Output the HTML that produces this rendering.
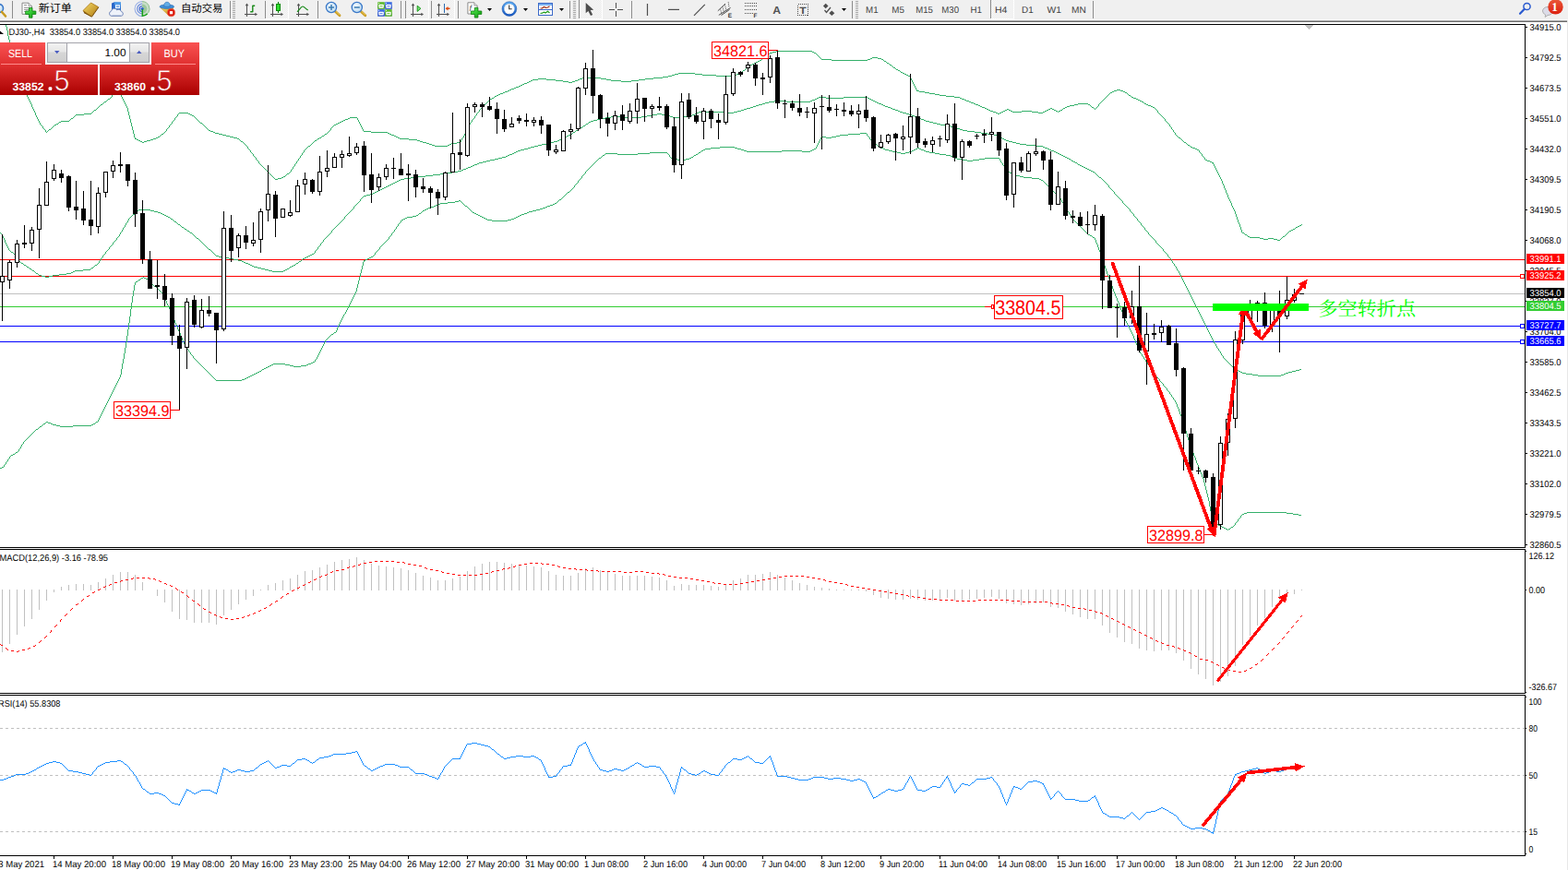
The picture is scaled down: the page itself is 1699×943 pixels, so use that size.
<!DOCTYPE html>
<html lang="zh"><head><meta charset="utf-8"><title>DJ30-,H4</title>
<style>
html,body{margin:0;padding:0;background:#fff;overflow:hidden}
svg{display:block}
text{font-family:"Liberation Sans",sans-serif;white-space:pre;text-rendering:geometricPrecision}
</style></head><body>
<svg width="1699" height="943" viewBox="0 0 1699 943">
<rect x="0" y="0" width="1699" height="943" fill="#fff"/>
<g shape-rendering="crispEdges">
<rect x="0" y="281" width="1652" height="1" fill="#ff0000"/>
<rect x="0" y="299" width="1652" height="1" fill="#ff0000"/>
<rect x="0" y="318" width="1652" height="1" fill="#c0c0c0"/>
<rect x="0" y="332" width="1652" height="1" fill="#32cd32"/>
<rect x="0" y="353" width="1652" height="1" fill="#0000ff"/>
<rect x="0" y="370" width="1652" height="1" fill="#0000ff"/>
</g>
<g shape-rendering="crispEdges">
<path d="M6 27h1v1h-1zM6 28h1v1h-1zM7 29h1v1h-1zM7 30h1v1h-1zM7 31h1v1h-1zM7 32h1v1h-1zM8 33h1v1h-1zM8 34h1v1h-1zM8 35h1v1h-1zM8 36h1v1h-1zM8 37h1v1h-1zM8 38h1v1h-1zM9 39h1v1h-1zM9 40h1v1h-1zM9 41h1v1h-1zM9 42h1v1h-1zM10 43h1v1h-1zM10 44h1v1h-1zM10 45h1v1h-1zM10 46h1v1h-1zM11 47h1v1h-1zM11 48h1v1h-1zM11 49h1v1h-1zM11 50h1v1h-1zM12 51h1v1h-1zM12 52h1v1h-1zM12 53h1v1h-1zM12 54h1v1h-1zM13 55h1v1h-1zM841 55h39v1h-39zM13 56h1v1h-1zM837 56h4v1h-4zM880 56h2v1h-2zM13 57h1v1h-1zM834 57h3v1h-3zM882 57h2v1h-2zM13 58h1v1h-1zM833 58h1v1h-1zM884 58h1v1h-1zM14 59h1v1h-1zM831 59h2v1h-2zM885 59h1v1h-1zM14 60h1v1h-1zM830 60h1v1h-1zM886 60h1v1h-1zM14 61h1v1h-1zM829 61h1v1h-1zM887 61h1v1h-1zM15 62h1v1h-1zM827 62h2v1h-2zM888 62h1v1h-1zM945 62h6v1h-6zM15 63h1v1h-1zM826 63h1v1h-1zM889 63h1v1h-1zM943 63h2v1h-2zM951 63h4v1h-4zM15 64h1v1h-1zM825 64h1v1h-1zM890 64h11v1h-11zM940 64h3v1h-3zM955 64h2v1h-2zM15 65h1v1h-1zM823 65h2v1h-2zM901 65h39v1h-39zM957 65h1v1h-1zM16 66h1v1h-1zM821 66h2v1h-2zM958 66h2v1h-2zM16 67h1v1h-1zM819 67h2v1h-2zM960 67h1v1h-1zM16 68h1v1h-1zM817 68h2v1h-2zM961 68h2v1h-2zM16 69h1v1h-1zM815 69h2v1h-2zM963 69h1v1h-1zM17 70h1v1h-1zM813 70h2v1h-2zM964 70h2v1h-2zM17 71h1v1h-1zM811 71h2v1h-2zM966 71h1v1h-1zM17 72h1v1h-1zM810 72h1v1h-1zM967 72h1v1h-1zM18 73h1v1h-1zM809 73h1v1h-1zM968 73h2v1h-2zM18 74h1v1h-1zM808 74h1v1h-1zM970 74h1v1h-1zM18 75h1v1h-1zM807 75h1v1h-1zM971 75h2v1h-2zM18 76h1v1h-1zM805 76h2v1h-2zM973 76h2v1h-2zM19 77h1v1h-1zM804 77h1v1h-1zM975 77h1v1h-1zM19 78h1v1h-1zM803 78h1v1h-1zM976 78h2v1h-2zM19 79h1v1h-1zM735 79h18v1h-18zM801 79h2v1h-2zM978 79h2v1h-2zM19 80h1v1h-1zM731 80h4v1h-4zM753 80h8v1h-8zM798 80h3v1h-3zM980 80h2v1h-2zM20 81h1v1h-1zM728 81h3v1h-3zM761 81h15v1h-15zM794 81h4v1h-4zM982 81h2v1h-2zM20 82h1v1h-1zM724 82h4v1h-4zM776 82h18v1h-18zM984 82h2v1h-2zM20 83h1v1h-1zM718 83h6v1h-6zM986 83h1v1h-1zM21 84h1v1h-1zM631 84h20v1h-20zM708 84h10v1h-10zM986 84h1v1h-1zM21 85h1v1h-1zM583 85h9v1h-9zM628 85h3v1h-3zM651 85h6v1h-6zM699 85h9v1h-9zM987 85h1v1h-1zM22 86h1v1h-1zM577 86h6v1h-6zM592 86h10v1h-10zM626 86h2v1h-2zM657 86h5v1h-5zM692 86h7v1h-7zM987 86h1v1h-1zM22 87h1v1h-1zM575 87h2v1h-2zM602 87h8v1h-8zM623 87h3v1h-3zM662 87h11v1h-11zM684 87h8v1h-8zM988 87h1v1h-1zM22 88h1v1h-1zM573 88h2v1h-2zM610 88h6v1h-6zM620 88h3v1h-3zM673 88h11v1h-11zM988 88h1v1h-1zM23 89h1v1h-1zM571 89h2v1h-2zM616 89h4v1h-4zM989 89h1v1h-1zM23 90h1v1h-1zM568 90h3v1h-3zM989 90h1v1h-1zM24 91h1v1h-1zM566 91h2v1h-2zM990 91h1v1h-1zM24 92h1v1h-1zM564 92h2v1h-2zM990 92h1v1h-1zM24 93h1v1h-1zM562 93h2v1h-2zM991 93h1v1h-1zM25 94h1v1h-1zM559 94h3v1h-3zM991 94h1v1h-1zM25 95h1v1h-1zM557 95h2v1h-2zM992 95h1v1h-1zM26 96h1v1h-1zM554 96h3v1h-3zM992 96h1v1h-1zM26 97h1v1h-1zM552 97h2v1h-2zM993 97h1v1h-1zM1210 97h4v1h-4zM26 98h1v1h-1zM126 98h1v1h-1zM550 98h2v1h-2zM993 98h3v1h-3zM1207 98h3v1h-3zM1214 98h3v1h-3zM27 99h1v1h-1zM124 99h2v1h-2zM127 99h2v1h-2zM547 99h3v1h-3zM996 99h6v1h-6zM1205 99h2v1h-2zM1217 99h2v1h-2zM27 100h1v1h-1zM123 100h1v1h-1zM129 100h1v1h-1zM545 100h2v1h-2zM1002 100h5v1h-5zM1203 100h2v1h-2zM1219 100h2v1h-2zM28 101h1v1h-1zM122 101h1v1h-1zM130 101h1v1h-1zM542 101h3v1h-3zM1007 101h6v1h-6zM1202 101h1v1h-1zM1221 101h1v1h-1zM28 102h1v1h-1zM122 102h1v1h-1zM130 102h1v1h-1zM540 102h2v1h-2zM1013 102h5v1h-5zM1201 102h1v1h-1zM1222 102h1v1h-1zM29 103h1v1h-1zM121 103h1v1h-1zM131 103h1v1h-1zM538 103h2v1h-2zM1018 103h7v1h-7zM1200 103h1v1h-1zM1223 103h2v1h-2zM29 104h1v1h-1zM121 104h1v1h-1zM131 104h1v1h-1zM536 104h2v1h-2zM1025 104h9v1h-9zM1199 104h1v1h-1zM1225 104h1v1h-1zM30 105h1v1h-1zM120 105h1v1h-1zM132 105h1v1h-1zM535 105h1v1h-1zM1034 105h6v1h-6zM1198 105h1v1h-1zM1226 105h2v1h-2zM30 106h1v1h-1zM119 106h1v1h-1zM132 106h1v1h-1zM533 106h2v1h-2zM1040 106h2v1h-2zM1197 106h1v1h-1zM1228 106h3v1h-3zM31 107h1v1h-1zM117 107h2v1h-2zM133 107h1v1h-1zM531 107h2v1h-2zM1042 107h3v1h-3zM1196 107h1v1h-1zM1231 107h2v1h-2zM31 108h1v1h-1zM116 108h1v1h-1zM133 108h1v1h-1zM530 108h1v1h-1zM1045 108h2v1h-2zM1195 108h1v1h-1zM1233 108h2v1h-2zM32 109h1v1h-1zM115 109h1v1h-1zM134 109h1v1h-1zM529 109h1v1h-1zM1047 109h3v1h-3zM1194 109h1v1h-1zM1235 109h2v1h-2zM32 110h1v1h-1zM113 110h2v1h-2zM134 110h1v1h-1zM528 110h1v1h-1zM1050 110h2v1h-2zM1193 110h1v1h-1zM1237 110h2v1h-2zM33 111h1v1h-1zM112 111h1v1h-1zM135 111h1v1h-1zM527 111h1v1h-1zM1052 111h3v1h-3zM1192 111h1v1h-1zM1239 111h1v1h-1zM33 112h1v1h-1zM111 112h1v1h-1zM135 112h1v1h-1zM526 112h1v1h-1zM1055 112h2v1h-2zM1168 112h11v1h-11zM1191 112h1v1h-1zM1240 112h2v1h-2zM34 113h1v1h-1zM109 113h2v1h-2zM136 113h1v1h-1zM525 113h1v1h-1zM1057 113h3v1h-3zM1164 113h4v1h-4zM1179 113h2v1h-2zM1190 113h1v1h-1zM1242 113h2v1h-2zM34 114h1v1h-1zM108 114h1v1h-1zM136 114h1v1h-1zM524 114h1v1h-1zM1060 114h2v1h-2zM1159 114h5v1h-5zM1181 114h1v1h-1zM1190 114h1v1h-1zM1244 114h3v1h-3zM34 115h1v1h-1zM107 115h1v1h-1zM137 115h1v1h-1zM523 115h1v1h-1zM1062 115h2v1h-2zM1156 115h3v1h-3zM1182 115h1v1h-1zM1189 115h1v1h-1zM1247 115h2v1h-2zM35 116h1v1h-1zM106 116h1v1h-1zM137 116h1v1h-1zM522 116h1v1h-1zM1064 116h3v1h-3zM1154 116h2v1h-2zM1183 116h2v1h-2zM1188 116h1v1h-1zM1249 116h2v1h-2zM35 117h1v1h-1zM105 117h1v1h-1zM138 117h1v1h-1zM521 117h1v1h-1zM1067 117h2v1h-2zM1138 117h2v1h-2zM1152 117h2v1h-2zM1185 117h1v1h-1zM1187 117h1v1h-1zM1251 117h1v1h-1zM36 118h1v1h-1zM104 118h1v1h-1zM138 118h1v1h-1zM520 118h1v1h-1zM1069 118h2v1h-2zM1091 118h2v1h-2zM1136 118h2v1h-2zM1140 118h2v1h-2zM1151 118h1v1h-1zM1186 118h1v1h-1zM1252 118h1v1h-1zM36 119h1v1h-1zM102 119h2v1h-2zM138 119h1v1h-1zM519 119h1v1h-1zM1071 119h2v1h-2zM1089 119h2v1h-2zM1093 119h2v1h-2zM1134 119h2v1h-2zM1142 119h2v1h-2zM1149 119h2v1h-2zM1253 119h1v1h-1zM37 120h1v1h-1zM101 120h1v1h-1zM138 120h1v1h-1zM519 120h1v1h-1zM1073 120h3v1h-3zM1087 120h2v1h-2zM1095 120h2v1h-2zM1107 120h11v1h-11zM1132 120h2v1h-2zM1144 120h2v1h-2zM1147 120h2v1h-2zM1254 120h1v1h-1zM37 121h1v1h-1zM100 121h1v1h-1zM139 121h1v1h-1zM518 121h1v1h-1zM1076 121h3v1h-3zM1085 121h2v1h-2zM1097 121h10v1h-10zM1118 121h7v1h-7zM1130 121h2v1h-2zM1146 121h1v1h-1zM1254 121h1v1h-1zM38 122h1v1h-1zM99 122h1v1h-1zM139 122h1v1h-1zM194 122h10v1h-10zM517 122h1v1h-1zM1079 122h2v1h-2zM1083 122h2v1h-2zM1125 122h5v1h-5zM1255 122h1v1h-1zM38 123h1v1h-1zM91 123h8v1h-8zM139 123h1v1h-1zM193 123h1v1h-1zM204 123h2v1h-2zM516 123h1v1h-1zM1081 123h2v1h-2zM1256 123h1v1h-1zM38 124h1v1h-1zM82 124h9v1h-9zM139 124h1v1h-1zM192 124h1v1h-1zM206 124h2v1h-2zM516 124h1v1h-1zM1257 124h1v1h-1zM39 125h1v1h-1zM81 125h1v1h-1zM140 125h1v1h-1zM192 125h1v1h-1zM208 125h2v1h-2zM515 125h1v1h-1zM1258 125h1v1h-1zM39 126h1v1h-1zM80 126h1v1h-1zM140 126h1v1h-1zM191 126h1v1h-1zM210 126h1v1h-1zM514 126h1v1h-1zM1259 126h1v1h-1zM40 127h1v1h-1zM79 127h1v1h-1zM140 127h1v1h-1zM190 127h1v1h-1zM211 127h1v1h-1zM379 127h8v1h-8zM514 127h1v1h-1zM1260 127h1v1h-1zM40 128h1v1h-1zM77 128h2v1h-2zM140 128h1v1h-1zM189 128h1v1h-1zM212 128h1v1h-1zM377 128h2v1h-2zM387 128h1v1h-1zM513 128h1v1h-1zM1261 128h1v1h-1zM41 129h1v1h-1zM76 129h1v1h-1zM141 129h1v1h-1zM189 129h1v1h-1zM213 129h1v1h-1zM374 129h3v1h-3zM387 129h1v1h-1zM512 129h1v1h-1zM1262 129h1v1h-1zM41 130h1v1h-1zM75 130h1v1h-1zM141 130h1v1h-1zM188 130h1v1h-1zM214 130h1v1h-1zM372 130h2v1h-2zM388 130h1v1h-1zM511 130h1v1h-1zM1262 130h1v1h-1zM42 131h1v1h-1zM66 131h9v1h-9zM141 131h1v1h-1zM187 131h1v1h-1zM215 131h1v1h-1zM370 131h2v1h-2zM388 131h1v1h-1zM511 131h1v1h-1zM1263 131h1v1h-1zM42 132h1v1h-1zM64 132h2v1h-2zM141 132h1v1h-1zM186 132h1v1h-1zM216 132h1v1h-1zM368 132h2v1h-2zM389 132h1v1h-1zM510 132h1v1h-1zM1264 132h1v1h-1zM43 133h1v1h-1zM63 133h1v1h-1zM142 133h1v1h-1zM186 133h1v1h-1zM217 133h2v1h-2zM366 133h2v1h-2zM389 133h1v1h-1zM509 133h1v1h-1zM1265 133h1v1h-1zM43 134h1v1h-1zM61 134h2v1h-2zM142 134h1v1h-1zM185 134h1v1h-1zM219 134h1v1h-1zM364 134h2v1h-2zM390 134h1v1h-1zM509 134h1v1h-1zM1266 134h1v1h-1zM44 135h1v1h-1zM59 135h2v1h-2zM142 135h1v1h-1zM184 135h1v1h-1zM220 135h1v1h-1zM362 135h2v1h-2zM390 135h1v1h-1zM508 135h1v1h-1zM1267 135h1v1h-1zM45 136h1v1h-1zM58 136h1v1h-1zM142 136h1v1h-1zM183 136h1v1h-1zM221 136h1v1h-1zM361 136h1v1h-1zM391 136h1v1h-1zM508 136h1v1h-1zM1267 136h1v1h-1zM46 137h1v1h-1zM57 137h1v1h-1zM143 137h1v1h-1zM183 137h1v1h-1zM222 137h1v1h-1zM360 137h1v1h-1zM391 137h1v1h-1zM507 137h1v1h-1zM1268 137h1v1h-1zM46 138h1v1h-1zM56 138h1v1h-1zM143 138h1v1h-1zM182 138h1v1h-1zM223 138h1v1h-1zM359 138h1v1h-1zM392 138h1v1h-1zM507 138h1v1h-1zM1269 138h1v1h-1zM47 139h1v1h-1zM55 139h1v1h-1zM143 139h1v1h-1zM181 139h1v1h-1zM224 139h1v1h-1zM358 139h1v1h-1zM392 139h1v1h-1zM506 139h1v1h-1zM1269 139h1v1h-1zM48 140h1v1h-1zM53 140h2v1h-2zM143 140h1v1h-1zM180 140h1v1h-1zM225 140h1v1h-1zM358 140h1v1h-1zM393 140h1v1h-1zM506 140h1v1h-1zM1270 140h1v1h-1zM49 141h1v1h-1zM52 141h1v1h-1zM144 141h1v1h-1zM180 141h1v1h-1zM226 141h2v1h-2zM357 141h1v1h-1zM393 141h1v1h-1zM505 141h1v1h-1zM1271 141h1v1h-1zM49 142h1v1h-1zM51 142h1v1h-1zM144 142h1v1h-1zM179 142h1v1h-1zM228 142h3v1h-3zM356 142h1v1h-1zM394 142h8v1h-8zM505 142h1v1h-1zM1271 142h1v1h-1zM50 143h1v1h-1zM144 143h1v1h-1zM178 143h1v1h-1zM231 143h2v1h-2zM355 143h1v1h-1zM402 143h18v1h-18zM504 143h1v1h-1zM1272 143h1v1h-1zM144 144h1v1h-1zM177 144h1v1h-1zM233 144h4v1h-4zM354 144h1v1h-1zM420 144h2v1h-2zM504 144h1v1h-1zM1273 144h1v1h-1zM145 145h1v1h-1zM175 145h2v1h-2zM237 145h4v1h-4zM352 145h2v1h-2zM422 145h2v1h-2zM503 145h1v1h-1zM1273 145h1v1h-1zM145 146h1v1h-1zM174 146h1v1h-1zM241 146h4v1h-4zM351 146h1v1h-1zM424 146h3v1h-3zM503 146h1v1h-1zM1274 146h1v1h-1zM145 147h1v1h-1zM173 147h1v1h-1zM245 147h4v1h-4zM349 147h2v1h-2zM427 147h2v1h-2zM502 147h1v1h-1zM1275 147h1v1h-1zM145 148h1v1h-1zM171 148h2v1h-2zM249 148h4v1h-4zM348 148h1v1h-1zM429 148h2v1h-2zM502 148h1v1h-1zM1276 148h1v1h-1zM146 149h1v1h-1zM169 149h2v1h-2zM253 149h4v1h-4zM346 149h2v1h-2zM431 149h2v1h-2zM501 149h1v1h-1zM1277 149h2v1h-2zM146 150h2v1h-2zM166 150h3v1h-3zM257 150h2v1h-2zM344 150h2v1h-2zM433 150h10v1h-10zM500 150h1v1h-1zM1279 150h1v1h-1zM148 151h2v1h-2zM163 151h3v1h-3zM259 151h1v1h-1zM343 151h1v1h-1zM443 151h9v1h-9zM500 151h1v1h-1zM1280 151h1v1h-1zM150 152h2v1h-2zM159 152h4v1h-4zM260 152h1v1h-1zM341 152h2v1h-2zM452 152h3v1h-3zM499 152h1v1h-1zM1281 152h1v1h-1zM152 153h2v1h-2zM156 153h3v1h-3zM261 153h2v1h-2zM340 153h1v1h-1zM455 153h3v1h-3zM499 153h1v1h-1zM1282 153h1v1h-1zM154 154h2v1h-2zM263 154h1v1h-1zM339 154h1v1h-1zM458 154h4v1h-4zM495 154h4v1h-4zM1283 154h2v1h-2zM264 155h1v1h-1zM338 155h1v1h-1zM462 155h3v1h-3zM489 155h6v1h-6zM1285 155h1v1h-1zM265 156h1v1h-1zM337 156h1v1h-1zM465 156h3v1h-3zM487 156h2v1h-2zM1286 156h1v1h-1zM266 157h1v1h-1zM336 157h1v1h-1zM468 157h3v1h-3zM485 157h2v1h-2zM1287 157h2v1h-2zM267 158h1v1h-1zM334 158h2v1h-2zM471 158h14v1h-14zM1289 158h1v1h-1zM268 159h1v1h-1zM333 159h1v1h-1zM1290 159h2v1h-2zM268 160h1v1h-1zM332 160h1v1h-1zM1292 160h3v1h-3zM269 161h1v1h-1zM331 161h1v1h-1zM1295 161h2v1h-2zM270 162h1v1h-1zM330 162h1v1h-1zM1297 162h2v1h-2zM271 163h1v1h-1zM329 163h1v1h-1zM1299 163h1v1h-1zM271 164h1v1h-1zM329 164h1v1h-1zM1299 164h1v1h-1zM272 165h1v1h-1zM328 165h1v1h-1zM1300 165h1v1h-1zM273 166h1v1h-1zM327 166h1v1h-1zM1301 166h1v1h-1zM274 167h1v1h-1zM327 167h1v1h-1zM1302 167h1v1h-1zM274 168h1v1h-1zM326 168h1v1h-1zM1302 168h1v1h-1zM275 169h1v1h-1zM325 169h1v1h-1zM1303 169h1v1h-1zM276 170h1v1h-1zM325 170h1v1h-1zM1304 170h1v1h-1zM277 171h1v1h-1zM324 171h1v1h-1zM1305 171h1v1h-1zM277 172h1v1h-1zM323 172h1v1h-1zM1305 172h1v1h-1zM278 173h1v1h-1zM323 173h1v1h-1zM1306 173h2v1h-2zM279 174h1v1h-1zM322 174h1v1h-1zM1308 174h3v1h-3zM280 175h1v1h-1zM321 175h1v1h-1zM1311 175h2v1h-2zM280 176h1v1h-1zM321 176h1v1h-1zM1313 176h2v1h-2zM281 177h1v1h-1zM320 177h1v1h-1zM1314 177h1v1h-1zM282 178h1v1h-1zM319 178h1v1h-1zM1315 178h1v1h-1zM283 179h1v1h-1zM319 179h1v1h-1zM1315 179h1v1h-1zM284 180h1v1h-1zM318 180h1v1h-1zM1316 180h1v1h-1zM285 181h1v1h-1zM317 181h1v1h-1zM1316 181h1v1h-1zM286 182h1v1h-1zM317 182h1v1h-1zM1317 182h1v1h-1zM287 183h1v1h-1zM316 183h1v1h-1zM1317 183h1v1h-1zM288 184h1v1h-1zM315 184h1v1h-1zM1318 184h1v1h-1zM289 185h1v1h-1zM315 185h1v1h-1zM1318 185h1v1h-1zM290 186h1v1h-1zM314 186h1v1h-1zM1319 186h1v1h-1zM291 187h1v1h-1zM313 187h1v1h-1zM1319 187h1v1h-1zM292 188h1v1h-1zM311 188h2v1h-2zM1320 188h1v1h-1zM293 189h1v1h-1zM310 189h1v1h-1zM1320 189h1v1h-1zM294 190h1v1h-1zM309 190h1v1h-1zM1321 190h1v1h-1zM295 191h1v1h-1zM307 191h2v1h-2zM1321 191h1v1h-1zM296 192h1v1h-1zM305 192h2v1h-2zM1322 192h1v1h-1zM297 193h1v1h-1zM301 193h4v1h-4zM1322 193h1v1h-1zM298 194h3v1h-3zM1323 194h1v1h-1zM1323 195h1v1h-1zM1324 196h1v1h-1zM1324 197h1v1h-1zM1324 198h1v1h-1zM1325 199h1v1h-1zM1325 200h1v1h-1zM1326 201h1v1h-1zM1326 202h1v1h-1zM1326 203h1v1h-1zM1327 204h1v1h-1zM1327 205h1v1h-1zM1328 206h1v1h-1zM1328 207h1v1h-1zM1328 208h1v1h-1zM1329 209h1v1h-1zM1329 210h1v1h-1zM1330 211h1v1h-1zM1330 212h1v1h-1zM1330 213h1v1h-1zM1331 214h1v1h-1zM1331 215h1v1h-1zM1332 216h1v1h-1zM1332 217h1v1h-1zM1333 218h1v1h-1zM1333 219h1v1h-1zM1334 220h1v1h-1zM1334 221h1v1h-1zM1334 222h1v1h-1zM1335 223h1v1h-1zM1335 224h1v1h-1zM1336 225h1v1h-1zM1336 226h1v1h-1zM1337 227h1v1h-1zM1337 228h1v1h-1zM1338 229h1v1h-1zM1338 230h1v1h-1zM1338 231h1v1h-1zM1339 232h1v1h-1zM1339 233h1v1h-1zM1339 234h1v1h-1zM1340 235h1v1h-1zM1340 236h1v1h-1zM1340 237h1v1h-1zM1341 238h1v1h-1zM1341 239h1v1h-1zM1341 240h1v1h-1zM1342 241h1v1h-1zM1342 242h1v1h-1zM1343 243h1v1h-1zM1410 243h1v1h-1zM1343 244h1v1h-1zM1408 244h2v1h-2zM1343 245h1v1h-1zM1406 245h2v1h-2zM1344 246h1v1h-1zM1404 246h2v1h-2zM1344 247h1v1h-1zM1403 247h1v1h-1zM1344 248h1v1h-1zM1401 248h2v1h-2zM1345 249h1v1h-1zM1399 249h2v1h-2zM1345 250h1v1h-1zM1397 250h2v1h-2zM1345 251h1v1h-1zM1396 251h1v1h-1zM1346 252h2v1h-2zM1395 252h1v1h-1zM1348 253h1v1h-1zM1394 253h1v1h-1zM1349 254h2v1h-2zM1393 254h1v1h-1zM1351 255h1v1h-1zM1392 255h1v1h-1zM1352 256h2v1h-2zM1390 256h2v1h-2zM1354 257h11v1h-11zM1389 257h1v1h-1zM1365 258h4v1h-4zM1374 258h6v1h-6zM1388 258h1v1h-1zM1369 259h5v1h-5zM1380 259h4v1h-4zM1387 259h1v1h-1zM1384 260h3v1h-3z" fill="#34b06a" shape-rendering="crispEdges"/>
<path d="M887 105h8v1h-8zM914 105h26v1h-26zM885 106h2v1h-2zM895 106h19v1h-19zM940 106h2v1h-2zM883 107h2v1h-2zM942 107h2v1h-2zM880 108h3v1h-3zM944 108h2v1h-2zM839 109h13v1h-13zM878 109h2v1h-2zM946 109h2v1h-2zM833 110h6v1h-6zM852 110h26v1h-26zM948 110h2v1h-2zM829 111h4v1h-4zM950 111h2v1h-2zM826 112h3v1h-3zM952 112h3v1h-3zM822 113h4v1h-4zM955 113h2v1h-2zM819 114h3v1h-3zM957 114h2v1h-2zM816 115h3v1h-3zM959 115h3v1h-3zM813 116h3v1h-3zM962 116h3v1h-3zM809 117h4v1h-4zM965 117h2v1h-2zM806 118h3v1h-3zM967 118h3v1h-3zM803 119h3v1h-3zM970 119h3v1h-3zM799 120h4v1h-4zM973 120h2v1h-2zM757 121h32v1h-32zM795 121h4v1h-4zM975 121h3v1h-3zM755 122h2v1h-2zM789 122h6v1h-6zM978 122h4v1h-4zM712 123h5v1h-5zM753 123h2v1h-2zM982 123h3v1h-3zM706 124h6v1h-6zM717 124h5v1h-5zM750 124h3v1h-3zM985 124h3v1h-3zM701 125h5v1h-5zM722 125h4v1h-4zM748 125h2v1h-2zM988 125h3v1h-3zM662 126h11v1h-11zM695 126h6v1h-6zM726 126h3v1h-3zM739 126h9v1h-9zM991 126h2v1h-2zM656 127h6v1h-6zM673 127h22v1h-22zM729 127h10v1h-10zM993 127h3v1h-3zM651 128h5v1h-5zM996 128h2v1h-2zM647 129h4v1h-4zM998 129h3v1h-3zM643 130h4v1h-4zM1001 130h2v1h-2zM640 131h3v1h-3zM1003 131h4v1h-4zM638 132h2v1h-2zM1007 132h4v1h-4zM637 133h1v1h-1zM1011 133h4v1h-4zM635 134h2v1h-2zM1015 134h4v1h-4zM634 135h1v1h-1zM1019 135h5v1h-5zM632 136h2v1h-2zM1024 136h6v1h-6zM631 137h1v1h-1zM1030 137h4v1h-4zM629 138h2v1h-2zM1034 138h3v1h-3zM627 139h2v1h-2zM1037 139h3v1h-3zM626 140h1v1h-1zM1040 140h3v1h-3zM624 141h2v1h-2zM1043 141h5v1h-5zM623 142h1v1h-1zM1048 142h8v1h-8zM621 143h2v1h-2zM1056 143h7v1h-7zM620 144h1v1h-1zM1063 144h7v1h-7zM618 145h2v1h-2zM1070 145h7v1h-7zM616 146h2v1h-2zM1077 146h4v1h-4zM614 147h2v1h-2zM1081 147h2v1h-2zM612 148h2v1h-2zM1083 148h2v1h-2zM610 149h2v1h-2zM1085 149h1v1h-1zM608 150h2v1h-2zM1086 150h2v1h-2zM606 151h2v1h-2zM1088 151h2v1h-2zM604 152h2v1h-2zM1090 152h3v1h-3zM600 153h4v1h-4zM1093 153h4v1h-4zM596 154h4v1h-4zM1097 154h4v1h-4zM592 155h4v1h-4zM1101 155h4v1h-4zM587 156h5v1h-5zM1105 156h7v1h-7zM583 157h4v1h-4zM1112 157h11v1h-11zM579 158h4v1h-4zM1123 158h7v1h-7zM575 159h4v1h-4zM1130 159h2v1h-2zM572 160h3v1h-3zM1132 160h3v1h-3zM568 161h4v1h-4zM1135 161h2v1h-2zM564 162h4v1h-4zM1137 162h2v1h-2zM561 163h3v1h-3zM1139 163h3v1h-3zM559 164h2v1h-2zM1142 164h2v1h-2zM557 165h2v1h-2zM1144 165h2v1h-2zM555 166h2v1h-2zM1146 166h2v1h-2zM552 167h3v1h-3zM1148 167h2v1h-2zM550 168h2v1h-2zM1150 168h2v1h-2zM548 169h2v1h-2zM1152 169h2v1h-2zM544 170h4v1h-4zM1154 170h2v1h-2zM540 171h4v1h-4zM1156 171h2v1h-2zM536 172h4v1h-4zM1158 172h2v1h-2zM531 173h5v1h-5zM1160 173h1v1h-1zM527 174h4v1h-4zM1161 174h2v1h-2zM523 175h4v1h-4zM1163 175h2v1h-2zM519 176h4v1h-4zM1165 176h2v1h-2zM517 177h2v1h-2zM1167 177h1v1h-1zM514 178h3v1h-3zM1168 178h2v1h-2zM512 179h2v1h-2zM1170 179h2v1h-2zM510 180h2v1h-2zM1172 180h2v1h-2zM507 181h3v1h-3zM1174 181h2v1h-2zM505 182h2v1h-2zM1176 182h2v1h-2zM502 183h3v1h-3zM1178 183h2v1h-2zM500 184h2v1h-2zM1180 184h2v1h-2zM496 185h4v1h-4zM1182 185h2v1h-2zM490 186h6v1h-6zM1184 186h2v1h-2zM484 187h6v1h-6zM1186 187h1v1h-1zM477 188h7v1h-7zM1187 188h1v1h-1zM469 189h8v1h-8zM1188 189h1v1h-1zM461 190h8v1h-8zM1189 190h1v1h-1zM453 191h8v1h-8zM1190 191h1v1h-1zM445 192h8v1h-8zM1191 192h2v1h-2zM438 193h7v1h-7zM1193 193h1v1h-1zM434 194h4v1h-4zM1194 194h1v1h-1zM432 195h2v1h-2zM1195 195h1v1h-1zM430 196h2v1h-2zM1196 196h1v1h-1zM428 197h2v1h-2zM1197 197h1v1h-1zM426 198h2v1h-2zM1198 198h1v1h-1zM424 199h2v1h-2zM1199 199h1v1h-1zM422 200h2v1h-2zM1200 200h1v1h-1zM420 201h2v1h-2zM1201 201h1v1h-1zM418 202h2v1h-2zM1201 202h1v1h-1zM416 203h2v1h-2zM1202 203h1v1h-1zM414 204h2v1h-2zM1203 204h1v1h-1zM412 205h2v1h-2zM1204 205h1v1h-1zM410 206h2v1h-2zM1205 206h1v1h-1zM408 207h2v1h-2zM1206 207h1v1h-1zM406 208h2v1h-2zM1207 208h1v1h-1zM404 209h2v1h-2zM1207 209h1v1h-1zM401 210h3v1h-3zM1208 210h1v1h-1zM397 211h4v1h-4zM1209 211h1v1h-1zM394 212h3v1h-3zM1210 212h1v1h-1zM393 213h1v1h-1zM1211 213h1v1h-1zM392 214h1v1h-1zM1212 214h1v1h-1zM391 215h1v1h-1zM1213 215h1v1h-1zM390 216h1v1h-1zM1214 216h1v1h-1zM390 217h1v1h-1zM1215 217h1v1h-1zM389 218h1v1h-1zM1216 218h1v1h-1zM388 219h1v1h-1zM1216 219h1v1h-1zM387 220h1v1h-1zM1217 220h1v1h-1zM386 221h1v1h-1zM1218 221h1v1h-1zM385 222h1v1h-1zM1219 222h1v1h-1zM384 223h1v1h-1zM1220 223h1v1h-1zM383 224h1v1h-1zM1221 224h1v1h-1zM383 225h1v1h-1zM1222 225h1v1h-1zM382 226h1v1h-1zM1223 226h1v1h-1zM150 227h13v1h-13zM381 227h1v1h-1zM1224 227h1v1h-1zM149 228h1v1h-1zM163 228h4v1h-4zM380 228h1v1h-1zM1224 228h1v1h-1zM148 229h1v1h-1zM167 229h4v1h-4zM379 229h1v1h-1zM1225 229h1v1h-1zM147 230h1v1h-1zM171 230h3v1h-3zM378 230h1v1h-1zM1226 230h1v1h-1zM146 231h1v1h-1zM174 231h2v1h-2zM377 231h1v1h-1zM1227 231h1v1h-1zM144 232h2v1h-2zM176 232h2v1h-2zM376 232h1v1h-1zM1228 232h1v1h-1zM143 233h1v1h-1zM178 233h2v1h-2zM375 233h1v1h-1zM1228 233h1v1h-1zM142 234h1v1h-1zM180 234h2v1h-2zM374 234h1v1h-1zM1229 234h1v1h-1zM141 235h1v1h-1zM182 235h2v1h-2zM373 235h1v1h-1zM1230 235h1v1h-1zM140 236h1v1h-1zM184 236h1v1h-1zM373 236h1v1h-1zM1231 236h1v1h-1zM139 237h1v1h-1zM185 237h2v1h-2zM372 237h1v1h-1zM1232 237h1v1h-1zM139 238h1v1h-1zM187 238h1v1h-1zM371 238h1v1h-1zM1232 238h1v1h-1zM138 239h1v1h-1zM188 239h1v1h-1zM370 239h1v1h-1zM1233 239h1v1h-1zM138 240h1v1h-1zM189 240h2v1h-2zM369 240h1v1h-1zM1234 240h1v1h-1zM137 241h1v1h-1zM191 241h1v1h-1zM368 241h1v1h-1zM1235 241h1v1h-1zM136 242h1v1h-1zM192 242h1v1h-1zM367 242h1v1h-1zM1236 242h1v1h-1zM136 243h1v1h-1zM193 243h2v1h-2zM366 243h1v1h-1zM1236 243h1v1h-1zM135 244h1v1h-1zM195 244h1v1h-1zM365 244h1v1h-1zM1237 244h1v1h-1zM135 245h1v1h-1zM196 245h1v1h-1zM364 245h1v1h-1zM1238 245h1v1h-1zM134 246h1v1h-1zM197 246h2v1h-2zM363 246h1v1h-1zM1239 246h1v1h-1zM133 247h1v1h-1zM199 247h1v1h-1zM362 247h1v1h-1zM1240 247h1v1h-1zM133 248h1v1h-1zM200 248h2v1h-2zM361 248h1v1h-1zM1240 248h1v1h-1zM132 249h1v1h-1zM202 249h1v1h-1zM360 249h1v1h-1zM1241 249h1v1h-1zM132 250h1v1h-1zM203 250h2v1h-2zM359 250h1v1h-1zM1242 250h1v1h-1zM131 251h1v1h-1zM205 251h1v1h-1zM359 251h1v1h-1zM1243 251h1v1h-1zM0 252h1v1h-1zM130 252h1v1h-1zM206 252h2v1h-2zM358 252h1v1h-1zM1244 252h1v1h-1zM1 253h1v1h-1zM130 253h1v1h-1zM208 253h1v1h-1zM357 253h1v1h-1zM1244 253h1v1h-1zM2 254h1v1h-1zM129 254h1v1h-1zM209 254h1v1h-1zM356 254h1v1h-1zM1245 254h1v1h-1zM2 255h1v1h-1zM129 255h1v1h-1zM210 255h1v1h-1zM355 255h1v1h-1zM1246 255h1v1h-1zM3 256h1v1h-1zM128 256h1v1h-1zM211 256h1v1h-1zM354 256h1v1h-1zM1247 256h1v1h-1zM3 257h1v1h-1zM127 257h1v1h-1zM212 257h1v1h-1zM353 257h1v1h-1zM1248 257h1v1h-1zM4 258h1v1h-1zM126 258h1v1h-1zM213 258h2v1h-2zM352 258h1v1h-1zM1249 258h1v1h-1zM4 259h1v1h-1zM126 259h1v1h-1zM215 259h1v1h-1zM351 259h1v1h-1zM1250 259h1v1h-1zM5 260h1v1h-1zM125 260h1v1h-1zM216 260h1v1h-1zM350 260h1v1h-1zM1251 260h1v1h-1zM5 261h1v1h-1zM124 261h1v1h-1zM217 261h1v1h-1zM350 261h1v1h-1zM1252 261h1v1h-1zM5 262h1v1h-1zM123 262h1v1h-1zM218 262h1v1h-1zM349 262h1v1h-1zM1252 262h1v1h-1zM6 263h1v1h-1zM122 263h1v1h-1zM219 263h1v1h-1zM348 263h1v1h-1zM1253 263h1v1h-1zM6 264h1v1h-1zM122 264h1v1h-1zM220 264h1v1h-1zM347 264h1v1h-1zM1254 264h1v1h-1zM7 265h1v1h-1zM121 265h1v1h-1zM221 265h1v1h-1zM347 265h1v1h-1zM1255 265h1v1h-1zM7 266h1v1h-1zM120 266h1v1h-1zM222 266h1v1h-1zM346 266h1v1h-1zM1256 266h1v1h-1zM8 267h1v1h-1zM119 267h1v1h-1zM223 267h1v1h-1zM345 267h1v1h-1zM1257 267h1v1h-1zM8 268h1v1h-1zM118 268h1v1h-1zM224 268h1v1h-1zM344 268h1v1h-1zM1258 268h1v1h-1zM9 269h1v1h-1zM118 269h1v1h-1zM225 269h1v1h-1zM344 269h1v1h-1zM1259 269h1v1h-1zM9 270h1v1h-1zM117 270h1v1h-1zM226 270h2v1h-2zM343 270h1v1h-1zM1260 270h1v1h-1zM10 271h1v1h-1zM116 271h1v1h-1zM228 271h1v1h-1zM342 271h1v1h-1zM1260 271h1v1h-1zM11 272h1v1h-1zM115 272h1v1h-1zM229 272h1v1h-1zM341 272h1v1h-1zM1261 272h1v1h-1zM12 273h2v1h-2zM114 273h1v1h-1zM230 273h1v1h-1zM341 273h1v1h-1zM1262 273h1v1h-1zM14 274h1v1h-1zM114 274h1v1h-1zM231 274h1v1h-1zM340 274h1v1h-1zM1263 274h1v1h-1zM15 275h1v1h-1zM113 275h1v1h-1zM232 275h1v1h-1zM338 275h2v1h-2zM1264 275h1v1h-1zM16 276h1v1h-1zM112 276h1v1h-1zM233 276h1v1h-1zM336 276h2v1h-2zM1265 276h1v1h-1zM17 277h1v1h-1zM111 277h1v1h-1zM234 277h3v1h-3zM334 277h2v1h-2zM1265 277h1v1h-1zM17 278h1v1h-1zM111 278h1v1h-1zM237 278h5v1h-5zM332 278h2v1h-2zM1266 278h1v1h-1zM18 279h1v1h-1zM110 279h1v1h-1zM242 279h6v1h-6zM330 279h2v1h-2zM1267 279h1v1h-1zM19 280h1v1h-1zM109 280h1v1h-1zM248 280h5v1h-5zM328 280h2v1h-2zM1268 280h1v1h-1zM20 281h1v1h-1zM109 281h1v1h-1zM253 281h5v1h-5zM327 281h1v1h-1zM1269 281h1v1h-1zM20 282h1v1h-1zM108 282h1v1h-1zM258 282h4v1h-4zM326 282h1v1h-1zM1269 282h1v1h-1zM21 283h1v1h-1zM107 283h1v1h-1zM262 283h2v1h-2zM324 283h2v1h-2zM1270 283h1v1h-1zM22 284h1v1h-1zM107 284h1v1h-1zM264 284h2v1h-2zM323 284h1v1h-1zM1270 284h1v1h-1zM23 285h2v1h-2zM106 285h1v1h-1zM266 285h3v1h-3zM321 285h2v1h-2zM1271 285h1v1h-1zM25 286h1v1h-1zM105 286h1v1h-1zM269 286h2v1h-2zM320 286h1v1h-1zM1272 286h1v1h-1zM26 287h2v1h-2zM103 287h2v1h-2zM271 287h2v1h-2zM318 287h2v1h-2zM1272 287h1v1h-1zM28 288h1v1h-1zM102 288h1v1h-1zM273 288h2v1h-2zM316 288h2v1h-2zM1273 288h1v1h-1zM29 289h2v1h-2zM101 289h1v1h-1zM275 289h4v1h-4zM314 289h2v1h-2zM1274 289h1v1h-1zM31 290h1v1h-1zM99 290h2v1h-2zM279 290h4v1h-4zM313 290h1v1h-1zM1274 290h1v1h-1zM32 291h2v1h-2zM98 291h1v1h-1zM283 291h4v1h-4zM311 291h2v1h-2zM1275 291h1v1h-1zM34 292h1v1h-1zM90 292h8v1h-8zM287 292h4v1h-4zM309 292h2v1h-2zM1275 292h1v1h-1zM35 293h2v1h-2zM81 293h9v1h-9zM291 293h4v1h-4zM307 293h2v1h-2zM1276 293h1v1h-1zM37 294h1v1h-1zM79 294h2v1h-2zM295 294h12v1h-12zM1277 294h1v1h-1zM38 295h1v1h-1zM77 295h2v1h-2zM1277 295h1v1h-1zM39 296h2v1h-2zM72 296h5v1h-5zM1278 296h1v1h-1zM41 297h1v1h-1zM64 297h8v1h-8zM1278 297h1v1h-1zM42 298h3v1h-3zM57 298h7v1h-7zM1279 298h1v1h-1zM45 299h4v1h-4zM53 299h4v1h-4zM1279 299h1v1h-1zM49 300h4v1h-4zM1280 300h1v1h-1zM1280 301h1v1h-1zM1281 302h1v1h-1zM1281 303h1v1h-1zM1282 304h1v1h-1zM1282 305h1v1h-1zM1283 306h1v1h-1zM1283 307h1v1h-1zM1284 308h1v1h-1zM1284 309h1v1h-1zM1285 310h1v1h-1zM1285 311h1v1h-1zM1286 312h1v1h-1zM1286 313h1v1h-1zM1287 314h1v1h-1zM1287 315h1v1h-1zM1288 316h1v1h-1zM1288 317h1v1h-1zM1289 318h1v1h-1zM1289 319h1v1h-1zM1290 320h1v1h-1zM1290 321h1v1h-1zM1291 322h1v1h-1zM1291 323h1v1h-1zM1292 324h1v1h-1zM1292 325h1v1h-1zM1293 326h1v1h-1zM1293 327h1v1h-1zM1294 328h1v1h-1zM1294 329h1v1h-1zM1295 330h1v1h-1zM1295 331h1v1h-1zM1296 332h1v1h-1zM1296 333h1v1h-1zM1297 334h1v1h-1zM1297 335h1v1h-1zM1298 336h1v1h-1zM1298 337h1v1h-1zM1299 338h1v1h-1zM1299 339h1v1h-1zM1300 340h1v1h-1zM1300 341h1v1h-1zM1301 342h1v1h-1zM1301 343h1v1h-1zM1302 344h1v1h-1zM1302 345h1v1h-1zM1303 346h1v1h-1zM1303 347h1v1h-1zM1304 348h1v1h-1zM1304 349h1v1h-1zM1305 350h1v1h-1zM1305 351h1v1h-1zM1306 352h1v1h-1zM1306 353h1v1h-1zM1307 354h1v1h-1zM1307 355h1v1h-1zM1308 356h1v1h-1zM1308 357h1v1h-1zM1309 358h1v1h-1zM1309 359h1v1h-1zM1310 360h1v1h-1zM1310 361h1v1h-1zM1311 362h1v1h-1zM1311 363h1v1h-1zM1312 364h1v1h-1zM1312 365h1v1h-1zM1313 366h1v1h-1zM1313 367h1v1h-1zM1314 368h1v1h-1zM1314 369h1v1h-1zM1315 370h1v1h-1zM1315 371h1v1h-1zM1316 372h1v1h-1zM1317 373h1v1h-1zM1317 374h1v1h-1zM1318 375h1v1h-1zM1318 376h1v1h-1zM1319 377h1v1h-1zM1320 378h1v1h-1zM1320 379h1v1h-1zM1321 380h1v1h-1zM1322 381h1v1h-1zM1322 382h1v1h-1zM1323 383h1v1h-1zM1323 384h1v1h-1zM1324 385h1v1h-1zM1325 386h1v1h-1zM1325 387h1v1h-1zM1326 388h1v1h-1zM1327 389h1v1h-1zM1328 390h1v1h-1zM1329 391h1v1h-1zM1330 392h1v1h-1zM1331 393h1v1h-1zM1332 394h1v1h-1zM1333 395h1v1h-1zM1334 396h1v1h-1zM1335 397h1v1h-1zM1336 398h1v1h-1zM1337 399h2v1h-2zM1339 400h2v1h-2zM1408 400h2v1h-2zM1341 401h1v1h-1zM1404 401h4v1h-4zM1342 402h2v1h-2zM1400 402h4v1h-4zM1344 403h2v1h-2zM1396 403h4v1h-4zM1346 404h4v1h-4zM1393 404h3v1h-3zM1350 405h7v1h-7zM1391 405h2v1h-2zM1357 406h6v1h-6zM1388 406h3v1h-3zM1363 407h25v1h-25z" fill="#34b06a" shape-rendering="crispEdges"/>
<path d="M932 144h7v1h-7zM919 145h13v1h-13zM939 145h1v1h-1zM910 146h9v1h-9zM939 146h1v1h-1zM906 147h4v1h-4zM940 147h1v1h-1zM890 148h5v1h-5zM901 148h5v1h-5zM941 148h1v1h-1zM889 149h1v1h-1zM895 149h6v1h-6zM942 149h1v1h-1zM889 150h1v1h-1zM942 150h1v1h-1zM888 151h1v1h-1zM943 151h1v1h-1zM888 152h1v1h-1zM944 152h1v1h-1zM887 153h1v1h-1zM945 153h1v1h-1zM887 154h1v1h-1zM946 154h1v1h-1zM886 155h1v1h-1zM947 155h2v1h-2zM886 156h1v1h-1zM949 156h1v1h-1zM885 157h1v1h-1zM950 157h1v1h-1zM885 158h1v1h-1zM951 158h1v1h-1zM780 159h16v1h-16zM884 159h1v1h-1zM952 159h2v1h-2zM770 160h10v1h-10zM796 160h3v1h-3zM884 160h1v1h-1zM954 160h3v1h-3zM994 160h2v1h-2zM764 161h6v1h-6zM799 161h4v1h-4zM882 161h2v1h-2zM957 161h2v1h-2zM992 161h2v1h-2zM996 161h2v1h-2zM762 162h2v1h-2zM803 162h3v1h-3zM880 162h2v1h-2zM959 162h4v1h-4zM990 162h2v1h-2zM998 162h3v1h-3zM760 163h2v1h-2zM806 163h3v1h-3zM847 163h22v1h-22zM878 163h2v1h-2zM963 163h4v1h-4zM988 163h2v1h-2zM1001 163h2v1h-2zM759 164h1v1h-1zM809 164h38v1h-38zM869 164h9v1h-9zM967 164h5v1h-5zM985 164h3v1h-3zM1003 164h4v1h-4zM704 165h19v1h-19zM757 165h2v1h-2zM972 165h4v1h-4zM981 165h4v1h-4zM1007 165h6v1h-6zM656 166h13v1h-13zM691 166h13v1h-13zM723 166h1v1h-1zM756 166h1v1h-1zM976 166h5v1h-5zM1013 166h5v1h-5zM655 167h1v1h-1zM669 167h22v1h-22zM724 167h1v1h-1zM754 167h2v1h-2zM1018 167h7v1h-7zM653 168h2v1h-2zM725 168h1v1h-1zM752 168h2v1h-2zM1025 168h5v1h-5zM652 169h1v1h-1zM725 169h1v1h-1zM751 169h1v1h-1zM1030 169h2v1h-2zM651 170h1v1h-1zM726 170h1v1h-1zM749 170h2v1h-2zM1032 170h3v1h-3zM649 171h2v1h-2zM727 171h1v1h-1zM747 171h2v1h-2zM1035 171h2v1h-2zM1067 171h16v1h-16zM648 172h1v1h-1zM728 172h6v1h-6zM743 172h4v1h-4zM1037 172h5v1h-5zM1061 172h6v1h-6zM1083 172h1v1h-1zM647 173h1v1h-1zM734 173h9v1h-9zM1042 173h6v1h-6zM1054 173h7v1h-7zM1083 173h1v1h-1zM646 174h1v1h-1zM1048 174h6v1h-6zM1084 174h1v1h-1zM645 175h1v1h-1zM1084 175h1v1h-1zM644 176h1v1h-1zM1085 176h1v1h-1zM643 177h1v1h-1zM1086 177h1v1h-1zM642 178h1v1h-1zM1086 178h1v1h-1zM641 179h1v1h-1zM1087 179h1v1h-1zM640 180h1v1h-1zM1088 180h1v1h-1zM639 181h1v1h-1zM1089 181h1v1h-1zM638 182h1v1h-1zM1090 182h1v1h-1zM637 183h1v1h-1zM1090 183h1v1h-1zM636 184h1v1h-1zM1091 184h1v1h-1zM635 185h1v1h-1zM1092 185h1v1h-1zM634 186h1v1h-1zM1093 186h1v1h-1zM634 187h1v1h-1zM1094 187h2v1h-2zM633 188h1v1h-1zM1096 188h3v1h-3zM632 189h1v1h-1zM1099 189h2v1h-2zM631 190h1v1h-1zM1101 190h4v1h-4zM630 191h1v1h-1zM1105 191h4v1h-4zM630 192h1v1h-1zM1109 192h9v1h-9zM629 193h1v1h-1zM1118 193h8v1h-8zM628 194h1v1h-1zM1126 194h2v1h-2zM627 195h1v1h-1zM1128 195h2v1h-2zM626 196h1v1h-1zM1130 196h1v1h-1zM626 197h1v1h-1zM1131 197h1v1h-1zM625 198h1v1h-1zM1132 198h1v1h-1zM624 199h1v1h-1zM1133 199h1v1h-1zM623 200h1v1h-1zM1134 200h1v1h-1zM622 201h1v1h-1zM1135 201h1v1h-1zM622 202h1v1h-1zM1136 202h1v1h-1zM621 203h1v1h-1zM1137 203h1v1h-1zM620 204h1v1h-1zM1138 204h1v1h-1zM619 205h1v1h-1zM1139 205h1v1h-1zM618 206h1v1h-1zM1140 206h1v1h-1zM617 207h1v1h-1zM1141 207h1v1h-1zM615 208h2v1h-2zM1142 208h1v1h-1zM614 209h1v1h-1zM1143 209h1v1h-1zM613 210h1v1h-1zM1144 210h1v1h-1zM612 211h1v1h-1zM1145 211h1v1h-1zM611 212h1v1h-1zM1146 212h1v1h-1zM610 213h1v1h-1zM1147 213h1v1h-1zM609 214h1v1h-1zM1148 214h1v1h-1zM608 215h1v1h-1zM1149 215h1v1h-1zM606 216h2v1h-2zM1149 216h1v1h-1zM497 217h2v1h-2zM605 217h1v1h-1zM1150 217h1v1h-1zM493 218h4v1h-4zM499 218h1v1h-1zM604 218h1v1h-1zM1150 218h1v1h-1zM485 219h8v1h-8zM500 219h1v1h-1zM603 219h1v1h-1zM1151 219h1v1h-1zM477 220h8v1h-8zM501 220h1v1h-1zM601 220h2v1h-2zM1152 220h1v1h-1zM475 221h2v1h-2zM502 221h1v1h-1zM599 221h2v1h-2zM1152 221h1v1h-1zM472 222h3v1h-3zM503 222h1v1h-1zM596 222h3v1h-3zM1153 222h1v1h-1zM470 223h2v1h-2zM504 223h2v1h-2zM593 223h3v1h-3zM1153 223h1v1h-1zM467 224h3v1h-3zM506 224h1v1h-1zM591 224h2v1h-2zM1154 224h1v1h-1zM464 225h3v1h-3zM507 225h1v1h-1zM588 225h3v1h-3zM1155 225h1v1h-1zM462 226h2v1h-2zM508 226h1v1h-1zM585 226h3v1h-3zM1155 226h1v1h-1zM460 227h2v1h-2zM509 227h1v1h-1zM581 227h4v1h-4zM1156 227h1v1h-1zM458 228h2v1h-2zM510 228h1v1h-1zM577 228h4v1h-4zM1156 228h1v1h-1zM457 229h1v1h-1zM511 229h1v1h-1zM573 229h4v1h-4zM1157 229h1v1h-1zM456 230h1v1h-1zM512 230h2v1h-2zM571 230h2v1h-2zM1158 230h1v1h-1zM454 231h2v1h-2zM514 231h2v1h-2zM568 231h3v1h-3zM1158 231h1v1h-1zM453 232h1v1h-1zM516 232h2v1h-2zM565 232h3v1h-3zM1159 232h1v1h-1zM451 233h2v1h-2zM518 233h2v1h-2zM563 233h2v1h-2zM1160 233h1v1h-1zM447 234h4v1h-4zM520 234h2v1h-2zM561 234h2v1h-2zM1160 234h1v1h-1zM441 235h6v1h-6zM522 235h2v1h-2zM559 235h2v1h-2zM1161 235h1v1h-1zM439 236h2v1h-2zM524 236h2v1h-2zM557 236h2v1h-2zM1161 236h1v1h-1zM437 237h2v1h-2zM526 237h2v1h-2zM554 237h3v1h-3zM1162 237h1v1h-1zM435 238h2v1h-2zM528 238h5v1h-5zM550 238h4v1h-4zM1163 238h1v1h-1zM434 239h1v1h-1zM533 239h17v1h-17zM1164 239h1v1h-1zM434 240h1v1h-1zM1165 240h1v1h-1zM433 241h1v1h-1zM1166 241h1v1h-1zM432 242h1v1h-1zM1167 242h1v1h-1zM431 243h1v1h-1zM1168 243h1v1h-1zM431 244h1v1h-1zM1169 244h1v1h-1zM430 245h1v1h-1zM1170 245h1v1h-1zM429 246h1v1h-1zM1171 246h1v1h-1zM429 247h1v1h-1zM1172 247h1v1h-1zM428 248h1v1h-1zM1173 248h1v1h-1zM427 249h1v1h-1zM1174 249h1v1h-1zM427 250h1v1h-1zM1175 250h1v1h-1zM426 251h1v1h-1zM1176 251h1v1h-1zM425 252h1v1h-1zM1177 252h1v1h-1zM424 253h1v1h-1zM1178 253h1v1h-1zM424 254h1v1h-1zM1179 254h2v1h-2zM423 255h1v1h-1zM1181 255h2v1h-2zM422 256h1v1h-1zM1183 256h1v1h-1zM421 257h1v1h-1zM1184 257h2v1h-2zM421 258h1v1h-1zM1186 258h1v1h-1zM420 259h1v1h-1zM1186 259h1v1h-1zM419 260h1v1h-1zM1187 260h1v1h-1zM418 261h1v1h-1zM1187 261h1v1h-1zM417 262h1v1h-1zM1187 262h1v1h-1zM416 263h1v1h-1zM1188 263h1v1h-1zM415 264h1v1h-1zM1188 264h1v1h-1zM414 265h1v1h-1zM1189 265h1v1h-1zM413 266h1v1h-1zM1189 266h1v1h-1zM412 267h1v1h-1zM1189 267h1v1h-1zM411 268h1v1h-1zM1190 268h1v1h-1zM411 269h1v1h-1zM1190 269h1v1h-1zM410 270h1v1h-1zM1190 270h1v1h-1zM409 271h1v1h-1zM1191 271h1v1h-1zM408 272h1v1h-1zM1191 272h2v1h-2zM407 273h1v1h-1zM1192 273h1v1h-1zM406 274h1v1h-1zM1192 274h2v1h-2zM406 275h1v1h-1zM1193 275h1v1h-1zM405 276h1v1h-1zM1193 276h1v1h-1zM404 277h1v1h-1zM1193 277h1v1h-1zM402 278h2v1h-2zM1194 278h1v1h-1zM400 279h2v1h-2zM1194 279h1v1h-1zM398 280h2v1h-2zM1194 280h1v1h-1zM396 281h2v1h-2zM1195 281h1v1h-1zM394 282h2v1h-2zM1195 282h1v1h-1zM394 283h1v1h-1zM1195 283h1v1h-1zM393 284h1v1h-1zM1196 284h1v1h-1zM393 285h1v1h-1zM1196 285h1v1h-1zM393 286h1v1h-1zM1196 286h1v1h-1zM393 287h1v1h-1zM1196 287h1v1h-1zM392 288h1v1h-1zM1197 288h1v1h-1zM392 289h1v1h-1zM1197 289h1v1h-1zM392 290h1v1h-1zM1197 290h1v1h-1zM392 291h1v1h-1zM1198 291h1v1h-1zM391 292h1v1h-1zM1198 292h1v1h-1zM391 293h1v1h-1zM1198 293h1v1h-1zM391 294h1v1h-1zM1199 294h1v1h-1zM391 295h1v1h-1zM1199 295h1v1h-1zM390 296h1v1h-1zM1199 296h1v1h-1zM390 297h1v1h-1zM1200 297h1v1h-1zM390 298h1v1h-1zM1200 298h1v1h-1zM390 299h1v1h-1zM1201 299h1v1h-1zM155 300h1v1h-1zM389 300h1v1h-1zM1201 300h1v1h-1zM153 301h2v1h-2zM156 301h2v1h-2zM389 301h1v1h-1zM1201 301h1v1h-1zM152 302h1v1h-1zM158 302h2v1h-2zM389 302h1v1h-1zM1202 302h1v1h-1zM150 303h2v1h-2zM160 303h1v1h-1zM389 303h1v1h-1zM1202 303h1v1h-1zM149 304h1v1h-1zM161 304h1v1h-1zM388 304h1v1h-1zM1202 304h1v1h-1zM147 305h2v1h-2zM162 305h1v1h-1zM388 305h1v1h-1zM1203 305h1v1h-1zM146 306h1v1h-1zM163 306h1v1h-1zM388 306h1v1h-1zM1203 306h1v1h-1zM146 307h1v1h-1zM164 307h1v1h-1zM388 307h1v1h-1zM1203 307h1v1h-1zM146 308h1v1h-1zM165 308h1v1h-1zM387 308h1v1h-1zM1204 308h1v1h-1zM145 309h1v1h-1zM166 309h1v1h-1zM387 309h1v1h-1zM1204 309h1v1h-1zM145 310h1v1h-1zM167 310h2v1h-2zM387 310h1v1h-1zM1205 310h1v1h-1zM145 311h1v1h-1zM169 311h1v1h-1zM387 311h1v1h-1zM1205 311h1v1h-1zM145 312h1v1h-1zM170 312h1v1h-1zM386 312h1v1h-1zM1205 312h1v1h-1zM145 313h1v1h-1zM171 313h1v1h-1zM386 313h1v1h-1zM1206 313h1v1h-1zM145 314h1v1h-1zM172 314h1v1h-1zM386 314h1v1h-1zM1206 314h1v1h-1zM144 315h1v1h-1zM173 315h1v1h-1zM386 315h1v1h-1zM1206 315h1v1h-1zM144 316h1v1h-1zM174 316h1v1h-1zM385 316h1v1h-1zM1207 316h1v1h-1zM144 317h1v1h-1zM175 317h1v1h-1zM385 317h1v1h-1zM1207 317h1v1h-1zM144 318h1v1h-1zM176 318h1v1h-1zM384 318h1v1h-1zM1208 318h1v1h-1zM144 319h1v1h-1zM176 319h1v1h-1zM384 319h1v1h-1zM1208 319h1v1h-1zM144 320h1v1h-1zM177 320h1v1h-1zM383 320h1v1h-1zM1208 320h1v1h-1zM143 321h1v1h-1zM177 321h1v1h-1zM383 321h1v1h-1zM1209 321h1v1h-1zM143 322h1v1h-1zM178 322h1v1h-1zM382 322h1v1h-1zM1209 322h1v1h-1zM143 323h1v1h-1zM178 323h1v1h-1zM382 323h1v1h-1zM1210 323h1v1h-1zM143 324h1v1h-1zM179 324h1v1h-1zM381 324h1v1h-1zM1210 324h1v1h-1zM143 325h1v1h-1zM179 325h1v1h-1zM381 325h1v1h-1zM1210 325h1v1h-1zM143 326h1v1h-1zM180 326h1v1h-1zM380 326h1v1h-1zM1211 326h1v1h-1zM143 327h1v1h-1zM180 327h1v1h-1zM380 327h1v1h-1zM1211 327h1v1h-1zM142 328h1v1h-1zM180 328h1v1h-1zM379 328h1v1h-1zM1212 328h1v1h-1zM142 329h1v1h-1zM181 329h1v1h-1zM379 329h1v1h-1zM1212 329h1v1h-1zM142 330h1v1h-1zM181 330h1v1h-1zM378 330h1v1h-1zM1212 330h1v1h-1zM142 331h1v1h-1zM182 331h1v1h-1zM378 331h1v1h-1zM1213 331h1v1h-1zM142 332h1v1h-1zM182 332h1v1h-1zM377 332h1v1h-1zM1213 332h1v1h-1zM142 333h1v1h-1zM183 333h1v1h-1zM377 333h1v1h-1zM1214 333h1v1h-1zM142 334h1v1h-1zM183 334h1v1h-1zM376 334h1v1h-1zM1214 334h1v1h-1zM141 335h1v1h-1zM184 335h1v1h-1zM376 335h1v1h-1zM1214 335h1v1h-1zM141 336h1v1h-1zM184 336h1v1h-1zM375 336h1v1h-1zM1215 336h1v1h-1zM141 337h1v1h-1zM184 337h1v1h-1zM375 337h1v1h-1zM1215 337h1v1h-1zM141 338h1v1h-1zM185 338h1v1h-1zM374 338h1v1h-1zM1216 338h1v1h-1zM141 339h1v1h-1zM185 339h1v1h-1zM374 339h1v1h-1zM1216 339h1v1h-1zM141 340h1v1h-1zM186 340h1v1h-1zM373 340h1v1h-1zM1216 340h1v1h-1zM141 341h1v1h-1zM186 341h1v1h-1zM372 341h1v1h-1zM1217 341h1v1h-1zM141 342h1v1h-1zM187 342h1v1h-1zM372 342h1v1h-1zM1217 342h1v1h-1zM140 343h1v1h-1zM187 343h1v1h-1zM371 343h1v1h-1zM1218 343h1v1h-1zM140 344h1v1h-1zM187 344h1v1h-1zM371 344h1v1h-1zM1218 344h1v1h-1zM140 345h1v1h-1zM188 345h1v1h-1zM370 345h1v1h-1zM1218 345h1v1h-1zM140 346h1v1h-1zM188 346h1v1h-1zM370 346h1v1h-1zM1219 346h1v1h-1zM140 347h1v1h-1zM189 347h1v1h-1zM369 347h1v1h-1zM1219 347h1v1h-1zM140 348h1v1h-1zM189 348h1v1h-1zM369 348h1v1h-1zM1220 348h1v1h-1zM140 349h1v1h-1zM189 349h1v1h-1zM368 349h1v1h-1zM1220 349h1v1h-1zM139 350h1v1h-1zM190 350h1v1h-1zM368 350h1v1h-1zM1221 350h1v1h-1zM139 351h1v1h-1zM190 351h1v1h-1zM367 351h1v1h-1zM1221 351h1v1h-1zM139 352h1v1h-1zM191 352h1v1h-1zM367 352h1v1h-1zM1222 352h1v1h-1zM139 353h1v1h-1zM191 353h1v1h-1zM366 353h1v1h-1zM1222 353h1v1h-1zM139 354h1v1h-1zM192 354h1v1h-1zM366 354h1v1h-1zM1223 354h1v1h-1zM139 355h1v1h-1zM192 355h1v1h-1zM365 355h1v1h-1zM1223 355h1v1h-1zM139 356h1v1h-1zM192 356h1v1h-1zM365 356h1v1h-1zM1224 356h1v1h-1zM138 357h1v1h-1zM193 357h1v1h-1zM365 357h1v1h-1zM1224 357h1v1h-1zM138 358h1v1h-1zM193 358h1v1h-1zM364 358h1v1h-1zM1225 358h1v1h-1zM138 359h1v1h-1zM194 359h1v1h-1zM364 359h1v1h-1zM1225 359h1v1h-1zM138 360h1v1h-1zM194 360h1v1h-1zM362 360h2v1h-2zM1226 360h1v1h-1zM138 361h1v1h-1zM195 361h1v1h-1zM361 361h1v1h-1zM1226 361h1v1h-1zM138 362h1v1h-1zM195 362h1v1h-1zM359 362h2v1h-2zM1227 362h1v1h-1zM138 363h1v1h-1zM195 363h1v1h-1zM358 363h1v1h-1zM1227 363h1v1h-1zM137 364h1v1h-1zM196 364h1v1h-1zM357 364h1v1h-1zM1228 364h1v1h-1zM137 365h1v1h-1zM196 365h1v1h-1zM356 365h1v1h-1zM1228 365h1v1h-1zM137 366h1v1h-1zM197 366h1v1h-1zM355 366h1v1h-1zM1228 366h1v1h-1zM137 367h1v1h-1zM197 367h1v1h-1zM354 367h1v1h-1zM1229 367h1v1h-1zM137 368h1v1h-1zM197 368h1v1h-1zM353 368h1v1h-1zM1229 368h1v1h-1zM137 369h1v1h-1zM198 369h1v1h-1zM352 369h1v1h-1zM1230 369h1v1h-1zM137 370h1v1h-1zM198 370h1v1h-1zM352 370h1v1h-1zM1230 370h1v1h-1zM136 371h1v1h-1zM199 371h1v1h-1zM351 371h1v1h-1zM1230 371h1v1h-1zM136 372h1v1h-1zM199 372h1v1h-1zM351 372h1v1h-1zM1231 372h1v1h-1zM136 373h1v1h-1zM200 373h1v1h-1zM350 373h1v1h-1zM1231 373h1v1h-1zM136 374h1v1h-1zM200 374h1v1h-1zM350 374h1v1h-1zM1232 374h1v1h-1zM136 375h1v1h-1zM201 375h1v1h-1zM349 375h1v1h-1zM1232 375h1v1h-1zM136 376h1v1h-1zM201 376h1v1h-1zM349 376h1v1h-1zM1232 376h1v1h-1zM135 377h1v1h-1zM202 377h1v1h-1zM348 377h1v1h-1zM1233 377h1v1h-1zM135 378h1v1h-1zM203 378h1v1h-1zM348 378h1v1h-1zM1233 378h1v1h-1zM135 379h1v1h-1zM204 379h1v1h-1zM347 379h1v1h-1zM1234 379h1v1h-1zM135 380h1v1h-1zM204 380h1v1h-1zM347 380h1v1h-1zM1234 380h1v1h-1zM135 381h1v1h-1zM205 381h1v1h-1zM346 381h1v1h-1zM1235 381h1v1h-1zM135 382h1v1h-1zM206 382h1v1h-1zM346 382h1v1h-1zM1235 382h1v1h-1zM134 383h1v1h-1zM206 383h1v1h-1zM345 383h1v1h-1zM1236 383h1v1h-1zM134 384h1v1h-1zM207 384h1v1h-1zM345 384h1v1h-1zM1237 384h1v1h-1zM134 385h1v1h-1zM208 385h1v1h-1zM344 385h1v1h-1zM1237 385h1v1h-1zM134 386h1v1h-1zM209 386h1v1h-1zM344 386h1v1h-1zM1238 386h1v1h-1zM134 387h1v1h-1zM209 387h1v1h-1zM343 387h1v1h-1zM1239 387h1v1h-1zM134 388h1v1h-1zM210 388h1v1h-1zM343 388h1v1h-1zM1239 388h1v1h-1zM133 389h1v1h-1zM211 389h1v1h-1zM342 389h1v1h-1zM1240 389h1v1h-1zM133 390h1v1h-1zM212 390h1v1h-1zM341 390h1v1h-1zM1241 390h1v1h-1zM133 391h1v1h-1zM213 391h1v1h-1zM341 391h1v1h-1zM1241 391h1v1h-1zM133 392h1v1h-1zM214 392h1v1h-1zM339 392h2v1h-2zM1242 392h1v1h-1zM133 393h1v1h-1zM215 393h1v1h-1zM337 393h2v1h-2zM1243 393h1v1h-1zM132 394h1v1h-1zM216 394h1v1h-1zM296 394h13v1h-13zM334 394h3v1h-3zM1243 394h1v1h-1zM132 395h1v1h-1zM217 395h1v1h-1zM294 395h2v1h-2zM309 395h5v1h-5zM332 395h2v1h-2zM1244 395h1v1h-1zM132 396h1v1h-1zM218 396h1v1h-1zM292 396h2v1h-2zM314 396h4v1h-4zM326 396h6v1h-6zM1245 396h1v1h-1zM132 397h1v1h-1zM219 397h1v1h-1zM290 397h2v1h-2zM318 397h8v1h-8zM1245 397h1v1h-1zM132 398h1v1h-1zM220 398h1v1h-1zM288 398h2v1h-2zM1246 398h1v1h-1zM132 399h1v1h-1zM221 399h1v1h-1zM286 399h2v1h-2zM1247 399h1v1h-1zM131 400h1v1h-1zM222 400h1v1h-1zM284 400h2v1h-2zM1247 400h1v1h-1zM131 401h1v1h-1zM223 401h1v1h-1zM283 401h1v1h-1zM1248 401h1v1h-1zM131 402h1v1h-1zM224 402h1v1h-1zM281 402h2v1h-2zM1249 402h1v1h-1zM131 403h1v1h-1zM225 403h1v1h-1zM279 403h2v1h-2zM1249 403h1v1h-1zM131 404h1v1h-1zM226 404h1v1h-1zM277 404h2v1h-2zM1250 404h1v1h-1zM131 405h1v1h-1zM227 405h1v1h-1zM275 405h2v1h-2zM1251 405h1v1h-1zM130 406h1v1h-1zM228 406h1v1h-1zM273 406h2v1h-2zM1252 406h1v1h-1zM130 407h1v1h-1zM229 407h1v1h-1zM271 407h2v1h-2zM1252 407h1v1h-1zM130 408h1v1h-1zM230 408h1v1h-1zM269 408h2v1h-2zM1253 408h1v1h-1zM129 409h1v1h-1zM231 409h1v1h-1zM267 409h2v1h-2zM1254 409h1v1h-1zM129 410h1v1h-1zM232 410h1v1h-1zM265 410h2v1h-2zM1255 410h1v1h-1zM128 411h1v1h-1zM233 411h1v1h-1zM262 411h3v1h-3zM1256 411h1v1h-1zM128 412h1v1h-1zM234 412h28v1h-28zM1256 412h1v1h-1zM127 413h1v1h-1zM1257 413h1v1h-1zM127 414h1v1h-1zM1258 414h1v1h-1zM126 415h1v1h-1zM1259 415h1v1h-1zM126 416h1v1h-1zM1260 416h1v1h-1zM125 417h1v1h-1zM1260 417h1v1h-1zM125 418h1v1h-1zM1261 418h1v1h-1zM124 419h1v1h-1zM1262 419h1v1h-1zM124 420h1v1h-1zM1263 420h1v1h-1zM123 421h1v1h-1zM1264 421h1v1h-1zM123 422h1v1h-1zM1264 422h1v1h-1zM122 423h1v1h-1zM1265 423h1v1h-1zM122 424h1v1h-1zM1266 424h1v1h-1zM121 425h1v1h-1zM1267 425h1v1h-1zM121 426h1v1h-1zM1267 426h1v1h-1zM120 427h1v1h-1zM1268 427h1v1h-1zM120 428h1v1h-1zM1269 428h1v1h-1zM119 429h1v1h-1zM1269 429h1v1h-1zM119 430h1v1h-1zM1270 430h1v1h-1zM118 431h1v1h-1zM1271 431h1v1h-1zM118 432h1v1h-1zM1271 432h1v1h-1zM117 433h1v1h-1zM1272 433h1v1h-1zM117 434h1v1h-1zM1273 434h1v1h-1zM116 435h1v1h-1zM1273 435h1v1h-1zM116 436h1v1h-1zM1274 436h1v1h-1zM115 437h1v1h-1zM1274 437h1v1h-1zM115 438h1v1h-1zM1275 438h1v1h-1zM114 439h1v1h-1zM1275 439h1v1h-1zM114 440h1v1h-1zM1275 440h1v1h-1zM113 441h1v1h-1zM1276 441h1v1h-1zM113 442h1v1h-1zM1276 442h1v1h-1zM112 443h1v1h-1zM1277 443h1v1h-1zM112 444h1v1h-1zM1277 444h1v1h-1zM111 445h1v1h-1zM1277 445h1v1h-1zM111 446h1v1h-1zM1278 446h1v1h-1zM110 447h1v1h-1zM1278 447h1v1h-1zM110 448h1v1h-1zM1278 448h1v1h-1zM109 449h1v1h-1zM1279 449h1v1h-1zM109 450h1v1h-1zM1279 450h1v1h-1zM108 451h1v1h-1zM1280 451h1v1h-1zM108 452h1v1h-1zM1280 452h1v1h-1zM107 453h1v1h-1zM1280 453h1v1h-1zM107 454h1v1h-1zM1281 454h1v1h-1zM106 455h1v1h-1zM1281 455h1v1h-1zM106 456h1v1h-1zM1281 456h1v1h-1zM50 457h2v1h-2zM104 457h2v1h-2zM1282 457h1v1h-1zM49 458h1v1h-1zM52 458h3v1h-3zM103 458h1v1h-1zM1282 458h1v1h-1zM47 459h2v1h-2zM55 459h2v1h-2zM101 459h2v1h-2zM1282 459h1v1h-1zM46 460h1v1h-1zM57 460h4v1h-4zM99 460h2v1h-2zM1282 460h1v1h-1zM45 461h1v1h-1zM61 461h4v1h-4zM79 461h20v1h-20zM1283 461h1v1h-1zM43 462h2v1h-2zM65 462h14v1h-14zM1283 462h1v1h-1zM42 463h1v1h-1zM1283 463h1v1h-1zM41 464h1v1h-1zM1284 464h1v1h-1zM39 465h2v1h-2zM1284 465h1v1h-1zM38 466h1v1h-1zM1284 466h1v1h-1zM37 467h1v1h-1zM1285 467h1v1h-1zM36 468h1v1h-1zM1285 468h1v1h-1zM35 469h1v1h-1zM1285 469h1v1h-1zM34 470h1v1h-1zM1286 470h1v1h-1zM33 471h1v1h-1zM1286 471h1v1h-1zM32 472h1v1h-1zM1286 472h1v1h-1zM31 473h1v1h-1zM1286 473h1v1h-1zM30 474h1v1h-1zM1287 474h1v1h-1zM29 475h1v1h-1zM1287 475h1v1h-1zM28 476h1v1h-1zM1287 476h1v1h-1zM27 477h1v1h-1zM1288 477h1v1h-1zM26 478h1v1h-1zM1288 478h1v1h-1zM25 479h1v1h-1zM1288 479h1v1h-1zM25 480h1v1h-1zM1289 480h1v1h-1zM24 481h1v1h-1zM1289 481h1v1h-1zM23 482h1v1h-1zM1289 482h1v1h-1zM23 483h1v1h-1zM1290 483h1v1h-1zM22 484h1v1h-1zM1290 484h1v1h-1zM22 485h1v1h-1zM1291 485h1v1h-1zM21 486h1v1h-1zM1291 486h1v1h-1zM20 487h1v1h-1zM1291 487h1v1h-1zM20 488h1v1h-1zM1292 488h1v1h-1zM19 489h1v1h-1zM1292 489h1v1h-1zM17 490h2v1h-2zM1292 490h1v1h-1zM16 491h1v1h-1zM1293 491h1v1h-1zM14 492h2v1h-2zM1293 492h1v1h-1zM12 493h2v1h-2zM1293 493h1v1h-1zM11 494h1v1h-1zM1294 494h1v1h-1zM10 495h1v1h-1zM1294 495h1v1h-1zM10 496h1v1h-1zM1295 496h1v1h-1zM9 497h1v1h-1zM1295 497h1v1h-1zM8 498h1v1h-1zM1295 498h1v1h-1zM8 499h1v1h-1zM1296 499h1v1h-1zM7 500h1v1h-1zM1296 500h1v1h-1zM6 501h1v1h-1zM1296 501h1v1h-1zM6 502h1v1h-1zM1297 502h1v1h-1zM5 503h1v1h-1zM1297 503h1v1h-1zM4 504h1v1h-1zM1298 504h1v1h-1zM4 505h1v1h-1zM1298 505h1v1h-1zM2 506h2v1h-2zM1298 506h1v1h-1zM0 507h2v1h-2zM1299 507h1v1h-1zM1299 508h1v1h-1zM1300 509h1v1h-1zM1300 510h1v1h-1zM1300 511h1v1h-1zM1301 512h1v1h-1zM1301 513h1v1h-1zM1302 514h1v1h-1zM1302 515h1v1h-1zM1302 516h1v1h-1zM1303 517h1v1h-1zM1303 518h1v1h-1zM1304 519h1v1h-1zM1304 520h1v1h-1zM1304 521h1v1h-1zM1304 522h1v1h-1zM1305 523h1v1h-1zM1305 524h1v1h-1zM1305 525h1v1h-1zM1305 526h1v1h-1zM1306 527h1v1h-1zM1306 528h1v1h-1zM1306 529h1v1h-1zM1306 530h1v1h-1zM1307 531h1v1h-1zM1307 532h1v1h-1zM1307 533h1v1h-1zM1307 534h1v1h-1zM1308 535h1v1h-1zM1308 536h1v1h-1zM1308 537h1v1h-1zM1308 538h1v1h-1zM1309 539h1v1h-1zM1309 540h1v1h-1zM1309 541h1v1h-1zM1309 542h1v1h-1zM1310 543h1v1h-1zM1310 544h1v1h-1zM1310 545h1v1h-1zM1310 546h1v1h-1zM1310 547h1v1h-1zM1310 548h1v1h-1zM1311 549h1v1h-1zM1311 550h1v1h-1zM1311 551h1v1h-1zM1311 552h1v1h-1zM1311 553h1v1h-1zM1312 554h1v1h-1zM1312 555h1v1h-1zM1351 555h43v1h-43zM1312 556h1v1h-1zM1348 556h3v1h-3zM1394 556h7v1h-7zM1312 557h1v1h-1zM1346 557h2v1h-2zM1401 557h6v1h-6zM1313 558h1v1h-1zM1345 558h1v1h-1zM1407 558h3v1h-3zM1313 559h1v1h-1zM1344 559h1v1h-1zM1314 560h1v1h-1zM1344 560h1v1h-1zM1314 561h1v1h-1zM1343 561h1v1h-1zM1315 562h1v1h-1zM1342 562h1v1h-1zM1315 563h1v1h-1zM1341 563h1v1h-1zM1316 564h1v1h-1zM1341 564h1v1h-1zM1316 565h1v1h-1zM1340 565h1v1h-1zM1317 566h1v1h-1zM1339 566h1v1h-1zM1317 567h1v1h-1zM1338 567h1v1h-1zM1318 568h2v1h-2zM1338 568h1v1h-1zM1320 569h2v1h-2zM1337 569h1v1h-1zM1322 570h2v1h-2zM1336 570h1v1h-1zM1324 571h2v1h-2zM1334 571h2v1h-2zM1326 572h2v1h-2zM1333 572h1v1h-1zM1328 573h2v1h-2zM1331 573h2v1h-2zM1330 574h1v1h-1z" fill="#34b06a" shape-rendering="crispEdges"/>
</g>
<g shape-rendering="crispEdges" fill="#000">
<rect x="2" y="254" width="1" height="94"/>
<rect x="0" y="299" width="5" height="7"/><rect x="1" y="300" width="3" height="5" fill="#fff"/>
<rect x="10" y="282" width="1" height="31"/>
<rect x="8" y="284" width="5" height="20"/><rect x="9" y="285" width="3" height="18" fill="#fff"/>
<rect x="18" y="260" width="1" height="30"/>
<rect x="16" y="264" width="5" height="21"/><rect x="17" y="265" width="3" height="19" fill="#fff"/>
<rect x="26" y="244" width="1" height="25"/>
<rect x="24" y="263" width="5" height="2"/>
<rect x="34" y="246" width="1" height="26"/>
<rect x="32" y="249" width="5" height="15"/><rect x="33" y="250" width="3" height="13" fill="#fff"/>
<rect x="42" y="204" width="1" height="76"/>
<rect x="40" y="222" width="5" height="27"/><rect x="41" y="223" width="3" height="25" fill="#fff"/>
<rect x="50" y="175" width="1" height="48"/>
<rect x="48" y="197" width="5" height="26"/><rect x="49" y="198" width="3" height="24" fill="#fff"/>
<rect x="58" y="178" width="1" height="18"/>
<rect x="56" y="184" width="5" height="10"/><rect x="57" y="185" width="3" height="8" fill="#fff"/>
<rect x="66" y="184" width="1" height="14"/>
<rect x="64" y="188" width="5" height="5"/>
<rect x="74" y="190" width="1" height="39"/>
<rect x="72" y="191" width="5" height="34"/>
<rect x="82" y="196" width="1" height="42"/>
<rect x="80" y="224" width="5" height="4"/>
<rect x="90" y="207" width="1" height="37"/>
<rect x="88" y="226" width="5" height="13"/>
<rect x="98" y="196" width="1" height="59"/>
<rect x="96" y="238" width="5" height="7"/>
<rect x="106" y="203" width="1" height="50"/>
<rect x="104" y="209" width="5" height="37"/><rect x="105" y="210" width="3" height="35" fill="#fff"/>
<rect x="114" y="186" width="1" height="28"/>
<rect x="112" y="186" width="5" height="23"/><rect x="113" y="187" width="3" height="21" fill="#fff"/>
<rect x="122" y="174" width="1" height="19"/>
<rect x="120" y="179" width="5" height="7"/><rect x="121" y="180" width="3" height="5" fill="#fff"/>
<rect x="130" y="165" width="1" height="22"/>
<rect x="128" y="178" width="5" height="2"/>
<rect x="138" y="178" width="1" height="24"/>
<rect x="136" y="178" width="5" height="18"/>
<rect x="146" y="187" width="1" height="59"/>
<rect x="144" y="195" width="5" height="37"/>
<rect x="154" y="217" width="1" height="69"/>
<rect x="152" y="231" width="5" height="50"/>
<rect x="162" y="272" width="1" height="41"/>
<rect x="160" y="281" width="5" height="32"/>
<rect x="170" y="282" width="1" height="42"/>
<rect x="168" y="309" width="5" height="2"/>
<rect x="178" y="297" width="1" height="35"/>
<rect x="176" y="310" width="5" height="15"/>
<rect x="186" y="318" width="1" height="56"/>
<rect x="184" y="323" width="5" height="41"/>
<rect x="194" y="352" width="1" height="92"/>
<rect x="192" y="364" width="5" height="14"/>
<rect x="202" y="323" width="1" height="77"/>
<rect x="200" y="327" width="5" height="50"/><rect x="201" y="328" width="3" height="48" fill="#fff"/>
<rect x="210" y="320" width="1" height="35"/>
<rect x="208" y="325" width="5" height="27"/>
<rect x="218" y="324" width="1" height="32"/>
<rect x="216" y="336" width="5" height="19"/><rect x="217" y="337" width="3" height="17" fill="#fff"/>
<rect x="226" y="321" width="1" height="22"/>
<rect x="224" y="336" width="5" height="4"/>
<rect x="234" y="339" width="1" height="55"/>
<rect x="232" y="339" width="5" height="19"/>
<rect x="242" y="229" width="1" height="130"/>
<rect x="240" y="247" width="5" height="110"/><rect x="241" y="248" width="3" height="108" fill="#fff"/>
<rect x="250" y="233" width="1" height="51"/>
<rect x="248" y="247" width="5" height="25"/>
<rect x="258" y="253" width="1" height="26"/>
<rect x="256" y="255" width="5" height="14"/><rect x="257" y="256" width="3" height="12" fill="#fff"/>
<rect x="266" y="245" width="1" height="25"/>
<rect x="264" y="255" width="5" height="8"/>
<rect x="274" y="241" width="1" height="26"/>
<rect x="272" y="260" width="5" height="4"/><rect x="273" y="261" width="3" height="2" fill="#fff"/>
<rect x="282" y="226" width="1" height="48"/>
<rect x="280" y="229" width="5" height="31"/><rect x="281" y="230" width="3" height="29" fill="#fff"/>
<rect x="290" y="179" width="1" height="61"/>
<rect x="288" y="210" width="5" height="18"/><rect x="289" y="211" width="3" height="16" fill="#fff"/>
<rect x="298" y="207" width="1" height="50"/>
<rect x="296" y="211" width="5" height="26"/>
<rect x="306" y="226" width="1" height="10"/>
<rect x="304" y="226" width="5" height="10"/><rect x="305" y="227" width="3" height="8" fill="#fff"/>
<rect x="314" y="217" width="1" height="18"/>
<rect x="312" y="230" width="5" height="4"/><rect x="313" y="231" width="3" height="2" fill="#fff"/>
<rect x="322" y="195" width="1" height="35"/>
<rect x="320" y="201" width="5" height="29"/><rect x="321" y="202" width="3" height="27" fill="#fff"/>
<rect x="330" y="187" width="1" height="24"/>
<rect x="328" y="194" width="5" height="6"/><rect x="329" y="195" width="3" height="4" fill="#fff"/>
<rect x="338" y="194" width="1" height="16"/>
<rect x="336" y="195" width="5" height="13"/>
<rect x="346" y="169" width="1" height="43"/>
<rect x="344" y="186" width="5" height="22"/><rect x="345" y="187" width="3" height="20" fill="#fff"/>
<rect x="354" y="163" width="1" height="29"/>
<rect x="352" y="182" width="5" height="4"/><rect x="353" y="183" width="3" height="2" fill="#fff"/>
<rect x="362" y="166" width="1" height="16"/>
<rect x="360" y="170" width="5" height="12"/><rect x="361" y="171" width="3" height="10" fill="#fff"/>
<rect x="370" y="163" width="1" height="19"/>
<rect x="368" y="167" width="5" height="4"/><rect x="369" y="168" width="3" height="2" fill="#fff"/>
<rect x="378" y="148" width="1" height="22"/>
<rect x="376" y="166" width="5" height="3"/><rect x="377" y="167" width="3" height="1" fill="#fff"/>
<rect x="386" y="155" width="1" height="13"/>
<rect x="384" y="159" width="5" height="7"/><rect x="385" y="160" width="3" height="5" fill="#fff"/>
<rect x="394" y="153" width="1" height="55"/>
<rect x="392" y="158" width="5" height="32"/>
<rect x="402" y="166" width="1" height="54"/>
<rect x="400" y="189" width="5" height="17"/>
<rect x="410" y="188" width="1" height="19"/>
<rect x="408" y="192" width="5" height="11"/><rect x="409" y="193" width="3" height="9" fill="#fff"/>
<rect x="418" y="178" width="1" height="17"/>
<rect x="416" y="182" width="5" height="10"/><rect x="417" y="183" width="3" height="8" fill="#fff"/>
<rect x="426" y="171" width="1" height="23"/>
<rect x="424" y="182" width="5" height="1"/>
<rect x="434" y="166" width="1" height="24"/>
<rect x="432" y="183" width="5" height="7"/>
<rect x="442" y="178" width="1" height="40"/>
<rect x="440" y="188" width="5" height="2"/>
<rect x="450" y="184" width="1" height="30"/>
<rect x="448" y="189" width="5" height="14"/>
<rect x="458" y="193" width="1" height="16"/>
<rect x="456" y="202" width="5" height="3"/>
<rect x="466" y="202" width="1" height="24"/>
<rect x="464" y="204" width="5" height="5"/>
<rect x="474" y="205" width="1" height="28"/>
<rect x="472" y="208" width="5" height="7"/>
<rect x="482" y="186" width="1" height="31"/>
<rect x="480" y="187" width="5" height="27"/><rect x="481" y="188" width="3" height="25" fill="#fff"/>
<rect x="490" y="122" width="1" height="65"/>
<rect x="488" y="166" width="5" height="21"/><rect x="489" y="167" width="3" height="19" fill="#fff"/>
<rect x="498" y="151" width="1" height="33"/>
<rect x="496" y="165" width="5" height="3"/>
<rect x="506" y="112" width="1" height="58"/>
<rect x="504" y="116" width="5" height="53"/><rect x="505" y="117" width="3" height="51" fill="#fff"/>
<rect x="514" y="111" width="1" height="11"/>
<rect x="512" y="113" width="5" height="3"/><rect x="513" y="114" width="3" height="1" fill="#fff"/>
<rect x="522" y="111" width="1" height="16"/>
<rect x="520" y="113" width="5" height="3"/>
<rect x="530" y="105" width="1" height="15"/>
<rect x="528" y="115" width="5" height="4"/>
<rect x="538" y="111" width="1" height="34"/>
<rect x="536" y="118" width="5" height="11"/>
<rect x="546" y="119" width="1" height="24"/>
<rect x="544" y="129" width="5" height="11"/>
<rect x="554" y="127" width="1" height="11"/>
<rect x="552" y="134" width="5" height="4"/><rect x="553" y="135" width="3" height="2" fill="#fff"/>
<rect x="562" y="125" width="1" height="9"/>
<rect x="560" y="128" width="5" height="3"/>
<rect x="570" y="123" width="1" height="14"/>
<rect x="568" y="130" width="5" height="2"/>
<rect x="578" y="127" width="1" height="10"/>
<rect x="576" y="130" width="5" height="3"/><rect x="577" y="131" width="3" height="1" fill="#fff"/>
<rect x="586" y="126" width="1" height="19"/>
<rect x="584" y="130" width="5" height="6"/>
<rect x="594" y="135" width="1" height="34"/>
<rect x="592" y="135" width="5" height="28"/>
<rect x="602" y="157" width="1" height="10"/>
<rect x="600" y="162" width="5" height="3"/><rect x="601" y="163" width="3" height="1" fill="#fff"/>
<rect x="610" y="141" width="1" height="23"/>
<rect x="608" y="142" width="5" height="22"/><rect x="609" y="143" width="3" height="20" fill="#fff"/>
<rect x="618" y="134" width="1" height="17"/>
<rect x="616" y="140" width="5" height="3"/><rect x="617" y="141" width="3" height="1" fill="#fff"/>
<rect x="626" y="94" width="1" height="48"/>
<rect x="624" y="95" width="5" height="45"/><rect x="625" y="96" width="3" height="43" fill="#fff"/>
<rect x="634" y="68" width="1" height="35"/>
<rect x="632" y="74" width="5" height="22"/><rect x="633" y="75" width="3" height="20" fill="#fff"/>
<rect x="642" y="54" width="1" height="69"/>
<rect x="640" y="74" width="5" height="30"/>
<rect x="650" y="102" width="1" height="37"/>
<rect x="648" y="103" width="5" height="26"/>
<rect x="658" y="122" width="1" height="26"/>
<rect x="656" y="128" width="5" height="6"/>
<rect x="666" y="120" width="1" height="21"/>
<rect x="664" y="125" width="5" height="9"/><rect x="665" y="126" width="3" height="7" fill="#fff"/>
<rect x="674" y="114" width="1" height="27"/>
<rect x="672" y="124" width="5" height="7"/>
<rect x="682" y="112" width="1" height="22"/>
<rect x="680" y="120" width="5" height="12"/><rect x="681" y="121" width="3" height="10" fill="#fff"/>
<rect x="690" y="90" width="1" height="44"/>
<rect x="688" y="107" width="5" height="14"/><rect x="689" y="108" width="3" height="12" fill="#fff"/>
<rect x="698" y="106" width="1" height="26"/>
<rect x="696" y="106" width="5" height="12"/>
<rect x="706" y="113" width="1" height="15"/>
<rect x="704" y="115" width="5" height="3"/><rect x="705" y="116" width="3" height="1" fill="#fff"/>
<rect x="714" y="105" width="1" height="15"/>
<rect x="712" y="115" width="5" height="2"/>
<rect x="722" y="113" width="1" height="27"/>
<rect x="720" y="115" width="5" height="23"/>
<rect x="730" y="127" width="1" height="60"/>
<rect x="728" y="137" width="5" height="42"/>
<rect x="738" y="101" width="1" height="93"/>
<rect x="736" y="110" width="5" height="69"/><rect x="737" y="111" width="3" height="67" fill="#fff"/>
<rect x="746" y="101" width="1" height="28"/>
<rect x="744" y="108" width="5" height="19"/>
<rect x="754" y="116" width="1" height="18"/>
<rect x="752" y="125" width="5" height="7"/>
<rect x="762" y="117" width="1" height="34"/>
<rect x="760" y="120" width="5" height="12"/><rect x="761" y="121" width="3" height="10" fill="#fff"/>
<rect x="770" y="118" width="1" height="21"/>
<rect x="768" y="120" width="5" height="9"/>
<rect x="778" y="123" width="1" height="28"/>
<rect x="776" y="130" width="5" height="3"/>
<rect x="786" y="82" width="1" height="53"/>
<rect x="784" y="102" width="5" height="31"/><rect x="785" y="103" width="3" height="29" fill="#fff"/>
<rect x="794" y="74" width="1" height="30"/>
<rect x="792" y="78" width="5" height="24"/><rect x="793" y="79" width="3" height="22" fill="#fff"/>
<rect x="802" y="77" width="1" height="6"/>
<rect x="800" y="78" width="5" height="3"/>
<rect x="810" y="67" width="1" height="11"/>
<rect x="808" y="70" width="5" height="4"/><rect x="809" y="71" width="3" height="2" fill="#fff"/>
<rect x="818" y="68" width="1" height="25"/>
<rect x="816" y="70" width="5" height="15"/>
<rect x="826" y="79" width="1" height="24"/>
<rect x="824" y="84" width="5" height="2"/>
<rect x="834" y="60" width="1" height="30"/>
<rect x="832" y="63" width="5" height="21"/><rect x="833" y="64" width="3" height="19" fill="#fff"/>
<rect x="842" y="54" width="1" height="64"/>
<rect x="840" y="62" width="5" height="50"/>
<rect x="850" y="108" width="1" height="20"/>
<rect x="848" y="112" width="5" height="1"/>
<rect x="858" y="109" width="1" height="11"/>
<rect x="856" y="112" width="5" height="5"/>
<rect x="866" y="102" width="1" height="24"/>
<rect x="864" y="117" width="5" height="5"/>
<rect x="874" y="116" width="1" height="12"/>
<rect x="872" y="121" width="5" height="1"/>
<rect x="882" y="111" width="1" height="44"/>
<rect x="880" y="117" width="5" height="6"/><rect x="881" y="118" width="3" height="4" fill="#fff"/>
<rect x="890" y="103" width="1" height="59"/>
<rect x="888" y="115" width="5" height="1"/>
<rect x="898" y="103" width="1" height="19"/>
<rect x="896" y="116" width="5" height="4"/>
<rect x="906" y="113" width="1" height="13"/>
<rect x="904" y="118" width="5" height="1"/>
<rect x="914" y="111" width="1" height="15"/>
<rect x="912" y="119" width="5" height="2"/>
<rect x="922" y="114" width="1" height="12"/>
<rect x="920" y="120" width="5" height="4"/>
<rect x="930" y="113" width="1" height="26"/>
<rect x="928" y="120" width="5" height="4"/><rect x="929" y="121" width="3" height="2" fill="#fff"/>
<rect x="938" y="104" width="1" height="28"/>
<rect x="936" y="119" width="5" height="9"/>
<rect x="946" y="126" width="1" height="38"/>
<rect x="944" y="127" width="5" height="34"/>
<rect x="954" y="146" width="1" height="15"/>
<rect x="952" y="154" width="5" height="6"/><rect x="953" y="155" width="3" height="4" fill="#fff"/>
<rect x="962" y="145" width="1" height="11"/>
<rect x="960" y="146" width="5" height="8"/><rect x="961" y="147" width="3" height="6" fill="#fff"/>
<rect x="970" y="144" width="1" height="30"/>
<rect x="968" y="145" width="5" height="5"/>
<rect x="978" y="136" width="1" height="27"/>
<rect x="976" y="148" width="5" height="3"/><rect x="977" y="149" width="3" height="1" fill="#fff"/>
<rect x="986" y="80" width="1" height="87"/>
<rect x="984" y="126" width="5" height="23"/><rect x="985" y="127" width="3" height="21" fill="#fff"/>
<rect x="994" y="117" width="1" height="43"/>
<rect x="992" y="126" width="5" height="29"/>
<rect x="1002" y="150" width="1" height="10"/>
<rect x="1000" y="153" width="5" height="4"/>
<rect x="1010" y="148" width="1" height="17"/>
<rect x="1008" y="152" width="5" height="5"/><rect x="1009" y="153" width="3" height="3" fill="#fff"/>
<rect x="1018" y="147" width="1" height="12"/>
<rect x="1016" y="150" width="5" height="1"/>
<rect x="1026" y="124" width="1" height="31"/>
<rect x="1024" y="134" width="5" height="18"/><rect x="1025" y="135" width="3" height="16" fill="#fff"/>
<rect x="1034" y="112" width="1" height="63"/>
<rect x="1032" y="134" width="5" height="37"/>
<rect x="1042" y="151" width="1" height="44"/>
<rect x="1040" y="153" width="5" height="18"/><rect x="1041" y="154" width="3" height="16" fill="#fff"/>
<rect x="1050" y="152" width="1" height="8"/>
<rect x="1048" y="153" width="5" height="5"/>
<rect x="1058" y="145" width="1" height="6"/>
<rect x="1056" y="147" width="5" height="1"/>
<rect x="1066" y="140" width="1" height="15"/>
<rect x="1064" y="145" width="5" height="2"/>
<rect x="1074" y="127" width="1" height="26"/>
<rect x="1072" y="143" width="5" height="3"/><rect x="1073" y="144" width="3" height="1" fill="#fff"/>
<rect x="1082" y="143" width="1" height="26"/>
<rect x="1080" y="143" width="5" height="20"/>
<rect x="1090" y="155" width="1" height="62"/>
<rect x="1088" y="161" width="5" height="51"/>
<rect x="1098" y="176" width="1" height="49"/>
<rect x="1096" y="176" width="5" height="35"/><rect x="1097" y="177" width="3" height="33" fill="#fff"/>
<rect x="1106" y="170" width="1" height="17"/>
<rect x="1104" y="176" width="5" height="9"/>
<rect x="1114" y="164" width="1" height="22"/>
<rect x="1112" y="166" width="5" height="20"/><rect x="1113" y="167" width="3" height="18" fill="#fff"/>
<rect x="1122" y="150" width="1" height="19"/>
<rect x="1120" y="164" width="5" height="3"/><rect x="1121" y="165" width="3" height="1" fill="#fff"/>
<rect x="1130" y="163" width="1" height="21"/>
<rect x="1128" y="164" width="5" height="10"/>
<rect x="1138" y="164" width="1" height="64"/>
<rect x="1136" y="173" width="5" height="49"/>
<rect x="1146" y="186" width="1" height="36"/>
<rect x="1144" y="202" width="5" height="20"/><rect x="1145" y="203" width="3" height="18" fill="#fff"/>
<rect x="1154" y="196" width="1" height="42"/>
<rect x="1152" y="204" width="5" height="30"/>
<rect x="1162" y="228" width="1" height="14"/>
<rect x="1160" y="234" width="5" height="2"/>
<rect x="1170" y="230" width="1" height="15"/>
<rect x="1168" y="235" width="5" height="10"/>
<rect x="1178" y="229" width="1" height="25"/>
<rect x="1176" y="243" width="5" height="1"/>
<rect x="1186" y="222" width="1" height="28"/>
<rect x="1184" y="233" width="5" height="11"/><rect x="1185" y="234" width="3" height="9" fill="#fff"/>
<rect x="1194" y="232" width="1" height="103"/>
<rect x="1192" y="234" width="5" height="70"/>
<rect x="1202" y="298" width="1" height="36"/>
<rect x="1200" y="304" width="5" height="30"/>
<rect x="1210" y="329" width="1" height="37"/>
<rect x="1208" y="333" width="5" height="1"/>
<rect x="1218" y="327" width="1" height="26"/>
<rect x="1216" y="333" width="5" height="12"/>
<rect x="1226" y="315" width="1" height="36"/>
<rect x="1224" y="332" width="5" height="13"/><rect x="1225" y="333" width="3" height="11" fill="#fff"/>
<rect x="1234" y="288" width="1" height="94"/>
<rect x="1232" y="332" width="5" height="48"/>
<rect x="1242" y="339" width="1" height="78"/>
<rect x="1240" y="362" width="5" height="19"/><rect x="1241" y="363" width="3" height="17" fill="#fff"/>
<rect x="1250" y="351" width="1" height="17"/>
<rect x="1248" y="361" width="5" height="2"/>
<rect x="1258" y="347" width="1" height="24"/>
<rect x="1256" y="354" width="5" height="7"/><rect x="1257" y="355" width="3" height="5" fill="#fff"/>
<rect x="1266" y="352" width="1" height="22"/>
<rect x="1264" y="353" width="5" height="21"/>
<rect x="1274" y="356" width="1" height="52"/>
<rect x="1272" y="372" width="5" height="29"/>
<rect x="1282" y="398" width="1" height="112"/>
<rect x="1280" y="399" width="5" height="71"/>
<rect x="1290" y="464" width="1" height="46"/>
<rect x="1288" y="470" width="5" height="40"/>
<rect x="1298" y="506" width="1" height="8"/>
<rect x="1296" y="510" width="5" height="1"/>
<rect x="1306" y="509" width="1" height="14"/>
<rect x="1304" y="510" width="5" height="8"/>
<rect x="1314" y="513" width="1" height="66"/>
<rect x="1312" y="517" width="5" height="54"/>
<rect x="1322" y="473" width="1" height="101"/>
<rect x="1320" y="480" width="5" height="89"/><rect x="1321" y="481" width="3" height="87" fill="#fff"/>
<rect x="1330" y="448" width="1" height="46"/>
<rect x="1328" y="454" width="5" height="26"/><rect x="1329" y="455" width="3" height="24" fill="#fff"/>
<rect x="1338" y="359" width="1" height="105"/>
<rect x="1336" y="368" width="5" height="86"/><rect x="1337" y="369" width="3" height="84" fill="#fff"/>
<rect x="1346" y="334" width="1" height="39"/>
<rect x="1344" y="337" width="5" height="32"/><rect x="1345" y="338" width="3" height="30" fill="#fff"/>
<rect x="1354" y="325" width="1" height="21"/>
<rect x="1352" y="333" width="5" height="13"/><rect x="1353" y="334" width="3" height="11" fill="#fff"/>
<rect x="1362" y="326" width="1" height="23"/>
<rect x="1360" y="328" width="5" height="8"/>
<rect x="1370" y="317" width="1" height="39"/>
<rect x="1368" y="328" width="5" height="25"/>
<rect x="1378" y="333" width="1" height="27"/>
<rect x="1376" y="336" width="5" height="16"/><rect x="1377" y="337" width="3" height="14" fill="#fff"/>
<rect x="1386" y="315" width="1" height="67"/>
<rect x="1384" y="333" width="5" height="9"/>
<rect x="1394" y="300" width="1" height="46"/>
<rect x="1392" y="325" width="5" height="18"/><rect x="1393" y="326" width="3" height="16" fill="#fff"/>
<rect x="1402" y="313" width="1" height="15"/>
<rect x="1400" y="319" width="5" height="7"/><rect x="1401" y="320" width="3" height="5" fill="#fff"/>
<rect x="1410" y="318" width="1" height="1"/>
<rect x="1408" y="318" width="5" height="1"/>
</g>
<line x1="1205.1" y1="284.1" x2="1312.3" y2="573.0" stroke="#ff0000" stroke-width="3.8" shape-rendering="crispEdges"/>
<polygon points="1315.4,581.4 1307.3,573.2 1316.2,569.9" fill="#ff0000" shape-rendering="crispEdges"/>
<line x1="1315.4" y1="581.4" x2="1346.8" y2="339.9" stroke="#ff0000" stroke-width="3.8" shape-rendering="crispEdges"/>
<polygon points="1348.0,331.0 1351.4,342.0 1341.9,340.8" fill="#ff0000" shape-rendering="crispEdges"/>
<line x1="1349.0" y1="336.0" x2="1362.2" y2="360.4" stroke="#ff0000" stroke-width="3.8" shape-rendering="crispEdges"/>
<polygon points="1366.5,368.3 1357.3,361.3 1365.7,356.8" fill="#ff0000" shape-rendering="crispEdges"/>
<rect x="1314" y="329" width="104" height="8" fill="#00ff00" shape-rendering="crispEdges"/>
<text x="1428.5" y="341.5" font-size="21" fill="#00ff00" text-anchor="start" textLength="105.5" lengthAdjust="spacingAndGlyphs" style="font-family:&quot;Liberation Serif&quot;,&quot;Noto Serif CJK SC&quot;,serif">多空转折点</text>
<rect x="771.5" y="45.5" width="61" height="18" fill="#fff" stroke="#ff0000" stroke-width="1" shape-rendering="crispEdges"/>
<text x="773.0" y="61.0" font-size="16.8" fill="#ff0000" text-anchor="start" textLength="58.5" lengthAdjust="spacingAndGlyphs" >34821.6</text>
<rect x="833" y="54" width="10" height="1" fill="#f00" shape-rendering="crispEdges"/>
<rect x="123.5" y="435.5" width="61" height="18" fill="#fff" stroke="#ff0000" stroke-width="1" shape-rendering="crispEdges"/>
<text x="125.0" y="451.0" font-size="16.8" fill="#ff0000" text-anchor="start" textLength="58.5" lengthAdjust="spacingAndGlyphs" >33394.9</text>
<rect x="185" y="444" width="10" height="1" fill="#f00" shape-rendering="crispEdges"/>
<rect x="1243.5" y="570.5" width="61" height="18" fill="#fff" stroke="#ff0000" stroke-width="1" shape-rendering="crispEdges"/>
<text x="1245.0" y="586.0" font-size="16.8" fill="#ff0000" text-anchor="start" textLength="58.5" lengthAdjust="spacingAndGlyphs" >32899.8</text>
<rect x="1305" y="579" width="10" height="1" fill="#f00" shape-rendering="crispEdges"/>
<rect x="1077.5" y="320.5" width="74" height="25" fill="#fff" stroke="#ff0000" stroke-width="1" shape-rendering="crispEdges"/>
<text x="1078.2" y="341.0" font-size="22.2" fill="#ff0000" text-anchor="start" textLength="71.2" lengthAdjust="spacingAndGlyphs" >33804.5</text>
<rect x="1067" y="332" width="7" height="1" fill="#f00" shape-rendering="crispEdges"/><rect x="1074.5" y="330.5" width="2" height="4" fill="#fff" stroke="#f00" stroke-width="1" shape-rendering="crispEdges"/>
<g shape-rendering="crispEdges" fill="#c0c0c0">
<rect x="2" y="639" width="1" height="68"/>
<rect x="10" y="639" width="1" height="59"/>
<rect x="18" y="639" width="1" height="49"/>
<rect x="26" y="639" width="1" height="40"/>
<rect x="34" y="639" width="1" height="32"/>
<rect x="42" y="639" width="1" height="22"/>
<rect x="50" y="639" width="1" height="12"/>
<rect x="58" y="639" width="1" height="3"/>
<rect x="66" y="636" width="1" height="4"/>
<rect x="74" y="634" width="1" height="6"/>
<rect x="82" y="633" width="1" height="7"/>
<rect x="90" y="633" width="1" height="7"/>
<rect x="98" y="634" width="1" height="6"/>
<rect x="106" y="631" width="1" height="9"/>
<rect x="114" y="627" width="1" height="13"/>
<rect x="122" y="623" width="1" height="17"/>
<rect x="130" y="620" width="1" height="20"/>
<rect x="138" y="620" width="1" height="20"/>
<rect x="146" y="623" width="1" height="17"/>
<rect x="154" y="631" width="1" height="9"/>
<rect x="170" y="639" width="1" height="7"/>
<rect x="178" y="639" width="1" height="14"/>
<rect x="186" y="639" width="1" height="24"/>
<rect x="194" y="639" width="1" height="32"/>
<rect x="202" y="639" width="1" height="33"/>
<rect x="210" y="639" width="1" height="36"/>
<rect x="218" y="639" width="1" height="36"/>
<rect x="226" y="639" width="1" height="36"/>
<rect x="234" y="639" width="1" height="38"/>
<rect x="242" y="639" width="1" height="28"/>
<rect x="250" y="639" width="1" height="22"/>
<rect x="258" y="639" width="1" height="16"/>
<rect x="266" y="639" width="1" height="11"/>
<rect x="274" y="639" width="1" height="7"/>
<rect x="282" y="639" width="1" height="1"/>
<rect x="290" y="634" width="1" height="6"/>
<rect x="298" y="632" width="1" height="8"/>
<rect x="306" y="629" width="1" height="11"/>
<rect x="314" y="627" width="1" height="13"/>
<rect x="322" y="623" width="1" height="17"/>
<rect x="330" y="619" width="1" height="21"/>
<rect x="338" y="618" width="1" height="22"/>
<rect x="346" y="615" width="1" height="25"/>
<rect x="354" y="612" width="1" height="28"/>
<rect x="362" y="609" width="1" height="31"/>
<rect x="370" y="607" width="1" height="33"/>
<rect x="378" y="606" width="1" height="34"/>
<rect x="386" y="604" width="1" height="36"/>
<rect x="394" y="607" width="1" height="33"/>
<rect x="402" y="611" width="1" height="29"/>
<rect x="410" y="613" width="1" height="27"/>
<rect x="418" y="614" width="1" height="26"/>
<rect x="426" y="615" width="1" height="25"/>
<rect x="434" y="616" width="1" height="24"/>
<rect x="442" y="618" width="1" height="22"/>
<rect x="450" y="621" width="1" height="19"/>
<rect x="458" y="624" width="1" height="16"/>
<rect x="466" y="626" width="1" height="14"/>
<rect x="474" y="629" width="1" height="11"/>
<rect x="482" y="629" width="1" height="11"/>
<rect x="490" y="627" width="1" height="13"/>
<rect x="498" y="625" width="1" height="15"/>
<rect x="506" y="619" width="1" height="21"/>
<rect x="514" y="614" width="1" height="26"/>
<rect x="522" y="611" width="1" height="29"/>
<rect x="530" y="609" width="1" height="31"/>
<rect x="538" y="609" width="1" height="31"/>
<rect x="546" y="610" width="1" height="30"/>
<rect x="554" y="611" width="1" height="29"/>
<rect x="562" y="612" width="1" height="28"/>
<rect x="570" y="613" width="1" height="27"/>
<rect x="578" y="614" width="1" height="26"/>
<rect x="586" y="615" width="1" height="25"/>
<rect x="594" y="619" width="1" height="21"/>
<rect x="602" y="623" width="1" height="17"/>
<rect x="610" y="624" width="1" height="16"/>
<rect x="618" y="624" width="1" height="16"/>
<rect x="626" y="621" width="1" height="19"/>
<rect x="634" y="616" width="1" height="24"/>
<rect x="642" y="615" width="1" height="25"/>
<rect x="650" y="618" width="1" height="22"/>
<rect x="658" y="620" width="1" height="20"/>
<rect x="666" y="622" width="1" height="18"/>
<rect x="674" y="624" width="1" height="16"/>
<rect x="682" y="624" width="1" height="16"/>
<rect x="690" y="624" width="1" height="16"/>
<rect x="698" y="624" width="1" height="16"/>
<rect x="706" y="625" width="1" height="15"/>
<rect x="714" y="626" width="1" height="14"/>
<rect x="722" y="629" width="1" height="11"/>
<rect x="730" y="635" width="1" height="5"/>
<rect x="738" y="633" width="1" height="7"/>
<rect x="746" y="634" width="1" height="6"/>
<rect x="754" y="634" width="1" height="6"/>
<rect x="762" y="634" width="1" height="6"/>
<rect x="770" y="635" width="1" height="5"/>
<rect x="778" y="636" width="1" height="4"/>
<rect x="786" y="634" width="1" height="6"/>
<rect x="794" y="629" width="1" height="11"/>
<rect x="802" y="627" width="1" height="13"/>
<rect x="810" y="623" width="1" height="17"/>
<rect x="818" y="623" width="1" height="17"/>
<rect x="826" y="622" width="1" height="18"/>
<rect x="834" y="620" width="1" height="20"/>
<rect x="842" y="623" width="1" height="17"/>
<rect x="850" y="626" width="1" height="14"/>
<rect x="858" y="629" width="1" height="11"/>
<rect x="866" y="632" width="1" height="8"/>
<rect x="874" y="634" width="1" height="6"/>
<rect x="882" y="636" width="1" height="4"/>
<rect x="890" y="637" width="1" height="3"/>
<rect x="898" y="638" width="1" height="2"/>
<rect x="906" y="639" width="1" height="1"/>
<rect x="914" y="639" width="1" height="1"/>
<rect x="922" y="639" width="1" height="1"/>
<rect x="930" y="639" width="1" height="1"/>
<rect x="938" y="639" width="1" height="2"/>
<rect x="946" y="639" width="1" height="6"/>
<rect x="954" y="639" width="1" height="9"/>
<rect x="962" y="639" width="1" height="10"/>
<rect x="970" y="639" width="1" height="11"/>
<rect x="978" y="639" width="1" height="11"/>
<rect x="986" y="639" width="1" height="10"/>
<rect x="994" y="639" width="1" height="11"/>
<rect x="1002" y="639" width="1" height="12"/>
<rect x="1010" y="639" width="1" height="12"/>
<rect x="1018" y="639" width="1" height="12"/>
<rect x="1026" y="639" width="1" height="9"/>
<rect x="1034" y="639" width="1" height="12"/>
<rect x="1042" y="639" width="1" height="12"/>
<rect x="1050" y="639" width="1" height="11"/>
<rect x="1058" y="639" width="1" height="10"/>
<rect x="1066" y="639" width="1" height="9"/>
<rect x="1074" y="639" width="1" height="8"/>
<rect x="1082" y="639" width="1" height="10"/>
<rect x="1090" y="639" width="1" height="15"/>
<rect x="1098" y="639" width="1" height="16"/>
<rect x="1106" y="639" width="1" height="17"/>
<rect x="1114" y="639" width="1" height="16"/>
<rect x="1122" y="639" width="1" height="15"/>
<rect x="1130" y="639" width="1" height="14"/>
<rect x="1138" y="639" width="1" height="19"/>
<rect x="1146" y="639" width="1" height="20"/>
<rect x="1154" y="639" width="1" height="24"/>
<rect x="1162" y="639" width="1" height="27"/>
<rect x="1170" y="639" width="1" height="30"/>
<rect x="1178" y="639" width="1" height="32"/>
<rect x="1186" y="639" width="1" height="32"/>
<rect x="1194" y="639" width="1" height="39"/>
<rect x="1202" y="639" width="1" height="47"/>
<rect x="1210" y="639" width="1" height="52"/>
<rect x="1218" y="639" width="1" height="57"/>
<rect x="1226" y="639" width="1" height="59"/>
<rect x="1234" y="639" width="1" height="64"/>
<rect x="1242" y="639" width="1" height="66"/>
<rect x="1250" y="639" width="1" height="67"/>
<rect x="1258" y="639" width="1" height="66"/>
<rect x="1266" y="639" width="1" height="66"/>
<rect x="1274" y="639" width="1" height="69"/>
<rect x="1282" y="639" width="1" height="77"/>
<rect x="1290" y="639" width="1" height="86"/>
<rect x="1298" y="639" width="1" height="92"/>
<rect x="1306" y="639" width="1" height="97"/>
<rect x="1314" y="639" width="1" height="104"/>
<rect x="1322" y="639" width="1" height="100"/>
<rect x="1330" y="639" width="1" height="94"/>
<rect x="1338" y="639" width="1" height="83"/>
<rect x="1346" y="639" width="1" height="60"/>
<rect x="1354" y="639" width="1" height="50"/>
<rect x="1362" y="639" width="1" height="39"/>
<rect x="1370" y="639" width="1" height="31"/>
<rect x="1378" y="639" width="1" height="19"/>
<rect x="1386" y="639" width="1" height="11"/>
<rect x="1394" y="639" width="1" height="5"/>
<rect x="1402" y="639" width="1" height="5"/>
<rect x="1410" y="639" width="1" height="1"/>
</g>
<path d="M406 608h3v1h-3zM412 608h3v1h-3zM418 608h3v1h-3zM424 608h3v1h-3zM400 609h3v1h-3zM430 609h3v1h-3zM436 609h2v1h-2zM394 610h3v1h-3zM438 610h1v1h-1zM574 610h3v1h-3zM580 610h3v1h-3zM586 610h1v1h-1zM390 611h1v1h-1zM442 611h3v1h-3zM568 611h3v1h-3zM587 611h2v1h-2zM592 611h3v1h-3zM388 612h2v1h-2zM448 612h3v1h-3zM562 612h3v1h-3zM598 612h3v1h-3zM383 613h2v1h-2zM454 613h3v1h-3zM558 613h1v1h-1zM604 613h1v1h-1zM378 614h1v1h-1zM382 614h1v1h-1zM556 614h2v1h-2zM605 614h2v1h-2zM376 615h2v1h-2zM460 615h2v1h-2zM551 615h2v1h-2zM610 615h3v1h-3zM462 616h1v1h-1zM545 616h2v1h-2zM550 616h1v1h-1zM616 616h3v1h-3zM622 616h2v1h-2zM370 617h3v1h-3zM466 617h3v1h-3zM544 617h1v1h-1zM624 617h1v1h-1zM628 617h3v1h-3zM634 617h2v1h-2zM364 618h3v1h-3zM472 618h3v1h-3zM538 618h3v1h-3zM636 618h1v1h-1zM640 618h3v1h-3zM646 618h2v1h-2zM360 619h1v1h-1zM478 619h1v1h-1zM533 619h2v1h-2zM648 619h1v1h-1zM652 619h3v1h-3zM658 619h3v1h-3zM664 619h3v1h-3zM670 619h3v1h-3zM688 619h3v1h-3zM694 619h3v1h-3zM358 620h2v1h-2zM479 620h2v1h-2zM532 620h1v1h-1zM676 620h3v1h-3zM682 620h3v1h-3zM700 620h3v1h-3zM484 621h3v1h-3zM526 621h3v1h-3zM706 621h3v1h-3zM712 621h2v1h-2zM354 622h1v1h-1zM490 622h3v1h-3zM520 622h3v1h-3zM714 622h1v1h-1zM718 622h2v1h-2zM352 623h2v1h-2zM496 623h3v1h-3zM502 623h3v1h-3zM508 623h3v1h-3zM514 623h3v1h-3zM720 623h1v1h-1zM348 624h1v1h-1zM724 624h3v1h-3zM850 624h3v1h-3zM856 624h3v1h-3zM862 624h3v1h-3zM868 624h3v1h-3zM346 625h2v1h-2zM730 625h3v1h-3zM844 625h3v1h-3zM874 625h3v1h-3zM144 626h1v1h-1zM148 626h3v1h-3zM154 626h3v1h-3zM160 626h2v1h-2zM736 626h3v1h-3zM742 626h3v1h-3zM838 626h3v1h-3zM880 626h3v1h-3zM142 627h2v1h-2zM162 627h1v1h-1zM166 627h2v1h-2zM342 627h1v1h-1zM748 627h3v1h-3zM832 627h3v1h-3zM886 627h3v1h-3zM136 628h3v1h-3zM168 628h1v1h-1zM340 628h2v1h-2zM754 628h3v1h-3zM826 628h3v1h-3zM892 628h2v1h-2zM131 629h2v1h-2zM172 629h1v1h-1zM760 629h3v1h-3zM820 629h3v1h-3zM894 629h1v1h-1zM130 630h1v1h-1zM173 630h2v1h-2zM336 630h1v1h-1zM766 630h3v1h-3zM814 630h3v1h-3zM898 630h3v1h-3zM124 631h3v1h-3zM334 631h2v1h-2zM772 631h2v1h-2zM808 631h3v1h-3zM904 631h3v1h-3zM178 632h2v1h-2zM774 632h1v1h-1zM778 632h3v1h-3zM802 632h3v1h-3zM910 632h3v1h-3zM119 633h2v1h-2zM180 633h1v1h-1zM330 633h1v1h-1zM784 633h3v1h-3zM790 633h3v1h-3zM796 633h3v1h-3zM916 633h2v1h-2zM118 634h1v1h-1zM184 634h1v1h-1zM328 634h2v1h-2zM918 634h1v1h-1zM114 635h1v1h-1zM185 635h2v1h-2zM922 635h3v1h-3zM112 636h2v1h-2zM324 636h1v1h-1zM928 636h3v1h-3zM190 637h1v1h-1zM322 637h2v1h-2zM934 637h3v1h-3zM108 638h1v1h-1zM191 638h1v1h-1zM940 638h3v1h-3zM106 639h2v1h-2zM192 639h1v1h-1zM318 639h1v1h-1zM946 639h3v1h-3zM316 640h2v1h-2zM952 640h3v1h-3zM102 641h1v1h-1zM196 641h1v1h-1zM958 641h3v1h-3zM100 642h2v1h-2zM197 642h2v1h-2zM964 642h3v1h-3zM311 643h2v1h-2zM970 643h3v1h-3zM310 644h1v1h-1zM976 644h3v1h-3zM96 645h1v1h-1zM202 645h1v1h-1zM982 645h2v1h-2zM94 646h2v1h-2zM203 646h1v1h-1zM306 646h1v1h-1zM984 646h1v1h-1zM988 646h2v1h-2zM204 647h1v1h-1zM305 647h1v1h-1zM990 647h1v1h-1zM994 647h3v1h-3zM304 648h1v1h-1zM1000 648h3v1h-3zM90 649h1v1h-1zM1006 649h3v1h-3zM1012 649h3v1h-3zM89 650h1v1h-1zM208 650h1v1h-1zM1018 650h3v1h-3zM1024 650h3v1h-3zM1030 650h3v1h-3zM1060 650h3v1h-3zM1066 650h3v1h-3zM1072 650h3v1h-3zM1078 650h3v1h-3zM1084 650h3v1h-3zM1090 650h3v1h-3zM88 651h1v1h-1zM209 651h2v1h-2zM299 651h2v1h-2zM1036 651h3v1h-3zM1042 651h3v1h-3zM1048 651h3v1h-3zM1054 651h3v1h-3zM1096 651h3v1h-3zM1102 651h3v1h-3zM298 652h1v1h-1zM1108 652h3v1h-3zM1114 652h3v1h-3zM1120 652h3v1h-3zM1126 652h3v1h-3zM1132 652h3v1h-3zM1138 653h2v1h-2zM84 654h1v1h-1zM214 654h1v1h-1zM294 654h1v1h-1zM1140 654h1v1h-1zM1144 654h3v1h-3zM82 655h2v1h-2zM215 655h1v1h-1zM293 655h1v1h-1zM1150 655h3v1h-3zM216 656h1v1h-1zM292 656h1v1h-1zM1156 656h2v1h-2zM1158 657h1v1h-1zM288 658h1v1h-1zM1162 658h3v1h-3zM78 659h1v1h-1zM220 659h1v1h-1zM286 659h2v1h-2zM1168 659h3v1h-3zM1174 659h1v1h-1zM77 660h1v1h-1zM221 660h2v1h-2zM1175 660h2v1h-2zM76 661h1v1h-1zM282 661h1v1h-1zM1180 661h3v1h-3zM280 662h2v1h-2zM1186 662h1v1h-1zM226 663h2v1h-2zM1187 663h2v1h-2zM228 664h1v1h-1zM275 664h2v1h-2zM1192 664h2v1h-2zM72 665h1v1h-1zM274 665h1v1h-1zM1194 665h1v1h-1zM71 666h1v1h-1zM232 666h2v1h-2zM270 666h1v1h-1zM70 667h1v1h-1zM234 667h1v1h-1zM268 667h2v1h-2zM1198 667h2v1h-2zM1410 667h1v1h-1zM238 668h1v1h-1zM264 668h1v1h-1zM1200 668h1v1h-1zM1409 668h1v1h-1zM239 669h2v1h-2zM262 669h2v1h-2zM244 670h3v1h-3zM256 670h3v1h-3zM1204 670h2v1h-2zM66 671h1v1h-1zM250 671h3v1h-3zM1206 671h1v1h-1zM65 672h1v1h-1zM1406 672h1v1h-1zM65 673h1v1h-1zM1210 673h2v1h-2zM1405 673h1v1h-1zM1212 674h1v1h-1zM1404 674h1v1h-1zM1216 676h2v1h-2zM61 677h1v1h-1zM1218 677h1v1h-1zM60 678h1v1h-1zM1401 678h1v1h-1zM59 679h1v1h-1zM1222 679h2v1h-2zM1400 679h1v1h-1zM1224 680h1v1h-1zM1399 680h1v1h-1zM1228 682h2v1h-2zM55 683h1v1h-1zM1230 683h1v1h-1zM55 684h1v1h-1zM1396 684h1v1h-1zM54 685h1v1h-1zM1234 685h2v1h-2zM1395 685h1v1h-1zM1236 686h1v1h-1zM1394 686h1v1h-1zM1240 688h2v1h-2zM50 689h1v1h-1zM1242 689h1v1h-1zM49 690h1v1h-1zM1391 690h1v1h-1zM48 691h1v1h-1zM1246 691h2v1h-2zM1390 691h1v1h-1zM1248 692h1v1h-1zM1389 692h1v1h-1zM44 694h1v1h-1zM1252 694h2v1h-2zM43 695h1v1h-1zM1254 695h1v1h-1zM42 696h1v1h-1zM1258 696h1v1h-1zM1386 696h1v1h-1zM1259 697h2v1h-2zM1385 697h1v1h-1zM0 698h1v1h-1zM1384 698h1v1h-1zM1 699h2v1h-2zM38 699h1v1h-1zM1264 699h3v1h-3zM36 700h2v1h-2zM1270 700h2v1h-2zM1272 701h1v1h-1zM6 702h1v1h-1zM31 702h2v1h-2zM1276 702h2v1h-2zM1380 702h1v1h-1zM7 703h1v1h-1zM30 703h1v1h-1zM1278 703h1v1h-1zM1379 703h1v1h-1zM8 704h1v1h-1zM24 704h3v1h-3zM1282 704h1v1h-1zM1378 704h1v1h-1zM12 705h3v1h-3zM20 705h1v1h-1zM1283 705h2v1h-2zM18 706h2v1h-2zM1288 707h2v1h-2zM1290 708h1v1h-1zM1374 708h1v1h-1zM1373 709h1v1h-1zM1294 710h1v1h-1zM1372 710h1v1h-1zM1295 711h2v1h-2zM1300 714h3v1h-3zM1368 714h1v1h-1zM1306 715h3v1h-3zM1367 715h1v1h-1zM1366 716h1v1h-1zM1312 717h2v1h-2zM1314 718h1v1h-1zM1362 719h1v1h-1zM1318 720h2v1h-2zM1360 720h2v1h-2zM1320 721h1v1h-1zM1324 723h2v1h-2zM1356 723h1v1h-1zM1326 724h1v1h-1zM1354 724h2v1h-2zM1330 725h1v1h-1zM1331 726h2v1h-2zM1350 726h1v1h-1zM1336 727h3v1h-3zM1348 727h2v1h-2zM1342 728h3v1h-3z" fill="#ff0000" shape-rendering="crispEdges"/>
<g shape-rendering="crispEdges" stroke="#c0c0c0" stroke-dasharray="3,3">
<line x1="0" y1="789.5" x2="1652" y2="789.5"/>
<line x1="0" y1="840.5" x2="1652" y2="840.5"/>
<line x1="0" y1="901.5" x2="1652" y2="901.5"/>
</g>
<path d="M634 804h1v1h-1zM511 805h6v1h-6zM632 805h3v1h-3zM506 806h5v1h-5zM517 806h4v1h-4zM631 806h1v1h-1zM635 806h1v1h-1zM505 807h1v1h-1zM521 807h4v1h-4zM629 807h2v1h-2zM635 807h1v1h-1zM505 808h1v1h-1zM525 808h4v1h-4zM627 808h2v1h-2zM636 808h1v1h-1zM504 809h1v1h-1zM529 809h2v1h-2zM626 809h1v1h-1zM636 809h1v1h-1zM504 810h1v1h-1zM531 810h1v1h-1zM626 810h1v1h-1zM637 810h1v1h-1zM503 811h1v1h-1zM532 811h1v1h-1zM625 811h1v1h-1zM637 811h1v1h-1zM503 812h1v1h-1zM533 812h2v1h-2zM625 812h1v1h-1zM638 812h1v1h-1zM502 813h1v1h-1zM535 813h1v1h-1zM624 813h1v1h-1zM638 813h1v1h-1zM385 814h2v1h-2zM502 814h1v1h-1zM536 814h1v1h-1zM624 814h1v1h-1zM638 814h1v1h-1zM381 815h4v1h-4zM387 815h1v1h-1zM501 815h1v1h-1zM537 815h1v1h-1zM624 815h1v1h-1zM639 815h1v1h-1zM375 816h6v1h-6zM387 816h1v1h-1zM501 816h1v1h-1zM538 816h1v1h-1zM623 816h1v1h-1zM639 816h1v1h-1zM361 817h14v1h-14zM388 817h1v1h-1zM500 817h1v1h-1zM539 817h2v1h-2zM623 817h1v1h-1zM640 817h1v1h-1zM359 818h2v1h-2zM388 818h1v1h-1zM500 818h1v1h-1zM541 818h1v1h-1zM622 818h1v1h-1zM640 818h1v1h-1zM356 819h3v1h-3zM389 819h1v1h-1zM499 819h1v1h-1zM542 819h1v1h-1zM559 819h8v1h-8zM575 819h4v1h-4zM622 819h1v1h-1zM641 819h1v1h-1zM810 819h1v1h-1zM834 819h1v1h-1zM351 820h5v1h-5zM389 820h1v1h-1zM499 820h1v1h-1zM543 820h2v1h-2zM553 820h6v1h-6zM567 820h8v1h-8zM579 820h2v1h-2zM622 820h1v1h-1zM641 820h1v1h-1zM808 820h2v1h-2zM811 820h1v1h-1zM833 820h2v1h-2zM346 821h5v1h-5zM390 821h1v1h-1zM498 821h1v1h-1zM545 821h1v1h-1zM549 821h4v1h-4zM581 821h2v1h-2zM621 821h1v1h-1zM642 821h1v1h-1zM806 821h2v1h-2zM812 821h1v1h-1zM832 821h1v1h-1zM835 821h1v1h-1zM327 822h4v1h-4zM345 822h1v1h-1zM390 822h1v1h-1zM490 822h9v1h-9zM546 822h3v1h-3zM583 822h1v1h-1zM621 822h1v1h-1zM642 822h1v1h-1zM794 822h5v1h-5zM804 822h2v1h-2zM813 822h2v1h-2zM831 822h1v1h-1zM835 822h1v1h-1zM322 823h5v1h-5zM331 823h2v1h-2zM343 823h2v1h-2zM391 823h1v1h-1zM489 823h1v1h-1zM584 823h2v1h-2zM620 823h1v1h-1zM643 823h1v1h-1zM793 823h1v1h-1zM799 823h5v1h-5zM815 823h1v1h-1zM830 823h1v1h-1zM835 823h1v1h-1zM127 824h4v1h-4zM290 824h1v1h-1zM321 824h1v1h-1zM333 824h2v1h-2zM342 824h1v1h-1zM391 824h1v1h-1zM488 824h1v1h-1zM586 824h1v1h-1zM620 824h1v1h-1zM643 824h1v1h-1zM792 824h1v1h-1zM816 824h1v1h-1zM829 824h1v1h-1zM836 824h1v1h-1zM57 825h4v1h-4zM119 825h8v1h-8zM131 825h2v1h-2zM288 825h2v1h-2zM291 825h1v1h-1zM320 825h1v1h-1zM335 825h1v1h-1zM341 825h1v1h-1zM392 825h1v1h-1zM487 825h1v1h-1zM586 825h1v1h-1zM620 825h1v1h-1zM644 825h1v1h-1zM791 825h1v1h-1zM817 825h1v1h-1zM828 825h1v1h-1zM836 825h1v1h-1zM53 826h4v1h-4zM61 826h4v1h-4zM114 826h5v1h-5zM133 826h1v1h-1zM286 826h2v1h-2zM292 826h1v1h-1zM319 826h1v1h-1zM336 826h2v1h-2zM339 826h2v1h-2zM392 826h1v1h-1zM486 826h1v1h-1zM587 826h1v1h-1zM619 826h1v1h-1zM645 826h1v1h-1zM690 826h1v1h-1zM789 826h2v1h-2zM818 826h5v1h-5zM827 826h1v1h-1zM837 826h1v1h-1zM50 827h3v1h-3zM65 827h2v1h-2zM112 827h2v1h-2zM134 827h1v1h-1zM284 827h2v1h-2zM293 827h1v1h-1zM317 827h2v1h-2zM338 827h1v1h-1zM393 827h1v1h-1zM485 827h1v1h-1zM587 827h1v1h-1zM619 827h1v1h-1zM645 827h1v1h-1zM688 827h2v1h-2zM691 827h2v1h-2zM788 827h1v1h-1zM823 827h4v1h-4zM837 827h1v1h-1zM48 828h2v1h-2zM67 828h1v1h-1zM110 828h2v1h-2zM135 828h2v1h-2zM282 828h2v1h-2zM294 828h1v1h-1zM316 828h1v1h-1zM393 828h1v1h-1zM417 828h11v1h-11zM484 828h1v1h-1zM588 828h1v1h-1zM618 828h1v1h-1zM646 828h1v1h-1zM687 828h1v1h-1zM693 828h2v1h-2zM787 828h1v1h-1zM837 828h1v1h-1zM46 829h2v1h-2zM68 829h1v1h-1zM108 829h2v1h-2zM137 829h1v1h-1zM281 829h1v1h-1zM295 829h1v1h-1zM305 829h6v1h-6zM315 829h1v1h-1zM394 829h1v1h-1zM415 829h2v1h-2zM428 829h3v1h-3zM483 829h1v1h-1zM588 829h1v1h-1zM615 829h4v1h-4zM647 829h1v1h-1zM685 829h2v1h-2zM695 829h1v1h-1zM786 829h1v1h-1zM838 829h1v1h-1zM44 830h2v1h-2zM69 830h1v1h-1zM106 830h2v1h-2zM138 830h1v1h-1zM280 830h1v1h-1zM296 830h1v1h-1zM303 830h2v1h-2zM311 830h4v1h-4zM395 830h2v1h-2zM412 830h3v1h-3zM431 830h2v1h-2zM482 830h1v1h-1zM589 830h1v1h-1zM610 830h5v1h-5zM647 830h1v1h-1zM683 830h2v1h-2zM696 830h2v1h-2zM703 830h8v1h-8zM785 830h1v1h-1zM838 830h1v1h-1zM42 831h2v1h-2zM70 831h1v1h-1zM105 831h1v1h-1zM139 831h1v1h-1zM279 831h1v1h-1zM297 831h1v1h-1zM300 831h3v1h-3zM397 831h1v1h-1zM410 831h2v1h-2zM433 831h10v1h-10zM481 831h1v1h-1zM589 831h1v1h-1zM609 831h1v1h-1zM648 831h1v1h-1zM682 831h1v1h-1zM698 831h5v1h-5zM711 831h4v1h-4zM738 831h1v1h-1zM785 831h1v1h-1zM838 831h1v1h-1zM1407 831h4v1h-4zM40 832h2v1h-2zM71 832h1v1h-1zM104 832h1v1h-1zM140 832h1v1h-1zM242 832h1v1h-1zM277 832h2v1h-2zM298 832h2v1h-2zM398 832h1v1h-1zM408 832h2v1h-2zM443 832h1v1h-1zM481 832h1v1h-1zM590 832h1v1h-1zM609 832h1v1h-1zM649 832h1v1h-1zM680 832h2v1h-2zM715 832h1v1h-1zM738 832h2v1h-2zM784 832h1v1h-1zM839 832h1v1h-1zM1361 832h2v1h-2zM1399 832h8v1h-8zM39 833h1v1h-1zM72 833h1v1h-1zM104 833h1v1h-1zM140 833h1v1h-1zM242 833h3v1h-3zM276 833h1v1h-1zM399 833h2v1h-2zM406 833h2v1h-2zM444 833h1v1h-1zM480 833h1v1h-1zM590 833h1v1h-1zM608 833h1v1h-1zM649 833h1v1h-1zM665 833h4v1h-4zM678 833h2v1h-2zM715 833h1v1h-1zM737 833h1v1h-1zM740 833h1v1h-1zM783 833h1v1h-1zM839 833h1v1h-1zM1357 833h4v1h-4zM1363 833h2v1h-2zM1393 833h6v1h-6zM37 834h2v1h-2zM73 834h1v1h-1zM103 834h1v1h-1zM141 834h1v1h-1zM241 834h1v1h-1zM245 834h2v1h-2zM257 834h4v1h-4zM275 834h1v1h-1zM401 834h1v1h-1zM404 834h2v1h-2zM445 834h2v1h-2zM480 834h1v1h-1zM590 834h1v1h-1zM607 834h1v1h-1zM650 834h3v1h-3zM663 834h2v1h-2zM669 834h4v1h-4zM676 834h2v1h-2zM716 834h1v1h-1zM737 834h1v1h-1zM741 834h2v1h-2zM782 834h1v1h-1zM839 834h1v1h-1zM1353 834h4v1h-4zM1365 834h1v1h-1zM1391 834h2v1h-2zM35 835h2v1h-2zM74 835h5v1h-5zM102 835h1v1h-1zM142 835h1v1h-1zM241 835h1v1h-1zM247 835h1v1h-1zM255 835h2v1h-2zM261 835h4v1h-4zM271 835h4v1h-4zM402 835h2v1h-2zM447 835h1v1h-1zM479 835h1v1h-1zM591 835h1v1h-1zM606 835h1v1h-1zM653 835h4v1h-4zM660 835h3v1h-3zM673 835h3v1h-3zM717 835h1v1h-1zM737 835h1v1h-1zM743 835h1v1h-1zM762 835h2v1h-2zM782 835h1v1h-1zM840 835h1v1h-1zM1349 835h4v1h-4zM1366 835h1v1h-1zM1377 835h6v1h-6zM1388 835h3v1h-3zM33 836h2v1h-2zM79 836h6v1h-6zM101 836h1v1h-1zM143 836h1v1h-1zM241 836h1v1h-1zM248 836h2v1h-2zM252 836h3v1h-3zM265 836h6v1h-6zM448 836h1v1h-1zM479 836h1v1h-1zM591 836h1v1h-1zM606 836h1v1h-1zM657 836h3v1h-3zM718 836h1v1h-1zM737 836h1v1h-1zM744 836h1v1h-1zM760 836h2v1h-2zM764 836h2v1h-2zM781 836h1v1h-1zM840 836h1v1h-1zM1345 836h4v1h-4zM1367 836h2v1h-2zM1375 836h2v1h-2zM1383 836h5v1h-5zM31 837h2v1h-2zM85 837h4v1h-4zM100 837h1v1h-1zM144 837h1v1h-1zM241 837h1v1h-1zM250 837h2v1h-2zM449 837h1v1h-1zM478 837h1v1h-1zM592 837h1v1h-1zM605 837h1v1h-1zM718 837h1v1h-1zM736 837h1v1h-1zM745 837h1v1h-1zM759 837h1v1h-1zM766 837h2v1h-2zM780 837h1v1h-1zM841 837h1v1h-1zM1343 837h2v1h-2zM1369 837h1v1h-1zM1372 837h3v1h-3zM28 838h3v1h-3zM89 838h4v1h-4zM100 838h1v1h-1zM144 838h1v1h-1zM240 838h1v1h-1zM450 838h10v1h-10zM477 838h1v1h-1zM592 838h1v1h-1zM604 838h1v1h-1zM719 838h1v1h-1zM736 838h1v1h-1zM746 838h3v1h-3zM757 838h2v1h-2zM768 838h2v1h-2zM779 838h1v1h-1zM841 838h1v1h-1zM1340 838h3v1h-3zM1370 838h2v1h-2zM17 839h11v1h-11zM93 839h4v1h-4zM99 839h1v1h-1zM145 839h1v1h-1zM240 839h1v1h-1zM460 839h3v1h-3zM477 839h1v1h-1zM593 839h1v1h-1zM603 839h1v1h-1zM720 839h1v1h-1zM736 839h1v1h-1zM749 839h4v1h-4zM755 839h2v1h-2zM770 839h5v1h-5zM779 839h1v1h-1zM841 839h1v1h-1zM1338 839h2v1h-2zM15 840h2v1h-2zM97 840h2v1h-2zM146 840h1v1h-1zM240 840h1v1h-1zM463 840h2v1h-2zM476 840h1v1h-1zM593 840h1v1h-1zM603 840h1v1h-1zM721 840h1v1h-1zM736 840h1v1h-1zM753 840h2v1h-2zM775 840h4v1h-4zM842 840h1v1h-1zM1338 840h1v1h-1zM12 841h3v1h-3zM147 841h1v1h-1zM239 841h1v1h-1zM465 841h3v1h-3zM476 841h1v1h-1zM594 841h1v1h-1zM599 841h4v1h-4zM721 841h1v1h-1zM735 841h1v1h-1zM842 841h11v1h-11zM986 841h1v1h-1zM1026 841h1v1h-1zM1337 841h1v1h-1zM9 842h3v1h-3zM147 842h1v1h-1zM239 842h1v1h-1zM468 842h3v1h-3zM475 842h1v1h-1zM594 842h5v1h-5zM722 842h1v1h-1zM735 842h1v1h-1zM853 842h4v1h-4zM881 842h12v1h-12zM985 842h1v1h-1zM987 842h1v1h-1zM1025 842h2v1h-2zM1073 842h2v1h-2zM1337 842h1v1h-1zM7 843h2v1h-2zM148 843h1v1h-1zM239 843h1v1h-1zM471 843h2v1h-2zM475 843h1v1h-1zM722 843h1v1h-1zM735 843h1v1h-1zM857 843h4v1h-4zM879 843h2v1h-2zM893 843h4v1h-4zM903 843h8v1h-8zM985 843h1v1h-1zM987 843h1v1h-1zM1025 843h1v1h-1zM1027 843h1v1h-1zM1069 843h4v1h-4zM1075 843h1v1h-1zM1336 843h1v1h-1zM4 844h3v1h-3zM148 844h1v1h-1zM239 844h1v1h-1zM473 844h2v1h-2zM723 844h1v1h-1zM734 844h1v1h-1zM861 844h4v1h-4zM876 844h3v1h-3zM897 844h6v1h-6zM911 844h6v1h-6zM929 844h3v1h-3zM984 844h1v1h-1zM988 844h1v1h-1zM1024 844h1v1h-1zM1027 844h1v1h-1zM1058 844h11v1h-11zM1076 844h1v1h-1zM1336 844h1v1h-1zM0 845h4v1h-4zM149 845h1v1h-1zM238 845h1v1h-1zM723 845h1v1h-1zM734 845h1v1h-1zM865 845h11v1h-11zM917 845h4v1h-4zM925 845h4v1h-4zM932 845h2v1h-2zM984 845h1v1h-1zM988 845h1v1h-1zM1023 845h1v1h-1zM1028 845h1v1h-1zM1057 845h1v1h-1zM1076 845h1v1h-1zM1336 845h1v1h-1zM149 846h1v1h-1zM238 846h1v1h-1zM724 846h1v1h-1zM734 846h1v1h-1zM921 846h4v1h-4zM934 846h2v1h-2zM983 846h1v1h-1zM989 846h1v1h-1zM1023 846h1v1h-1zM1028 846h1v1h-1zM1056 846h1v1h-1zM1077 846h1v1h-1zM1119 846h5v1h-5zM1335 846h1v1h-1zM150 847h1v1h-1zM238 847h1v1h-1zM724 847h1v1h-1zM734 847h1v1h-1zM936 847h2v1h-2zM983 847h1v1h-1zM989 847h1v1h-1zM1022 847h1v1h-1zM1029 847h1v1h-1zM1055 847h1v1h-1zM1078 847h1v1h-1zM1114 847h5v1h-5zM1124 847h3v1h-3zM1335 847h1v1h-1zM151 848h1v1h-1zM237 848h1v1h-1zM725 848h1v1h-1zM733 848h1v1h-1zM938 848h1v1h-1zM982 848h1v1h-1zM990 848h1v1h-1zM1021 848h1v1h-1zM1029 848h1v1h-1zM1053 848h2v1h-2zM1079 848h1v1h-1zM1113 848h1v1h-1zM1127 848h2v1h-2zM1335 848h1v1h-1zM151 849h1v1h-1zM237 849h1v1h-1zM725 849h1v1h-1zM733 849h1v1h-1zM938 849h1v1h-1zM981 849h1v1h-1zM990 849h1v1h-1zM1021 849h1v1h-1zM1030 849h1v1h-1zM1042 849h3v1h-3zM1052 849h1v1h-1zM1080 849h1v1h-1zM1112 849h1v1h-1zM1129 849h2v1h-2zM1334 849h1v1h-1zM152 850h1v1h-1zM237 850h1v1h-1zM726 850h1v1h-1zM733 850h1v1h-1zM939 850h1v1h-1zM981 850h1v1h-1zM991 850h1v1h-1zM1020 850h1v1h-1zM1030 850h1v1h-1zM1041 850h1v1h-1zM1045 850h4v1h-4zM1051 850h1v1h-1zM1080 850h1v1h-1zM1111 850h1v1h-1zM1130 850h1v1h-1zM1334 850h1v1h-1zM152 851h1v1h-1zM237 851h1v1h-1zM726 851h1v1h-1zM732 851h1v1h-1zM939 851h1v1h-1zM980 851h1v1h-1zM991 851h1v1h-1zM1019 851h1v1h-1zM1030 851h1v1h-1zM1040 851h1v1h-1zM1049 851h2v1h-2zM1081 851h1v1h-1zM1110 851h1v1h-1zM1131 851h1v1h-1zM1333 851h1v1h-1zM153 852h1v1h-1zM236 852h1v1h-1zM726 852h1v1h-1zM732 852h1v1h-1zM940 852h1v1h-1zM980 852h1v1h-1zM992 852h1v1h-1zM1010 852h5v1h-5zM1019 852h1v1h-1zM1031 852h1v1h-1zM1040 852h1v1h-1zM1082 852h1v1h-1zM1098 852h2v1h-2zM1109 852h1v1h-1zM1131 852h1v1h-1zM1333 852h1v1h-1zM153 853h1v1h-1zM236 853h1v1h-1zM727 853h1v1h-1zM732 853h1v1h-1zM940 853h1v1h-1zM979 853h1v1h-1zM992 853h1v1h-1zM1008 853h2v1h-2zM1015 853h4v1h-4zM1031 853h1v1h-1zM1039 853h1v1h-1zM1082 853h1v1h-1zM1098 853h1v1h-1zM1100 853h3v1h-3zM1108 853h1v1h-1zM1132 853h1v1h-1zM1333 853h1v1h-1zM154 854h1v1h-1zM236 854h1v1h-1zM727 854h1v1h-1zM732 854h1v1h-1zM941 854h1v1h-1zM979 854h1v1h-1zM993 854h1v1h-1zM1007 854h1v1h-1zM1032 854h1v1h-1zM1038 854h1v1h-1zM1083 854h1v1h-1zM1097 854h1v1h-1zM1103 854h2v1h-2zM1107 854h1v1h-1zM1132 854h1v1h-1zM1332 854h1v1h-1zM155 855h2v1h-2zM202 855h1v1h-1zM235 855h1v1h-1zM728 855h1v1h-1zM731 855h1v1h-1zM941 855h1v1h-1zM962 855h3v1h-3zM977 855h2v1h-2zM993 855h1v1h-1zM1005 855h2v1h-2zM1032 855h1v1h-1zM1037 855h1v1h-1zM1083 855h1v1h-1zM1097 855h1v1h-1zM1105 855h2v1h-2zM1133 855h1v1h-1zM1332 855h1v1h-1zM157 856h1v1h-1zM202 856h3v1h-3zM218 856h10v1h-10zM235 856h1v1h-1zM728 856h1v1h-1zM731 856h1v1h-1zM942 856h1v1h-1zM960 856h2v1h-2zM965 856h4v1h-4zM973 856h4v1h-4zM994 856h5v1h-5zM1003 856h2v1h-2zM1033 856h1v1h-1zM1036 856h1v1h-1zM1084 856h1v1h-1zM1096 856h1v1h-1zM1133 856h1v1h-1zM1332 856h1v1h-1zM158 857h1v1h-1zM201 857h1v1h-1zM205 857h2v1h-2zM216 857h2v1h-2zM228 857h2v1h-2zM235 857h1v1h-1zM729 857h1v1h-1zM731 857h1v1h-1zM942 857h1v1h-1zM959 857h1v1h-1zM969 857h4v1h-4zM999 857h4v1h-4zM1033 857h1v1h-1zM1036 857h1v1h-1zM1084 857h1v1h-1zM1096 857h1v1h-1zM1134 857h1v1h-1zM1146 857h1v1h-1zM1331 857h1v1h-1zM159 858h2v1h-2zM201 858h1v1h-1zM207 858h1v1h-1zM214 858h2v1h-2zM230 858h2v1h-2zM235 858h1v1h-1zM729 858h1v1h-1zM731 858h1v1h-1zM943 858h1v1h-1zM957 858h2v1h-2zM1034 858h2v1h-2zM1084 858h1v1h-1zM1096 858h1v1h-1zM1134 858h1v1h-1zM1145 858h1v1h-1zM1147 858h1v1h-1zM1331 858h1v1h-1zM161 859h1v1h-1zM167 859h5v1h-5zM200 859h1v1h-1zM208 859h2v1h-2zM212 859h2v1h-2zM232 859h3v1h-3zM730 859h1v1h-1zM943 859h1v1h-1zM955 859h2v1h-2zM1034 859h1v1h-1zM1085 859h1v1h-1zM1095 859h1v1h-1zM1135 859h1v1h-1zM1144 859h1v1h-1zM1148 859h1v1h-1zM1330 859h1v1h-1zM162 860h5v1h-5zM172 860h3v1h-3zM200 860h1v1h-1zM210 860h2v1h-2zM234 860h1v1h-1zM730 860h1v1h-1zM944 860h1v1h-1zM954 860h1v1h-1zM1085 860h1v1h-1zM1095 860h1v1h-1zM1135 860h1v1h-1zM1143 860h1v1h-1zM1149 860h1v1h-1zM1330 860h1v1h-1zM175 861h2v1h-2zM199 861h1v1h-1zM944 861h1v1h-1zM952 861h2v1h-2zM1086 861h1v1h-1zM1094 861h1v1h-1zM1136 861h1v1h-1zM1142 861h1v1h-1zM1150 861h1v1h-1zM1329 861h1v1h-1zM177 862h2v1h-2zM199 862h1v1h-1zM945 862h1v1h-1zM951 862h1v1h-1zM1086 862h1v1h-1zM1094 862h1v1h-1zM1136 862h1v1h-1zM1142 862h1v1h-1zM1150 862h1v1h-1zM1186 862h1v1h-1zM1328 862h1v1h-1zM179 863h1v1h-1zM198 863h1v1h-1zM945 863h1v1h-1zM949 863h2v1h-2zM1086 863h1v1h-1zM1094 863h1v1h-1zM1137 863h1v1h-1zM1141 863h1v1h-1zM1151 863h1v1h-1zM1185 863h2v1h-2zM1327 863h1v1h-1zM180 864h1v1h-1zM198 864h1v1h-1zM946 864h3v1h-3zM1087 864h1v1h-1zM1093 864h1v1h-1zM1137 864h1v1h-1zM1140 864h1v1h-1zM1152 864h1v1h-1zM1183 864h2v1h-2zM1187 864h1v1h-1zM1326 864h1v1h-1zM181 865h1v1h-1zM197 865h1v1h-1zM946 865h1v1h-1zM1087 865h1v1h-1zM1093 865h1v1h-1zM1138 865h2v1h-2zM1153 865h1v1h-1zM1182 865h1v1h-1zM1187 865h1v1h-1zM1325 865h1v1h-1zM182 866h1v1h-1zM197 866h1v1h-1zM1088 866h1v1h-1zM1092 866h1v1h-1zM1138 866h1v1h-1zM1154 866h11v1h-11zM1181 866h1v1h-1zM1188 866h1v1h-1zM1324 866h1v1h-1zM183 867h1v1h-1zM196 867h1v1h-1zM1088 867h1v1h-1zM1092 867h1v1h-1zM1165 867h4v1h-4zM1179 867h2v1h-2zM1188 867h1v1h-1zM1323 867h1v1h-1zM184 868h1v1h-1zM196 868h1v1h-1zM1088 868h1v1h-1zM1092 868h1v1h-1zM1169 868h10v1h-10zM1189 868h1v1h-1zM1322 868h1v1h-1zM185 869h1v1h-1zM195 869h1v1h-1zM1089 869h1v1h-1zM1091 869h1v1h-1zM1189 869h1v1h-1zM1322 869h1v1h-1zM186 870h3v1h-3zM195 870h1v1h-1zM1089 870h1v1h-1zM1091 870h1v1h-1zM1190 870h1v1h-1zM1322 870h1v1h-1zM189 871h4v1h-4zM194 871h1v1h-1zM1090 871h1v1h-1zM1190 871h1v1h-1zM1321 871h1v1h-1zM193 872h2v1h-2zM1090 872h1v1h-1zM1190 872h1v1h-1zM1321 872h1v1h-1zM1191 873h1v1h-1zM1321 873h1v1h-1zM1191 874h1v1h-1zM1321 874h1v1h-1zM1192 875h1v1h-1zM1258 875h2v1h-2zM1320 875h1v1h-1zM1192 876h1v1h-1zM1256 876h2v1h-2zM1260 876h2v1h-2zM1320 876h1v1h-1zM1193 877h1v1h-1zM1254 877h2v1h-2zM1262 877h2v1h-2zM1320 877h1v1h-1zM1193 878h1v1h-1zM1252 878h2v1h-2zM1264 878h2v1h-2zM1320 878h1v1h-1zM1194 879h1v1h-1zM1247 879h5v1h-5zM1266 879h1v1h-1zM1319 879h1v1h-1zM1194 880h1v1h-1zM1226 880h1v1h-1zM1242 880h5v1h-5zM1267 880h2v1h-2zM1319 880h1v1h-1zM1195 881h2v1h-2zM1225 881h1v1h-1zM1227 881h1v1h-1zM1241 881h1v1h-1zM1269 881h2v1h-2zM1319 881h1v1h-1zM1197 882h2v1h-2zM1224 882h1v1h-1zM1228 882h1v1h-1zM1240 882h1v1h-1zM1271 882h1v1h-1zM1319 882h1v1h-1zM1199 883h1v1h-1zM1223 883h1v1h-1zM1229 883h1v1h-1zM1239 883h1v1h-1zM1272 883h2v1h-2zM1319 883h1v1h-1zM1200 884h2v1h-2zM1221 884h2v1h-2zM1230 884h1v1h-1zM1238 884h1v1h-1zM1274 884h1v1h-1zM1318 884h1v1h-1zM1202 885h11v1h-11zM1220 885h1v1h-1zM1231 885h1v1h-1zM1237 885h1v1h-1zM1275 885h1v1h-1zM1318 885h1v1h-1zM1213 886h4v1h-4zM1219 886h1v1h-1zM1232 886h1v1h-1zM1236 886h1v1h-1zM1276 886h1v1h-1zM1318 886h1v1h-1zM1217 887h2v1h-2zM1233 887h1v1h-1zM1235 887h1v1h-1zM1276 887h1v1h-1zM1318 887h1v1h-1zM1234 888h1v1h-1zM1277 888h1v1h-1zM1317 888h1v1h-1zM1278 889h1v1h-1zM1317 889h1v1h-1zM1279 890h1v1h-1zM1317 890h1v1h-1zM1280 891h1v1h-1zM1317 891h1v1h-1zM1280 892h1v1h-1zM1317 892h1v1h-1zM1281 893h1v1h-1zM1316 893h1v1h-1zM1282 894h2v1h-2zM1316 894h1v1h-1zM1284 895h2v1h-2zM1316 895h1v1h-1zM1286 896h2v1h-2zM1316 896h1v1h-1zM1288 897h2v1h-2zM1295 897h8v1h-8zM1315 897h1v1h-1zM1290 898h5v1h-5zM1303 898h4v1h-4zM1315 898h1v1h-1zM1307 899h2v1h-2zM1315 899h1v1h-1zM1309 900h2v1h-2zM1315 900h1v1h-1zM1311 901h1v1h-1zM1314 901h1v1h-1zM1312 902h3v1h-3zM1314 903h1v1h-1z" fill="#1e90ff" shape-rendering="crispEdges"/>
<line x1="1366.5" y1="368.3" x2="1411.4" y2="309.5" stroke="#ff0000" stroke-width="3.7" shape-rendering="crispEdges"/>
<polygon points="1416.9,302.4 1414.3,313.6 1406.7,307.9" fill="#ff0000" shape-rendering="crispEdges"/>
<line x1="1319.0" y1="738.4" x2="1390.0" y2="649.4" stroke="#ff0000" stroke-width="3.1" shape-rendering="crispEdges"/>
<polygon points="1395.6,642.4 1392.8,653.6 1385.3,647.6" fill="#ff0000" shape-rendering="crispEdges"/>
<line x1="1302.9" y1="895.3" x2="1345.4" y2="844.6" stroke="#ff0000" stroke-width="3.6" shape-rendering="crispEdges"/>
<polygon points="1351.2,837.7 1348.1,848.8 1340.8,842.7" fill="#ff0000" shape-rendering="crispEdges"/>
<line x1="1351.2" y1="837.7" x2="1404.7" y2="831.5" stroke="#ff0000" stroke-width="3.6" shape-rendering="crispEdges"/>
<polygon points="1413.6,830.5 1403.7,836.4 1402.6,827.0" fill="#ff0000" shape-rendering="crispEdges"/>
<g shape-rendering="crispEdges" fill="#000">
<rect x="0" y="26" width="1653" height="1"/>
<rect x="1652" y="26" width="1" height="902"/>
<rect x="0" y="593" width="1653" height="1"/>
<rect x="0" y="595" width="1653" height="1"/>
<rect x="0" y="751" width="1653" height="1"/>
<rect x="0" y="753" width="1653" height="1"/>
<rect x="0" y="927" width="1653" height="1"/>
</g>
<g shape-rendering="crispEdges" fill="#fff">
<rect x="0" y="594" width="1653" height="1"/><rect x="0" y="752" width="1653" height="1"/>
</g>
<g shape-rendering="crispEdges" fill="#000">
<rect x="1653" y="29" width="2" height="1"/>
<rect x="1653" y="62" width="2" height="1"/>
<rect x="1653" y="95" width="2" height="1"/>
<rect x="1653" y="128" width="2" height="1"/>
<rect x="1653" y="161" width="2" height="1"/>
<rect x="1653" y="194" width="2" height="1"/>
<rect x="1653" y="227" width="2" height="1"/>
<rect x="1653" y="260" width="2" height="1"/>
<rect x="1653" y="293" width="2" height="1"/>
<rect x="1653" y="326" width="2" height="1"/>
<rect x="1653" y="359" width="2" height="1"/>
<rect x="1653" y="392" width="2" height="1"/>
<rect x="1653" y="425" width="2" height="1"/>
<rect x="1653" y="458" width="2" height="1"/>
<rect x="1653" y="491" width="2" height="1"/>
<rect x="1653" y="524" width="2" height="1"/>
<rect x="1653" y="557" width="2" height="1"/>
<rect x="1653" y="590" width="2" height="1"/>
</g>
<text x="1657.6" y="33.0" font-size="10" fill="#000" text-anchor="start" textLength="34.0" lengthAdjust="spacingAndGlyphs" >34915.0</text>
<text x="1657.6" y="66.0" font-size="10" fill="#000" text-anchor="start" textLength="34.0" lengthAdjust="spacingAndGlyphs" >34792.5</text>
<text x="1657.6" y="99.0" font-size="10" fill="#000" text-anchor="start" textLength="34.0" lengthAdjust="spacingAndGlyphs" >34673.5</text>
<text x="1657.6" y="132.0" font-size="10" fill="#000" text-anchor="start" textLength="34.0" lengthAdjust="spacingAndGlyphs" >34551.0</text>
<text x="1657.6" y="165.0" font-size="10" fill="#000" text-anchor="start" textLength="34.0" lengthAdjust="spacingAndGlyphs" >34432.0</text>
<text x="1657.6" y="198.0" font-size="10" fill="#000" text-anchor="start" textLength="34.0" lengthAdjust="spacingAndGlyphs" >34309.5</text>
<text x="1657.6" y="231.0" font-size="10" fill="#000" text-anchor="start" textLength="34.0" lengthAdjust="spacingAndGlyphs" >34190.5</text>
<text x="1657.6" y="264.0" font-size="10" fill="#000" text-anchor="start" textLength="34.0" lengthAdjust="spacingAndGlyphs" >34068.0</text>
<text x="1657.6" y="297.0" font-size="10" fill="#000" text-anchor="start" textLength="34.0" lengthAdjust="spacingAndGlyphs" >33945.5</text>
<text x="1657.6" y="330.0" font-size="10" fill="#000" text-anchor="start" textLength="34.0" lengthAdjust="spacingAndGlyphs" >33827.0</text>
<text x="1657.6" y="363.0" font-size="10" fill="#000" text-anchor="start" textLength="34.0" lengthAdjust="spacingAndGlyphs" >33704.0</text>
<text x="1657.6" y="396.0" font-size="10" fill="#000" text-anchor="start" textLength="34.0" lengthAdjust="spacingAndGlyphs" >33585.0</text>
<text x="1657.6" y="429.0" font-size="10" fill="#000" text-anchor="start" textLength="34.0" lengthAdjust="spacingAndGlyphs" >33462.5</text>
<text x="1657.6" y="462.0" font-size="10" fill="#000" text-anchor="start" textLength="34.0" lengthAdjust="spacingAndGlyphs" >33343.5</text>
<text x="1657.6" y="495.0" font-size="10" fill="#000" text-anchor="start" textLength="34.0" lengthAdjust="spacingAndGlyphs" >33221.0</text>
<text x="1657.6" y="528.0" font-size="10" fill="#000" text-anchor="start" textLength="34.0" lengthAdjust="spacingAndGlyphs" >33102.0</text>
<text x="1657.6" y="561.0" font-size="10" fill="#000" text-anchor="start" textLength="34.0" lengthAdjust="spacingAndGlyphs" >32979.5</text>
<text x="1657.6" y="594.0" font-size="10" fill="#000" text-anchor="start" textLength="34.0" lengthAdjust="spacingAndGlyphs" >32860.5</text>
<g shape-rendering="crispEdges" fill="#000">
<rect x="1653" y="597" width="1" height="1"/>
<rect x="1653" y="639" width="1" height="1"/>
<rect x="1653" y="750" width="1" height="1"/>
<rect x="1653" y="755" width="1" height="1"/>
<rect x="1653" y="789" width="1" height="1"/>
<rect x="1653" y="840" width="1" height="1"/>
<rect x="1653" y="901" width="1" height="1"/>
<rect x="1653" y="925" width="1" height="1"/>
</g>
<text x="1656.5" y="606.0" font-size="10" fill="#000" text-anchor="start" textLength="27.5" lengthAdjust="spacingAndGlyphs" >126.12</text>
<text x="1656.5" y="643.4" font-size="10" fill="#000" text-anchor="start" textLength="17.5" lengthAdjust="spacingAndGlyphs" >0.00</text>
<text x="1656.5" y="748.3" font-size="10" fill="#000" text-anchor="start" textLength="30.5" lengthAdjust="spacingAndGlyphs" >-326.67</text>
<text x="1656.5" y="764.0" font-size="10" fill="#000" text-anchor="start" textLength="14.0" lengthAdjust="spacingAndGlyphs" >100</text>
<text x="1656.5" y="792.5" font-size="10" fill="#000" text-anchor="start" textLength="9.5" lengthAdjust="spacingAndGlyphs" >80</text>
<text x="1656.5" y="844.0" font-size="10" fill="#000" text-anchor="start" textLength="9.5" lengthAdjust="spacingAndGlyphs" >50</text>
<text x="1656.5" y="905.0" font-size="10" fill="#000" text-anchor="start" textLength="9.5" lengthAdjust="spacingAndGlyphs" >15</text>
<text x="1656.5" y="924.0" font-size="10" fill="#000" text-anchor="start" textLength="4.8" lengthAdjust="spacingAndGlyphs" >0</text>
<rect x="1654" y="275" width="41" height="11" fill="#ff0000" shape-rendering="crispEdges"/>
<text x="1657.6" y="284.0" font-size="10" fill="#fff" text-anchor="start" textLength="34.0" lengthAdjust="spacingAndGlyphs" >33991.1</text>
<rect x="1654" y="293" width="41" height="11" fill="#ff0000" shape-rendering="crispEdges"/>
<text x="1657.6" y="302.0" font-size="10" fill="#fff" text-anchor="start" textLength="34.0" lengthAdjust="spacingAndGlyphs" >33925.2</text>
<rect x="1647.5" y="297.5" width="4" height="4" fill="#fff" stroke="#ff0000" stroke-width="1" shape-rendering="crispEdges"/>
<rect x="1654" y="312" width="41" height="11" fill="#000" shape-rendering="crispEdges"/>
<text x="1657.6" y="321.0" font-size="10" fill="#fff" text-anchor="start" textLength="34.0" lengthAdjust="spacingAndGlyphs" >33854.0</text>
<rect x="1654" y="326" width="41" height="11" fill="#32cd32" shape-rendering="crispEdges"/>
<text x="1657.6" y="335.0" font-size="10" fill="#fff" text-anchor="start" textLength="34.0" lengthAdjust="spacingAndGlyphs" >33804.5</text>
<rect x="1654" y="347" width="41" height="11" fill="#0000ff" shape-rendering="crispEdges"/>
<text x="1657.6" y="356.0" font-size="10" fill="#fff" text-anchor="start" textLength="34.0" lengthAdjust="spacingAndGlyphs" >33727.7</text>
<rect x="1647.5" y="351.5" width="4" height="4" fill="#fff" stroke="#0000ff" stroke-width="1" shape-rendering="crispEdges"/>
<rect x="1654" y="364" width="41" height="11" fill="#0000ff" shape-rendering="crispEdges"/>
<text x="1657.6" y="373.0" font-size="10" fill="#fff" text-anchor="start" textLength="34.0" lengthAdjust="spacingAndGlyphs" >33665.6</text>
<rect x="1647.5" y="368.5" width="4" height="4" fill="#fff" stroke="#0000ff" stroke-width="1" shape-rendering="crispEdges"/>
<g shape-rendering="crispEdges" fill="#000">
<rect x="-6" y="927" width="1" height="4"/>
<rect x="58" y="927" width="1" height="4"/>
<rect x="122" y="927" width="1" height="4"/>
<rect x="186" y="927" width="1" height="4"/>
<rect x="250" y="927" width="1" height="4"/>
<rect x="314" y="927" width="1" height="4"/>
<rect x="378" y="927" width="1" height="4"/>
<rect x="442" y="927" width="1" height="4"/>
<rect x="506" y="927" width="1" height="4"/>
<rect x="570" y="927" width="1" height="4"/>
<rect x="634" y="927" width="1" height="4"/>
<rect x="698" y="927" width="1" height="4"/>
<rect x="762" y="927" width="1" height="4"/>
<rect x="826" y="927" width="1" height="4"/>
<rect x="890" y="927" width="1" height="4"/>
<rect x="954" y="927" width="1" height="4"/>
<rect x="1018" y="927" width="1" height="4"/>
<rect x="1082" y="927" width="1" height="4"/>
<rect x="1146" y="927" width="1" height="4"/>
<rect x="1210" y="927" width="1" height="4"/>
<rect x="1274" y="927" width="1" height="4"/>
<rect x="1338" y="927" width="1" height="4"/>
<rect x="1402" y="927" width="1" height="4"/>
</g>
<text x="-7.0" y="940.0" font-size="10" fill="#000" text-anchor="start" textLength="55.0" lengthAdjust="spacingAndGlyphs" >13 May 2021</text>
<text x="57.0" y="940.0" font-size="10" fill="#000" text-anchor="start" textLength="58.0" lengthAdjust="spacingAndGlyphs" >14 May 20:00</text>
<text x="121.0" y="940.0" font-size="10" fill="#000" text-anchor="start" textLength="58.0" lengthAdjust="spacingAndGlyphs" >18 May 00:00</text>
<text x="185.0" y="940.0" font-size="10" fill="#000" text-anchor="start" textLength="58.0" lengthAdjust="spacingAndGlyphs" >19 May 08:00</text>
<text x="249.0" y="940.0" font-size="10" fill="#000" text-anchor="start" textLength="58.0" lengthAdjust="spacingAndGlyphs" >20 May 16:00</text>
<text x="313.0" y="940.0" font-size="10" fill="#000" text-anchor="start" textLength="58.0" lengthAdjust="spacingAndGlyphs" >23 May 23:00</text>
<text x="377.0" y="940.0" font-size="10" fill="#000" text-anchor="start" textLength="58.0" lengthAdjust="spacingAndGlyphs" >25 May 04:00</text>
<text x="441.0" y="940.0" font-size="10" fill="#000" text-anchor="start" textLength="58.0" lengthAdjust="spacingAndGlyphs" >26 May 12:00</text>
<text x="505.0" y="940.0" font-size="10" fill="#000" text-anchor="start" textLength="58.0" lengthAdjust="spacingAndGlyphs" >27 May 20:00</text>
<text x="569.0" y="940.0" font-size="10" fill="#000" text-anchor="start" textLength="58.0" lengthAdjust="spacingAndGlyphs" >31 May 00:00</text>
<text x="633.0" y="940.0" font-size="10" fill="#000" text-anchor="start" textLength="48.0" lengthAdjust="spacingAndGlyphs" >1 Jun 08:00</text>
<text x="697.0" y="940.0" font-size="10" fill="#000" text-anchor="start" textLength="48.0" lengthAdjust="spacingAndGlyphs" >2 Jun 16:00</text>
<text x="761.0" y="940.0" font-size="10" fill="#000" text-anchor="start" textLength="48.0" lengthAdjust="spacingAndGlyphs" >4 Jun 00:00</text>
<text x="825.0" y="940.0" font-size="10" fill="#000" text-anchor="start" textLength="48.0" lengthAdjust="spacingAndGlyphs" >7 Jun 04:00</text>
<text x="889.0" y="940.0" font-size="10" fill="#000" text-anchor="start" textLength="48.0" lengthAdjust="spacingAndGlyphs" >8 Jun 12:00</text>
<text x="953.0" y="940.0" font-size="10" fill="#000" text-anchor="start" textLength="48.0" lengthAdjust="spacingAndGlyphs" >9 Jun 20:00</text>
<text x="1017.0" y="940.0" font-size="10" fill="#000" text-anchor="start" textLength="53.0" lengthAdjust="spacingAndGlyphs" >11 Jun 04:00</text>
<text x="1081.0" y="940.0" font-size="10" fill="#000" text-anchor="start" textLength="53.0" lengthAdjust="spacingAndGlyphs" >14 Jun 08:00</text>
<text x="1145.0" y="940.0" font-size="10" fill="#000" text-anchor="start" textLength="53.0" lengthAdjust="spacingAndGlyphs" >15 Jun 16:00</text>
<text x="1209.0" y="940.0" font-size="10" fill="#000" text-anchor="start" textLength="53.0" lengthAdjust="spacingAndGlyphs" >17 Jun 00:00</text>
<text x="1273.0" y="940.0" font-size="10" fill="#000" text-anchor="start" textLength="53.0" lengthAdjust="spacingAndGlyphs" >18 Jun 08:00</text>
<text x="1337.0" y="940.0" font-size="10" fill="#000" text-anchor="start" textLength="53.0" lengthAdjust="spacingAndGlyphs" >21 Jun 12:00</text>
<text x="1401.0" y="940.0" font-size="10" fill="#000" text-anchor="start" textLength="53.0" lengthAdjust="spacingAndGlyphs" >22 Jun 20:00</text>
<text x="9.5" y="38.0" font-size="10" fill="#000" text-anchor="start" textLength="185.5" lengthAdjust="spacingAndGlyphs" >DJ30-,H4  33854.0 33854.0 33854.0 33854.0</text>
<polygon points="0,33.5 4,37 0,37" fill="#000"/>
<text x="-0.5" y="608.0" font-size="10" fill="#000" text-anchor="start" textLength="117.5" lengthAdjust="spacingAndGlyphs" >MACD(12,26,9) -3.16 -78.95</text>
<text x="-2.0" y="766.0" font-size="10" fill="#000" text-anchor="start" textLength="67.5" lengthAdjust="spacingAndGlyphs" >RSI(14) 55.8308</text>
<g fill="#c0c0c0" shape-rendering="crispEdges"><rect x="1414" y="27" width="9" height="1"/><rect x="1415" y="28" width="7" height="1"/><rect x="1416" y="29" width="5" height="1"/><rect x="1417" y="30" width="3" height="1"/><rect x="1418" y="31" width="1" height="1"/></g>
<!-- one-click trade panel -->
<defs>
<linearGradient id="gRedTop" x1="0" y1="0" x2="0" y2="1"><stop offset="0" stop-color="#f95252"/><stop offset="1" stop-color="#e03030"/></linearGradient>
<linearGradient id="gRedBot" gradientUnits="userSpaceOnUse" x1="0" y1="70" x2="0" y2="103"><stop offset="0" stop-color="#e03030"/><stop offset="1" stop-color="#aa0000"/></linearGradient>
<linearGradient id="gBtn" x1="0" y1="0" x2="0" y2="1"><stop offset="0" stop-color="#f2f2f2"/><stop offset="0.45" stop-color="#e6e6e6"/><stop offset="0.5" stop-color="#d6d6d6"/><stop offset="1" stop-color="#cfcfcf"/></linearGradient>
</defs>
<g shape-rendering="crispEdges">
<rect x="0" y="46" width="216" height="57" fill="#fff"/>
<rect x="0" y="46" width="49" height="24" fill="url(#gRedTop)"/>
<rect x="164" y="46" width="52" height="24" fill="url(#gRedTop)"/>
<rect x="0" y="70" width="106" height="33" fill="url(#gRedBot)"/>
<rect x="108" y="70" width="108" height="33" fill="url(#gRedBot)"/>
<rect x="1" y="69" width="44" height="1" fill="#ff8a8a"/>
<rect x="168" y="69" width="44" height="1" fill="#ff8a8a"/>
<rect x="49" y="46" width="115" height="24" fill="#f4f4f4"/>
<rect x="51.5" y="46.5" width="110" height="21" fill="#fff" stroke="#a3a3ab" stroke-width="1"/>
<rect x="52" y="47" width="20" height="20" fill="url(#gBtn)"/>
<rect x="141" y="47" width="20" height="20" fill="url(#gBtn)"/>
<rect x="72" y="47" width="1" height="20" fill="#a3a3ab"/>
<rect x="140" y="47" width="1" height="20" fill="#a3a3ab"/>
</g>
<polygon points="59,55 64.5,55 61.75,58.2" fill="#4a5cc0"/>
<polygon points="148,58 153.5,58 150.75,54.8" fill="#4a5cc0"/>
<text x="9" y="61.5" font-size="12" fill="#fff" textLength="26" lengthAdjust="spacingAndGlyphs">SELL</text>
<text x="177.5" y="61.5" font-size="12" fill="#fff" textLength="22.5" lengthAdjust="spacingAndGlyphs">BUY</text>
<text x="113.5" y="61" font-size="11.8" fill="#000" textLength="23" lengthAdjust="spacingAndGlyphs">1.00</text>
<text x="13.5" y="98" font-size="12" font-weight="bold" fill="#fff" textLength="34" lengthAdjust="spacingAndGlyphs">33852</text>
<text x="124" y="98" font-size="12" font-weight="bold" fill="#fff" textLength="34" lengthAdjust="spacingAndGlyphs">33860</text>
<rect x="52.6" y="94.2" width="3.7" height="3.7" rx="1" fill="#fff"/>
<rect x="163.6" y="94.2" width="3.7" height="3.7" rx="1" fill="#fff"/>
<text x="58.5" y="98" font-size="32" fill="#fff" stroke="url(#gRedBot)" stroke-width="0.8" textLength="17" lengthAdjust="spacingAndGlyphs">5</text>
<text x="169.5" y="98" font-size="32" fill="#fff" stroke="url(#gRedBot)" stroke-width="0.8" textLength="17" lengthAdjust="spacingAndGlyphs">5</text>

<!-- toolbar -->
<g shape-rendering="crispEdges">
<rect x="0" y="0" width="1699" height="21" fill="#f0f0f0"/>
<rect x="0" y="21" width="1699" height="1" fill="#f9f9f9"/>
<rect x="0" y="22" width="1698" height="1" fill="#a8a8a8"/>
<rect x="0" y="23" width="1698" height="1" fill="#6c6c6c"/>
<rect x="1698" y="22" width="1" height="921" fill="#e8e8e8"/>
</g>

<defs>
<linearGradient id="gPlus" x1="0" y1="0" x2="1" y2="1"><stop offset="0" stop-color="#5cf05c"/><stop offset="1" stop-color="#0a9a0a"/></linearGradient>
<linearGradient id="gGold" x1="0" y1="0" x2="1" y2="1"><stop offset="0" stop-color="#f6dc6a"/><stop offset="1" stop-color="#b07a10"/></linearGradient>
<linearGradient id="gBlue" x1="0" y1="0" x2="0" y2="1"><stop offset="0" stop-color="#58a8f0"/><stop offset="1" stop-color="#1858c0"/></linearGradient>
<linearGradient id="gBadge" x1="0" y1="0" x2="0" y2="1"><stop offset="0" stop-color="#ea5838"/><stop offset="1" stop-color="#dc2010"/></linearGradient>
<radialGradient id="gLens" cx="0.4" cy="0.35" r="0.7"><stop offset="0" stop-color="#f4fbff"/><stop offset="1" stop-color="#b8d8f0"/></radialGradient>
<pattern id="pSel" width="2" height="2" patternUnits="userSpaceOnUse"><rect width="2" height="2" fill="#f8f8f8"/><rect width="1" height="1" fill="#ececec"/><rect x="1" y="1" width="1" height="1" fill="#ececec"/></pattern>
</defs>
<circle cx="-1" cy="9" r="4.5" fill="url(#gLens)" stroke="#3a78c8" stroke-width="1.6"/><line x1="2" y1="13" x2="6" y2="17.5" stroke="#c89a20" stroke-width="2.6" stroke-linecap="round"/>
<rect x="13" y="1" width="1" height="19" fill="#8c8c8c" shape-rendering="crispEdges"/>
<path d="M24 3.2h7l3.5 3.5v8.6h-10.5z" fill="#fff" stroke="#8a8a8a" stroke-width="1"/><path d="M31 3.2v3.5h3.5" fill="#e8e8e8" stroke="#8a8a8a" stroke-width=".8"/>
<g stroke="#9a9a9a" stroke-width="1" shape-rendering="crispEdges"><line x1="26" y1="5.5" x2="29" y2="5.5"/><line x1="26" y1="8.5" x2="32" y2="8.5"/><line x1="26" y1="10.5" x2="31" y2="10.5"/><line x1="26" y1="12.5" x2="29" y2="12.5"/></g>
<path d="M31.5 8.5h3.5v3.5h3.8v3.4h-3.8v3.8h-3.5v-3.8h-3.8v-3.4h3.8z" fill="url(#gPlus)" stroke="#0a7a0a" stroke-width=".8"/>
<text x="41.7" y="13.3" font-size="12" fill="#000" text-anchor="start" textLength="36" lengthAdjust="spacingAndGlyphs" style="font-family:&quot;Liberation Sans&quot;,&quot;Noto Sans CJK SC&quot;,sans-serif">新订单</text>
<path d="M90 11.5l8.5-8.5 8 4.5-7.5 10.5z" fill="url(#gGold)" stroke="#a87410" stroke-width=".8"/><path d="M90 11.5l1 2.2 8.5 4.5-.5-0.2z" fill="#8a5a08"/><path d="M91 13.7l8.5 4.5 7.4-10.4" fill="none" stroke="#7a5008" stroke-width="1"/>
<path d="M121 3.600l3-1.400 7 .4v9.400h-10z" fill="#2a66c8"/><path d="M124 2.200l7 .4v9.400h-7z" fill="url(#gBlue)"/><rect x="125" y="5.200" width="5" height="4" fill="#eef6ff"/><rect x="126" y="6.600" width="3.200" height="1" fill="#3a78d0"/>
<path d="M121 17.400a2.700 2.700 0 0 1-.5-5.300a3.400 3.400 0 0 1 6.200-1.300a3.100 3.100 0 0 1 4.700 1.700a2.500 2.500 0 0 1-.1 4.900z" fill="#eef2fa" stroke="#6a80b4" stroke-width=".9"/><path d="M121.500 16.600h10" stroke="#b8c4dc" stroke-width="1"/>
<path d="M154.100 9.600l0-8a8 8 0 0 1 0 16z" fill="#a8cfa8" opacity=".55"/><path d="M154.100 9.600l0-5.200a5.200 5.200 0 0 1 0 10.400z" fill="#7fb97f" opacity=".6"/>
<g fill="none"><path d="M154.100 1.600a8 8 0 0 0 0 16" stroke="#9ab0e4" stroke-width="1.100"/><path d="M154.100 4.200a5.400 5.400 0 0 0 0 10.800" stroke="#6c8cdc" stroke-width="1.200"/><path d="M154.100 6.600a3 3 0 0 0 0 6" stroke="#4a6ed4" stroke-width="1.200"/><path d="M154.100 1.600a8 8 0 0 1 6.500 12.600" stroke="#8fbf8f" stroke-width="1"/></g>
<circle cx="154.100" cy="9.600" r="1.700" fill="#3060d0"/><path d="M154.300 10v7.300a8 8 0 0 0 5.400-2.600" fill="none" stroke="#18a018" stroke-width="1.500"/>
<path d="M174 8.400l9.300 8.900 4.500-8.900z" fill="url(#gGold)" stroke="#c8981c" stroke-width=".5"/>
<ellipse cx="180.800" cy="7.200" rx="7.800" ry="2.300" fill="#3f8fd8" stroke="#2a6cb4" stroke-width=".6"/><path d="M177.600 6.600c0-2.400 1.200-4.400 3.400-4.400s3.400 2 3.400 4.400c-1.600 .9-5.200 .9-6.800 0z" fill="#62aee8" stroke="#2a6cb4" stroke-width=".6"/>
<circle cx="185.500" cy="13.700" r="4.100" fill="#dc1c10"/><circle cx="185.500" cy="13.700" r="4.100" fill="none" stroke="#f05a40" stroke-width=".6"/><rect x="183.900" y="12.100" width="3.200" height="3.200" fill="#fff"/>
<text x="196" y="13.4" font-size="11.5" fill="#000" text-anchor="start" textLength="45.5" lengthAdjust="spacingAndGlyphs" style="font-family:&quot;Liberation Sans&quot;,&quot;Noto Sans CJK SC&quot;,sans-serif">自动交易</text>
<rect x="249" y="1" width="1" height="19" fill="#8c8c8c" shape-rendering="crispEdges"/>
<g shape-rendering="crispEdges" fill="#a8a8a8"><rect x="252" y="1" width="3" height="1"/><rect x="252" y="3" width="3" height="1"/><rect x="252" y="5" width="3" height="1"/><rect x="252" y="7" width="3" height="1"/><rect x="252" y="9" width="3" height="1"/><rect x="252" y="11" width="3" height="1"/><rect x="252" y="13" width="3" height="1"/><rect x="252" y="15" width="3" height="1"/><rect x="252" y="17" width="3" height="1"/><rect x="252" y="19" width="3" height="1"/></g>
<g stroke="#505050" stroke-width="1" fill="none" shape-rendering="crispEdges"><line x1="267.5" y1="5" x2="267.5" y2="18"/><line x1="265" y1="15.5" x2="277" y2="15.5"/></g>
<polygon points="267.5,3.5 265.7,6.2 269.3,6.2" fill="#505050"/><polygon points="279,15.5 276.3,13.7 276.3,17.3" fill="#505050"/>
<g stroke="#1a8a1a" stroke-width="1.4" fill="none"><path d="M273.8 5.8v7.4M273.8 6.3h2.4M271.2 12.7h2.6"/></g>
<rect x="287" y="1" width="1" height="19" fill="#8c8c8c" shape-rendering="crispEdges"/>
<g shape-rendering="crispEdges"><rect x="288" y="0" width="24" height="20" fill="url(#pSel)"/><rect x="287" y="20" width="26" height="1" fill="#fff"/><rect x="312" y="0" width="1" height="20" fill="#fff"/></g>
<g stroke="#505050" stroke-width="1" fill="none" shape-rendering="crispEdges"><line x1="295.5" y1="5" x2="295.5" y2="18"/><line x1="293" y1="15.5" x2="305" y2="15.5"/></g>
<polygon points="295.5,3.5 293.7,6.2 297.3,6.2" fill="#505050"/><polygon points="307,15.5 304.3,13.7 304.3,17.3" fill="#505050"/>
<line x1="301.5" y1="2" x2="301.5" y2="14" stroke="#0a7a0a" stroke-width="1" shape-rendering="crispEdges"/><rect x="299.5" y="4.5" width="4" height="7" fill="#2edc2e" stroke="#0a8a0a" stroke-width="1" shape-rendering="crispEdges"/>
<g stroke="#505050" stroke-width="1" fill="none" shape-rendering="crispEdges"><line x1="323.5" y1="5" x2="323.5" y2="18"/><line x1="321" y1="15.5" x2="333" y2="15.5"/></g>
<polygon points="323.5,3.5 321.7,6.2 325.3,6.2" fill="#505050"/><polygon points="335,15.5 332.3,13.7 332.3,17.3" fill="#505050"/>
<path d="M322 12.8c2.500-2 4-6 6-5.800s3.500 3.200 5.800 4" fill="none" stroke="#1a8a1a" stroke-width="1.2"/>
<rect x="344" y="1" width="1" height="19" fill="#8c8c8c" shape-rendering="crispEdges"/>
<line x1="363.2" y1="12.2" x2="368" y2="16.8" stroke="#c89a20" stroke-width="2.800" stroke-linecap="round"/><line x1="364" y1="12.400" x2="368" y2="16.2" stroke="#f0d060" stroke-width="1" stroke-linecap="round"/>
<circle cx="359" cy="8" r="5.600" fill="url(#gLens)" stroke="#3a78c8" stroke-width="1.3"/>
<line x1="356" y1="8" x2="362" y2="8" stroke="#3a7ab0" stroke-width="1.500"/>
<line x1="359" y1="5" x2="359" y2="11" stroke="#3a7ab0" stroke-width="1.500"/>
<line x1="391.0" y1="12.2" x2="395.8" y2="16.8" stroke="#c89a20" stroke-width="2.800" stroke-linecap="round"/><line x1="391.8" y1="12.400" x2="395.8" y2="16.2" stroke="#f0d060" stroke-width="1" stroke-linecap="round"/>
<circle cx="386.8" cy="8" r="5.600" fill="url(#gLens)" stroke="#3a78c8" stroke-width="1.3"/>
<line x1="383.8" y1="8" x2="389.8" y2="8" stroke="#3a7ab0" stroke-width="1.500"/>
<rect x="409.3" y="2.2" width="7.500" height="7.500" fill="#5ab82a"/><rect x="409.3" y="5.7" width="7.500" height="4" fill="#2a8a10" opacity=".55"/><rect x="410.3" y="4.800000000000001" width="5.500" height="3.900" rx=".8" fill="#fff"/><rect x="411.5" y="6.3" width="3.100" height=".9" fill="#5ab82a"/><rect x="410.1" y="3.0" width="1" height="1" fill="#fff" opacity=".8"/>
<rect x="417.2" y="2.2" width="7.500" height="7.500" fill="#3a6ae0"/><rect x="417.2" y="5.7" width="7.500" height="4" fill="#1838b0" opacity=".55"/><rect x="418.2" y="4.800000000000001" width="5.500" height="3.900" rx=".8" fill="#fff"/><rect x="419.4" y="6.3" width="3.100" height=".9" fill="#3a6ae0"/><rect x="418.0" y="3.0" width="1" height="1" fill="#fff" opacity=".8"/>
<rect x="409.3" y="10.1" width="7.500" height="7.500" fill="#3a6ae0"/><rect x="409.3" y="13.6" width="7.500" height="4" fill="#1838b0" opacity=".55"/><rect x="410.3" y="12.7" width="5.500" height="3.900" rx=".8" fill="#fff"/><rect x="411.5" y="14.2" width="3.100" height=".9" fill="#3a6ae0"/><rect x="410.1" y="10.9" width="1" height="1" fill="#fff" opacity=".8"/>
<rect x="417.2" y="10.1" width="7.500" height="7.500" fill="#5ab82a"/><rect x="417.2" y="13.6" width="7.500" height="4" fill="#2a8a10" opacity=".55"/><rect x="418.2" y="12.7" width="5.500" height="3.900" rx=".8" fill="#fff"/><rect x="419.4" y="14.2" width="3.100" height=".9" fill="#5ab82a"/><rect x="418.0" y="10.9" width="1" height="1" fill="#fff" opacity=".8"/>
<rect x="434" y="1" width="1" height="19" fill="#8c8c8c" shape-rendering="crispEdges"/>
<rect x="439" y="1" width="1" height="19" fill="#8c8c8c" shape-rendering="crispEdges"/>
<g shape-rendering="crispEdges"><rect x="440" y="0" width="24" height="20" fill="url(#pSel)"/><rect x="439" y="20" width="26" height="1" fill="#fff"/><rect x="464" y="0" width="1" height="20" fill="#fff"/></g>
<g stroke="#505050" stroke-width="1" fill="none" shape-rendering="crispEdges"><line x1="447.5" y1="5" x2="447.5" y2="18"/><line x1="445" y1="15.5" x2="457" y2="15.5"/></g>
<polygon points="447.5,3.5 445.7,6.2 449.3,6.2" fill="#505050"/><polygon points="459,15.5 456.3,13.7 456.3,17.3" fill="#505050"/>
<polygon points="452.2,6.2 452.2,12.400 455.900,9.300" fill="#7ae07a" stroke="#1a9a1a" stroke-width="1"/>
<rect x="467" y="1" width="1" height="19" fill="#8c8c8c" shape-rendering="crispEdges"/>
<g shape-rendering="crispEdges"><rect x="468" y="0" width="24" height="20" fill="url(#pSel)"/><rect x="467" y="20" width="26" height="1" fill="#fff"/><rect x="492" y="0" width="1" height="20" fill="#fff"/></g>
<g stroke="#505050" stroke-width="1" fill="none" shape-rendering="crispEdges"><line x1="475.5" y1="5" x2="475.5" y2="18"/><line x1="473" y1="15.5" x2="485" y2="15.5"/></g>
<polygon points="475.5,3.5 473.7,6.2 477.3,6.2" fill="#505050"/><polygon points="487,15.5 484.3,13.7 484.3,17.3" fill="#505050"/>
<line x1="481.500" y1="4" x2="481.500" y2="14" stroke="#2a6ab0" stroke-width="1" shape-rendering="crispEdges"/><path d="M482.500 9.300l3-2.300v1.600h2v1.400h-2v1.600z" fill="#e04a10"/>
<rect x="496" y="1" width="1" height="19" fill="#8c8c8c" shape-rendering="crispEdges"/>
<path d="M506.900 2.800h7l3.200 3.200v9h-10.200z" fill="#fff" stroke="#8a8a8a" stroke-width="1"/><path d="M513.900 2.800v3.200h3.200" fill="#e8e8e8" stroke="#8a8a8a" stroke-width=".8"/><text x="508.500" y="12" font-size="9" font-style="italic" fill="#555">f</text>
<path d="M514.300 8.400h3.600v3.600h3.900v3.400h-3.900v3.700h-3.600v-3.700h-3.900v-3.400h3.900z" fill="url(#gPlus)" stroke="#0a7a0a" stroke-width=".8"/>
<polygon points="528,9 533,9 530.5,12" fill="#000"/>
<circle cx="551.900" cy="9.600" r="6.800" fill="#fdfdfd" stroke="url(#gBlue)" stroke-width="2.200"/><circle cx="551.900" cy="9.600" r="7.900" fill="none" stroke="#1a50a8" stroke-width=".5"/><path d="M551.700 5.500v4.300h3" fill="none" stroke="#333" stroke-width="1.100"/><g fill="#9ab"><circle cx="557.1" cy="9.6" r=".45"/><circle cx="556.4" cy="12.2" r=".45"/><circle cx="554.5" cy="14.1" r=".45"/><circle cx="551.9" cy="14.8" r=".45"/><circle cx="549.3" cy="14.1" r=".45"/><circle cx="547.4" cy="12.2" r=".45"/><circle cx="546.7" cy="9.6" r=".45"/><circle cx="547.4" cy="7.0" r=".45"/><circle cx="549.3" cy="5.1" r=".45"/><circle cx="551.9" cy="4.4" r=".45"/><circle cx="554.5" cy="5.1" r=".45"/><circle cx="556.4" cy="7.0" r=".45"/></g>
<polygon points="567,9 572,9 569.5,12" fill="#000"/>
<rect x="583.500" y="3.500" width="15" height="13" fill="#fff" stroke="#3a68c8" stroke-width="1"/><rect x="584" y="4" width="14" height="2" fill="#7ab0f0"/><line x1="584" y1="10.500" x2="598" y2="10.500" stroke="#3a68c8" stroke-width="1"/><path d="M585.500 9l2-.2 2-1.300 2 .8 2-.3 2-1.200" fill="none" stroke="#a02a10" stroke-width="1.200"/><path d="M585.500 14.500l2-.3 2-1 1.500.8 2.500-1.800 2 1.800" fill="none" stroke="#1a9a1a" stroke-width="1.200"/>
<polygon points="606,9 611,9 608.5,12" fill="#000"/>
<rect x="617" y="1" width="1" height="19" fill="#8c8c8c" shape-rendering="crispEdges"/>
<g shape-rendering="crispEdges" fill="#a8a8a8"><rect x="621" y="1" width="3" height="1"/><rect x="621" y="3" width="3" height="1"/><rect x="621" y="5" width="3" height="1"/><rect x="621" y="7" width="3" height="1"/><rect x="621" y="9" width="3" height="1"/><rect x="621" y="11" width="3" height="1"/><rect x="621" y="13" width="3" height="1"/><rect x="621" y="15" width="3" height="1"/><rect x="621" y="17" width="3" height="1"/><rect x="621" y="19" width="3" height="1"/></g>
<rect x="627" y="0" width="1" height="20" fill="#8c8c8c" shape-rendering="crispEdges"/>
<g shape-rendering="crispEdges"><rect x="628" y="0" width="24" height="20" fill="url(#pSel)"/><rect x="627" y="20" width="26" height="1" fill="#fff"/><rect x="652" y="0" width="1" height="20" fill="#fff"/></g>
<polygon points="634.700,3.100 634.700,14.300 637.400,11.900 640,16.900 642.200,15.900 639.700,11 643.200,10.700" fill="#4e4e4e"/>
<g stroke="#4e4e4e" stroke-width="1" shape-rendering="crispEdges"><line x1="660" y1="10.500" x2="666" y2="10.500"/><line x1="669" y1="10.500" x2="675" y2="10.500"/><line x1="667.500" y1="3" x2="667.500" y2="9"/><line x1="667.500" y1="12" x2="667.500" y2="18"/></g>
<rect x="684" y="1" width="1" height="19" fill="#8c8c8c" shape-rendering="crispEdges"/>
<g stroke="#4e4e4e" stroke-width="1.200" fill="none"><line x1="701.500" y1="4" x2="701.500" y2="17"/><line x1="724" y1="10.400" x2="736" y2="10.400"/><line x1="752" y1="16.800" x2="763.800" y2="4.800"/></g>
<g stroke="#4e4e4e" stroke-width="1" fill="none"><path d="M777.800 11.800l8.200-7.800M778.800 16.400l12.800-8M781.500 16.600l9-6.200"/><path d="M780.500 9.500l1.500 6M783 7.500l1.500 6M785.500 5.500l1.500 6M789.200 2.200l.8 6" stroke-dasharray="1,1"/></g>
<text x="788.800" y="18.600" font-size="6.500" font-weight="bold" fill="#333">E</text>
<g stroke="#4e4e4e" stroke-width="1" stroke-dasharray="1,1" shape-rendering="crispEdges"><line x1="807" y1="3.500" x2="820" y2="3.500"/><line x1="807" y1="6.500" x2="820" y2="6.500"/><line x1="807" y1="10.500" x2="820" y2="10.500"/><line x1="807" y1="14.500" x2="816" y2="14.500"/></g>
<text x="816.600" y="18.600" font-size="6.500" font-weight="bold" fill="#333">F</text>
<text x="837.300" y="14.600" font-size="11.800" font-weight="bold" fill="#555" textLength="8.800" lengthAdjust="spacingAndGlyphs">A</text>
<rect x="864.500" y="4.500" width="11" height="12" fill="none" stroke="#4e4e4e" stroke-width="1" stroke-dasharray="1,1" shape-rendering="crispEdges"/><text x="866.300" y="14.600" font-size="10.600" font-weight="bold" fill="#4e4e4e" textLength="7.400" lengthAdjust="spacingAndGlyphs">T</text>
<polygon points="894.700,3.800 897.500,6.600 894.700,9.200 891.900,6.600" fill="#4e4e4e"/><polygon points="901.300,11.400 904.300,14.200 901.300,17 898.300,14.200" fill="#4e4e4e"/><path d="M893.500 11l2 2.400 4.500-5.400" fill="none" stroke="#4e4e4e" stroke-width="1.300"/>
<polygon points="912,9 917,9 914.5,12" fill="#000"/>
<rect x="923" y="1" width="1" height="19" fill="#8c8c8c" shape-rendering="crispEdges"/>
<g shape-rendering="crispEdges" fill="#a8a8a8"><rect x="927" y="1" width="3" height="1"/><rect x="927" y="3" width="3" height="1"/><rect x="927" y="5" width="3" height="1"/><rect x="927" y="7" width="3" height="1"/><rect x="927" y="9" width="3" height="1"/><rect x="927" y="11" width="3" height="1"/><rect x="927" y="13" width="3" height="1"/><rect x="927" y="15" width="3" height="1"/><rect x="927" y="17" width="3" height="1"/><rect x="927" y="19" width="3" height="1"/></g>
<g shape-rendering="crispEdges"><rect x="1074" y="0" width="24" height="20" fill="url(#pSel)"/><rect x="1073" y="20" width="26" height="1" fill="#fff"/><rect x="1098" y="0" width="1" height="20" fill="#fff"/></g>
<rect x="1073" y="0" width="1" height="20" fill="#8c8c8c" shape-rendering="crispEdges"/>
<text x="938.1" y="14" font-size="10" fill="#404040" textLength="13.5" lengthAdjust="spacingAndGlyphs">M1</text>
<text x="966.3" y="14" font-size="10" fill="#404040" textLength="13.6" lengthAdjust="spacingAndGlyphs">M5</text>
<text x="992.2" y="14" font-size="10" fill="#404040" textLength="18.6" lengthAdjust="spacingAndGlyphs">M15</text>
<text x="1020.3" y="14" font-size="10" fill="#404040" textLength="18.7" lengthAdjust="spacingAndGlyphs">M30</text>
<text x="1051.4" y="14" font-size="10" fill="#404040" textLength="12.4" lengthAdjust="spacingAndGlyphs">H1</text>
<text x="1078.0" y="14" font-size="10" fill="#404040" textLength="13.4" lengthAdjust="spacingAndGlyphs">H4</text>
<text x="1107.1" y="14" font-size="10" fill="#404040" textLength="12.6" lengthAdjust="spacingAndGlyphs">D1</text>
<text x="1134.4" y="14" font-size="10" fill="#404040" textLength="15.5" lengthAdjust="spacingAndGlyphs">W1</text>
<text x="1161.1" y="14" font-size="10" fill="#404040" textLength="15.8" lengthAdjust="spacingAndGlyphs">MN</text>
<rect x="1184" y="1" width="1" height="19" fill="#8c8c8c" shape-rendering="crispEdges"/>
<circle cx="1654.500" cy="7" r="3.600" fill="none" stroke="#2a5ad0" stroke-width="1.500"/><line x1="1651.800" y1="9.800" x2="1647" y2="14.800" stroke="#2a5ad0" stroke-width="2.200" stroke-linecap="round"/>
<path d="M1671.500 12a5.500 4.500 0 0 1 11 0a5.500 4.500 0 0 1-5.500 4.500l-2.800 2 .4-2.600a5 4.500 0 0 1-3.100-3.900z" fill="#dcdce8" stroke="#a8a8a8" stroke-width=".9"/>
<circle cx="1685.500" cy="7.400" r="8.200" fill="url(#gBadge)"/><text x="1681.300" y="11.900" font-size="13.200" font-weight="bold" fill="#fff" style="font-family:&quot;Liberation Serif&quot;,serif">1</text>
</svg>
</body></html>
